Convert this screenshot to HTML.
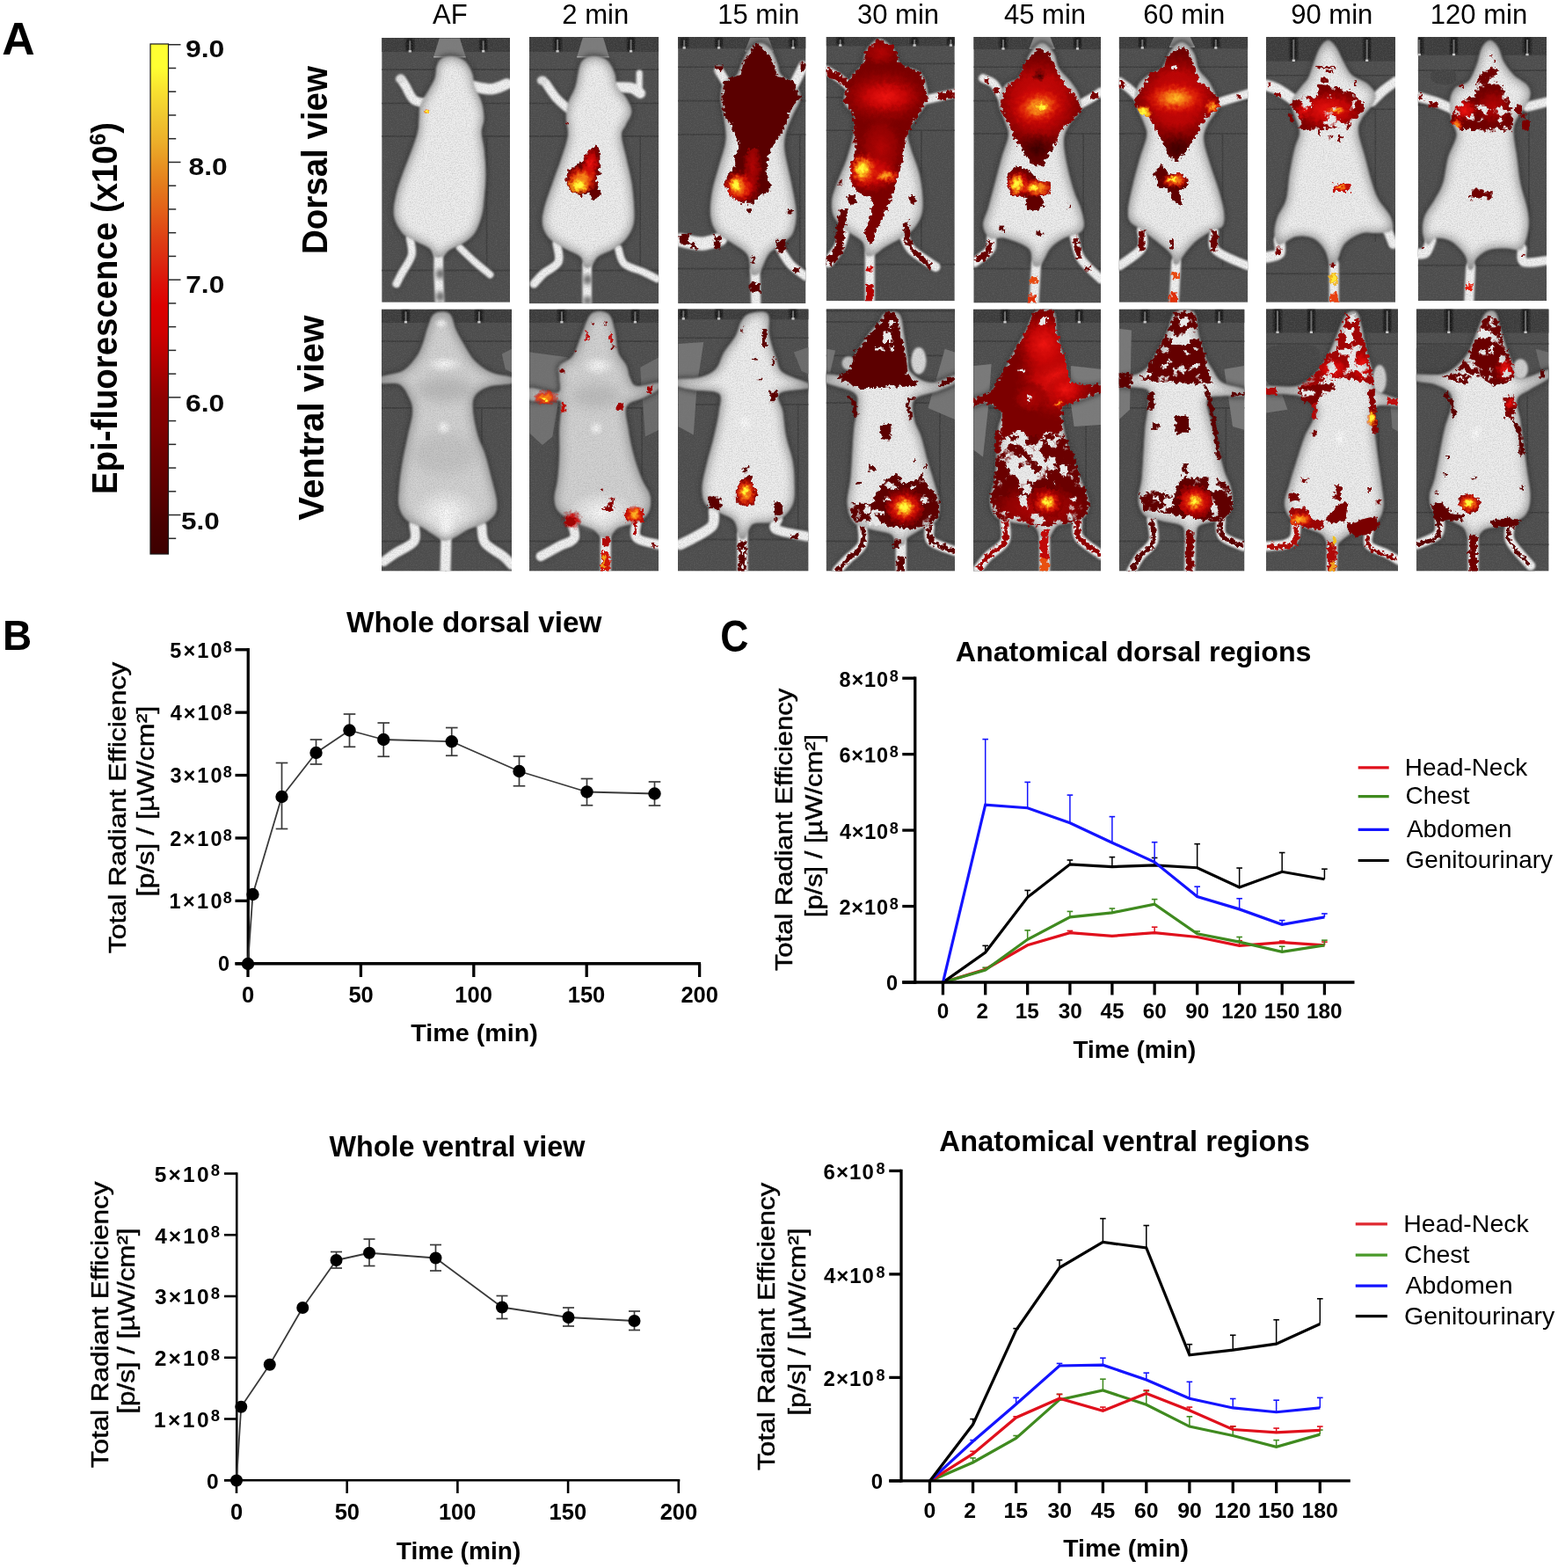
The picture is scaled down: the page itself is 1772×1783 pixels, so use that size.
<!DOCTYPE html>
<html lang="en">
<head>
<meta charset="utf-8">
<title>Epi-fluorescence biodistribution figure</title>
<style>
html,body{margin:0;padding:0;background:#fff;}
body{width:1772px;height:1783px;overflow:hidden;}
svg{display:block;font-family:"Liberation Sans", sans-serif;}
</style>
</head>
<body>
<svg width="1772" height="1783" viewBox="0 0 1772 1783">
<defs>
<linearGradient id="cbar" x1="0" y1="0" x2="0" y2="1">
<stop offset="0" stop-color="#ffff32"/>
<stop offset="0.045" stop-color="#ffff32"/>
<stop offset="0.093" stop-color="#f8e030"/>
<stop offset="0.14" stop-color="#f0c830"/>
<stop offset="0.19" stop-color="#ecb02a"/>
<stop offset="0.235" stop-color="#e89422"/>
<stop offset="0.276" stop-color="#e47c1c"/>
<stop offset="0.33" stop-color="#e25e18"/>
<stop offset="0.377" stop-color="#de4214"/>
<stop offset="0.424" stop-color="#dc2a10"/>
<stop offset="0.472" stop-color="#dc1008"/>
<stop offset="0.513" stop-color="#dd0000"/>
<stop offset="0.566" stop-color="#d00000"/>
<stop offset="0.614" stop-color="#b80000"/>
<stop offset="0.66" stop-color="#a00000"/>
<stop offset="0.7" stop-color="#8c0000"/>
<stop offset="0.75" stop-color="#800000"/>
<stop offset="0.8" stop-color="#700000"/>
<stop offset="0.845" stop-color="#640000"/>
<stop offset="0.89" stop-color="#580000"/>
<stop offset="0.94" stop-color="#480000"/>
<stop offset="1.0" stop-color="#3c0000"/>
</linearGradient>
<filter id="soft" x="-10%" y="-10%" width="120%" height="120%"><feGaussianBlur stdDeviation="1.3"/></filter>
<filter id="soft2" x="-20%" y="-20%" width="140%" height="140%"><feGaussianBlur stdDeviation="2.5"/></filter>
<filter id="soft3" x="-40%" y="-40%" width="180%" height="180%"><feGaussianBlur stdDeviation="7"/></filter>
<filter id="bodyF" x="-5%" y="-5%" width="110%" height="110%" color-interpolation-filters="sRGB">
<feMorphology in="SourceAlpha" operator="erode" radius="2" result="er"/>
<feGaussianBlur in="er" stdDeviation="5.5" result="bl"/>
<feFlood flood-color="#eeeeee" result="wh"/>
<feComposite in="wh" in2="bl" operator="in" result="hi"/>
<feFlood flood-color="#8a8a8a" result="gy"/>
<feComposite in="gy" in2="SourceAlpha" operator="in" result="base"/>
<feMerge result="m"><feMergeNode in="base"/><feMergeNode in="hi"/></feMerge>
<feComposite in="m" in2="SourceAlpha" operator="in" result="mm"/>
<feGaussianBlur in="mm" stdDeviation="1.1"/>
</filter>
<filter id="bodyFV" x="-5%" y="-5%" width="110%" height="110%" color-interpolation-filters="sRGB">
<feMorphology in="SourceAlpha" operator="erode" radius="2" result="er"/>
<feGaussianBlur in="er" stdDeviation="6" result="bl"/>
<feFlood flood-color="#d2d2d2" result="wh"/>
<feComposite in="wh" in2="bl" operator="in" result="hi"/>
<feFlood flood-color="#8c8c8c" result="gy"/>
<feComposite in="gy" in2="SourceAlpha" operator="in" result="base"/>
<feMerge result="m"><feMergeNode in="base"/><feMergeNode in="hi"/></feMerge>
<feComposite in="m" in2="SourceAlpha" operator="in" result="mm"/>
<feGaussianBlur in="mm" stdDeviation="1.1"/>
</filter>
<filter id="hsoft" x="-5%" y="-5%" width="110%" height="110%" color-interpolation-filters="sRGB">
<feTurbulence type="fractalNoise" baseFrequency="0.22" numOctaves="2" seed="7" result="n"/>
<feDisplacementMap in="SourceGraphic" in2="n" scale="9" xChannelSelector="R" yChannelSelector="G" result="d"/>
<feGaussianBlur in="d" stdDeviation="0.45"/>
</filter>
<filter id="mot1" x="-5%" y="-5%" width="110%" height="110%" color-interpolation-filters="sRGB">
<feTurbulence type="fractalNoise" baseFrequency="0.075" numOctaves="2" seed="21" result="n"/>
<feColorMatrix in="n" type="matrix" values="0 0 0 0 0  0 0 0 0 0  0 0 0 0 0  14 0 0 0 -5.0" result="m"/>
<feComposite in="SourceGraphic" in2="m" operator="in"/>
</filter>
<filter id="mot2" x="-5%" y="-5%" width="110%" height="110%" color-interpolation-filters="sRGB">
<feTurbulence type="fractalNoise" baseFrequency="0.075" numOctaves="2" seed="33" result="n"/>
<feColorMatrix in="n" type="matrix" values="0 0 0 0 0  0 0 0 0 0  0 0 0 0 0  14 0 0 0 -6.0" result="m"/>
<feComposite in="SourceGraphic" in2="m" operator="in"/>
</filter>
<filter id="mot3" x="-5%" y="-5%" width="110%" height="110%" color-interpolation-filters="sRGB">
<feTurbulence type="fractalNoise" baseFrequency="0.075" numOctaves="2" seed="45" result="n"/>
<feColorMatrix in="n" type="matrix" values="0 0 0 0 0  0 0 0 0 0  0 0 0 0 0  14 0 0 0 -6.9" result="m"/>
<feComposite in="SourceGraphic" in2="m" operator="in"/>
</filter>
<filter id="grain" x="0" y="0" width="100%" height="100%" color-interpolation-filters="sRGB">
<feTurbulence type="fractalNoise" baseFrequency="0.75" numOctaves="2" seed="11" result="n"/>
<feColorMatrix in="n" type="matrix" values="0 0 0 0 0.5  0 0 0 0 0.5  0 0 0 0 0.5  1.2 0 0 0 -0.45" result="g"/>
<feComposite in="g" in2="SourceAlpha" operator="in"/>
</filter>
<linearGradient id="bodyD" x1="0" y1="0" x2="1" y2="0">
<stop offset="0" stop-color="#b4b4b4"/><stop offset="0.18" stop-color="#dcdcdc"/><stop offset="0.5" stop-color="#f6f6f6"/>
<stop offset="0.82" stop-color="#dedede"/><stop offset="1" stop-color="#b8b8b8"/></linearGradient>
<linearGradient id="bodyV" x1="0" y1="0" x2="1" y2="0">
<stop offset="0" stop-color="#b0b0b0"/><stop offset="0.2" stop-color="#cfcfcf"/><stop offset="0.5" stop-color="#e2e2e2"/>
<stop offset="0.8" stop-color="#cfcfcf"/><stop offset="1" stop-color="#b0b0b0"/></linearGradient>
<radialGradient id="gY"><stop offset="0" stop-color="#ffff46"/><stop offset="0.3" stop-color="#fff030"/><stop offset="0.5" stop-color="#fab01a" stop-opacity="0.95"/>
<stop offset="0.72" stop-color="#f06a10" stop-opacity="0.7"/><stop offset="1" stop-color="#e03008" stop-opacity="0"/></radialGradient>
<radialGradient id="gO"><stop offset="0" stop-color="#ffc428"/><stop offset="0.3" stop-color="#f47a14"/><stop offset="0.6" stop-color="#e02808" stop-opacity="0.85"/>
<stop offset="1" stop-color="#c00000" stop-opacity="0"/></radialGradient>
<radialGradient id="gR"><stop offset="0" stop-color="#ee1410"/><stop offset="0.5" stop-color="#cc0606" stop-opacity="0.85"/>
<stop offset="1" stop-color="#900000" stop-opacity="0"/></radialGradient>
<radialGradient id="gM"><stop offset="0" stop-color="#b40404"/><stop offset="0.6" stop-color="#980202" stop-opacity="0.8"/>
<stop offset="1" stop-color="#700000" stop-opacity="0"/></radialGradient>
<radialGradient id="gK"><stop offset="0" stop-color="#3c0000"/><stop offset="1" stop-color="#500000" stop-opacity="0"/></radialGradient>
<radialGradient id="gW"><stop offset="0" stop-color="#ffffff" stop-opacity="0.9"/><stop offset="1" stop-color="#ffffff" stop-opacity="0"/></radialGradient>
<clipPath id="hc1"><path d="M676.4 166.4C677.9 166.2 681.4 168.0 682.1 171.2C682.8 174.5 682.6 190.0 682.1 194.3C681.7 198.5 678.2 205.0 678.3 207.7C678.4 210.4 682.7 215.2 683.1 217.3C683.4 219.4 682.4 224.8 681.2 225.9C679.9 227.0 673.7 227.5 672.5 226.9C671.3 226.2 671.9 220.7 670.6 220.2C669.3 219.6 663.5 222.2 661.0 222.1C658.5 222.0 651.4 220.8 649.5 219.2C647.6 217.6 645.3 211.1 644.7 208.6C644.1 206.2 643.7 200.4 644.7 198.1C645.7 195.7 651.2 190.3 653.3 188.5C655.5 186.7 661.1 184.5 662.9 182.7C664.7 181.0 667.1 175.1 668.7 173.1C670.2 171.2 674.8 166.7 676.4 166.4Z"/></clipPath>
<clipPath id="hc2"><path d="M871.3 194.3L875.1 207.7L877.0 217.3L863.6 223.0L855.9 230.7L842.5 230.7L831.0 223.0L824.3 207.7L827.2 200.0L836.7 188.5L852.1 169.3L863.6 169.3Z"/></clipPath>
<clipPath id="hc3"><path d="M984.5 58.0L999.8 43.6L1017.1 56.1L1024.8 73.4L1047.8 83.0L1055.5 111.7L1042.1 134.8L1032.5 150.1L1028.6 169.3L1024.8 188.5L1020.9 201.9L1017.1 217.3L1009.4 236.5L999.8 255.7L990.2 280.6L982.6 265.2L990.2 246.1L992.2 226.9L974.9 219.2L967.2 203.8L967.2 188.5L973.0 169.3L971.1 150.1L971.1 130.9L959.5 115.6L967.2 88.7L980.7 73.4Z"/></clipPath>
<clipPath id="hc4"><path d="M1183.3 54.2L1194.8 63.8L1202.4 79.1L1210.1 94.5L1225.5 111.7L1231.2 125.2L1217.8 138.6L1206.3 148.2L1202.4 159.7L1194.8 173.1L1185.2 188.5L1171.7 186.6L1166.0 175.1L1154.5 159.7L1148.7 144.4L1141.0 130.9L1137.2 117.5L1144.9 98.3L1158.3 88.7L1167.9 67.6Z"/></clipPath>
<clipPath id="hc5"><path d="M1146.8 196.2L1156.4 188.5L1171.7 194.3L1179.4 203.8L1194.8 207.7L1195.7 217.3L1183.3 224.0L1189.0 232.6L1179.4 239.3L1167.9 237.4L1166.0 225.0L1150.6 222.1L1145.8 211.5Z"/></clipPath>
<clipPath id="hc6"><path d="M1342.5 52.3L1352.1 59.9L1359.8 77.2L1363.6 92.6L1377.1 102.2L1388.6 115.6L1382.8 127.1L1371.3 132.9L1363.6 148.2L1354.0 165.5L1342.5 180.8L1332.9 182.7L1325.2 169.3L1315.7 150.1L1308.0 134.8L1296.5 129.0L1288.8 113.7L1300.3 98.3L1306.1 84.9L1321.4 79.1L1329.1 61.9Z"/></clipPath>
<clipPath id="hc7"><path d="M1311.8 198.1L1321.4 186.6L1329.1 196.2L1344.4 198.1L1352.1 203.8L1348.3 213.4L1340.6 217.3L1345.4 226.9L1343.5 235.5L1334.8 227.8L1329.1 216.3L1317.6 212.5Z"/></clipPath>
<clipPath id="hc8"><path d="M1499.1 96.4L1516.3 98.3L1533.6 102.2L1547.0 113.7L1552.8 125.2L1537.4 136.7L1533.6 147.2L1506.7 146.3L1478.0 147.2L1464.5 134.8L1468.4 117.5L1479.9 109.8L1499.1 109.8Z"/></clipPath>
<clipPath id="hc9"><path d="M1516.3 209.6L1535.5 208.6L1535.5 217.3L1520.2 217.3L1516.3 221.1L1515.4 213.4Z"/></clipPath>
<clipPath id="hc10"><path d="M1696.7 75.3L1704.4 83.0L1694.8 90.6L1706.3 96.4L1714.0 107.9L1717.8 121.3L1721.6 134.8L1717.8 148.2L1698.6 150.1L1679.4 148.2L1660.2 148.2L1650.7 138.6L1652.6 125.2L1666.0 113.7L1677.5 107.9L1679.4 90.6L1687.1 81.0Z"/></clipPath>
<clipPath id="hc11"><path d="M846.3 542.5L855.9 540.6L855.9 550.2L861.7 561.7L857.9 573.2L844.4 576.1L836.7 569.4L836.7 556.0Z"/></clipPath>
<clipPath id="hc12"><path d="M963.4 571.3L990.2 573.2L1007.5 544.5L1019.0 538.7L1028.6 550.2L1044.0 544.5L1047.8 534.9L1055.5 554.1L1067.0 563.7L1068.9 582.8L1059.3 596.3L1036.3 602.0L1009.4 598.2L990.2 592.4L971.1 592.4L967.2 580.9Z"/></clipPath>
<clipPath id="hc13"><path d="M1009.4 559.8C1011.9 556.9 1024.1 553.6 1028.6 554.1C1033.1 554.5 1045.3 560.1 1047.8 563.7C1050.3 567.2 1051.1 580.7 1049.7 584.8C1048.4 588.8 1040.3 597.1 1036.3 598.2C1032.3 599.3 1018.5 596.6 1015.2 594.4C1011.8 592.1 1008.2 583.0 1007.5 579.0C1006.8 575.0 1007.0 562.7 1009.4 559.8Z"/></clipPath>
<clipPath id="hc14"><path d="M1177.5 352.6L1198.6 352.6L1202.4 381.4L1210.1 406.3L1217.8 435.1L1240.8 438.9L1253.3 437.0L1253.3 444.7L1229.3 454.3L1208.2 462.0L1208.2 486.9L1202.4 496.5L1190.9 490.7L1181.3 502.3L1167.9 496.5L1158.3 488.8L1139.1 502.3L1139.1 467.7L1121.9 458.1L1105.6 462.0L1105.6 454.3L1125.7 446.6L1141.0 423.6L1152.6 400.6L1166.0 377.5Z"/></clipPath>
<clipPath id="hc15"><path d="M1133.4 519.5L1144.9 531.0L1158.3 554.1L1175.6 550.2L1181.3 534.9L1190.9 544.5L1198.6 515.7L1210.1 502.3L1221.6 515.7L1225.5 534.9L1233.1 554.1L1238.9 573.2L1233.1 588.6L1217.8 594.4L1202.4 598.2L1175.6 598.2L1152.6 594.4L1133.4 588.6L1125.7 569.4L1131.5 544.5Z"/></clipPath>
<clipPath id="hc16"><path d="M1133.4 496.5L1210.1 492.7L1225.5 534.9L1229.3 563.7L1129.5 563.7L1131.5 534.9Z"/></clipPath>
<clipPath id="hc17"><path d="M1175.6 557.9C1177.6 555.2 1187.4 553.8 1190.9 554.1C1194.5 554.3 1204.0 557.6 1206.3 559.8C1208.5 562.1 1210.6 570.1 1210.1 573.2C1209.7 576.4 1205.4 584.9 1202.4 586.7C1199.5 588.5 1188.5 589.7 1185.2 588.6C1181.8 587.5 1174.8 580.7 1173.7 577.1C1172.5 573.5 1173.6 560.6 1175.6 557.9Z"/></clipPath>
<clipPath id="hc18"><path d="M1336.8 354.5L1357.9 354.5L1363.6 381.4L1371.3 406.3L1373.2 423.6L1379.0 435.1L1363.6 437.0L1334.8 435.1L1306.1 433.2L1294.5 429.3L1306.1 415.9L1315.7 400.6L1327.2 377.5Z"/></clipPath>
<clipPath id="hc19"><path d="M1294.5 559.8L1315.7 557.9L1334.8 563.7L1346.4 534.9L1352.1 544.5L1373.2 542.5L1392.4 546.4L1402.0 563.7L1402.0 577.1L1396.2 586.7L1382.8 592.4L1363.6 590.5L1344.4 588.6L1321.4 582.8L1302.2 580.9Z"/></clipPath>
<clipPath id="hc20"><path d="M1342.5 556.0C1344.5 553.1 1356.0 551.9 1359.8 552.1C1363.6 552.4 1372.9 555.4 1375.1 557.9C1377.4 560.4 1379.4 569.9 1379.0 573.2C1378.5 576.6 1374.2 584.9 1371.3 586.7C1368.4 588.5 1357.4 589.7 1354.0 588.6C1350.7 587.5 1343.9 580.9 1342.5 577.1C1341.2 573.3 1340.5 558.9 1342.5 556.0Z"/></clipPath>
<clipPath id="hc21"><path d="M1531.7 356.4L1545.1 362.2L1549.0 381.4L1554.7 400.6L1560.5 423.6L1562.4 438.9L1552.8 435.1L1537.4 431.3L1522.1 429.3L1506.7 433.2L1493.3 438.9L1478.0 446.6L1476.0 438.9L1493.3 427.4L1502.9 415.9L1506.7 406.3L1518.3 389.0L1525.9 371.8Z"/></clipPath>
<clipPath id="hc22"><path d="M1466.5 579.0L1483.7 577.1L1493.3 590.5L1506.7 592.4L1502.9 602.0L1481.8 600.1L1468.4 594.4Z"/></clipPath>
<clipPath id="hc23"><path d="M1689.0 358.3L1702.5 360.3L1708.2 381.4L1714.0 400.6L1721.6 417.8L1721.6 429.3L1710.1 437.0L1698.6 438.9L1685.2 429.3L1669.8 423.6L1656.4 419.7L1669.8 404.4L1679.4 381.4Z"/></clipPath>
<clipPath id="hc24"><path d="M1710.1 452.4L1721.6 448.5L1723.6 465.8L1719.7 477.3L1712.1 475.4Z"/></clipPath>
<clipPath id="hc25"><path d="M1658.3 565.6C1659.0 563.3 1667.2 561.5 1669.8 561.7C1672.5 562.0 1679.8 565.7 1681.4 567.5C1682.9 569.3 1683.9 575.1 1683.3 577.1C1682.6 579.1 1677.8 584.3 1675.6 584.8C1673.4 585.2 1666.1 583.2 1664.1 580.9C1662.1 578.7 1657.7 567.8 1658.3 565.6Z"/></clipPath>
<clipPath id="cp0"><rect x="434.20" y="43.00" width="145.80" height="300.80"/></clipPath>
<clipPath id="cp1"><rect x="601.90" y="41.90" width="147.30" height="303.40"/></clipPath>
<clipPath id="cp2"><rect x="771.10" y="42.00" width="145.40" height="303.00"/></clipPath>
<clipPath id="cp3"><rect x="939.60" y="42.00" width="146.20" height="300.30"/></clipPath>
<clipPath id="cp4"><rect x="1107.30" y="42.00" width="144.70" height="302.50"/></clipPath>
<clipPath id="cp5"><rect x="1272.70" y="42.00" width="146.60" height="301.80"/></clipPath>
<clipPath id="cp6"><rect x="1440.00" y="42.00" width="147.00" height="301.80"/></clipPath>
<clipPath id="cp7"><rect x="1612.70" y="42.00" width="146.30" height="300.00"/></clipPath>
<clipPath id="cp8"><rect x="434.00" y="351.80" width="148.00" height="297.70"/></clipPath>
<clipPath id="cp9"><rect x="602.00" y="351.80" width="147.00" height="297.70"/></clipPath>
<clipPath id="cp10"><rect x="771.00" y="351.50" width="148.60" height="298.00"/></clipPath>
<clipPath id="cp11"><rect x="939.60" y="351.50" width="146.40" height="298.00"/></clipPath>
<clipPath id="cp12"><rect x="1107.00" y="351.80" width="145.00" height="297.70"/></clipPath>
<clipPath id="cp13"><rect x="1272.70" y="351.80" width="142.80" height="297.70"/></clipPath>
<clipPath id="cp14"><rect x="1440.00" y="351.50" width="150.00" height="298.00"/></clipPath>
<clipPath id="cp15"><rect x="1610.80" y="351.50" width="150.80" height="298.00"/></clipPath>
</defs>
<rect x="0" y="0" width="1772" height="1783" fill="#fff"/>
<text transform="translate(2.21 62.00) scale(0.9960 1)" font-size="52" font-weight="bold" fill="#000" >A</text>
<g id="colorbar">
<rect x="171" y="50" width="20.5" height="580" fill="url(#cbar)" stroke="#1a1a1a" stroke-width="1.2"/>
<line x1="191.50" y1="50.75" x2="205.50" y2="50.75" stroke="#2a2a2a" stroke-width="1.5" stroke-linecap="butt"/>
<line x1="191.50" y1="77.49" x2="200.20" y2="77.49" stroke="#2a2a2a" stroke-width="1.5" stroke-linecap="butt"/>
<line x1="191.50" y1="104.23" x2="200.20" y2="104.23" stroke="#2a2a2a" stroke-width="1.5" stroke-linecap="butt"/>
<line x1="191.50" y1="130.97" x2="200.20" y2="130.97" stroke="#2a2a2a" stroke-width="1.5" stroke-linecap="butt"/>
<line x1="191.50" y1="157.71" x2="200.20" y2="157.71" stroke="#2a2a2a" stroke-width="1.5" stroke-linecap="butt"/>
<line x1="191.50" y1="184.45" x2="205.50" y2="184.45" stroke="#2a2a2a" stroke-width="1.5" stroke-linecap="butt"/>
<line x1="191.50" y1="211.19" x2="200.20" y2="211.19" stroke="#2a2a2a" stroke-width="1.5" stroke-linecap="butt"/>
<line x1="191.50" y1="237.93" x2="200.20" y2="237.93" stroke="#2a2a2a" stroke-width="1.5" stroke-linecap="butt"/>
<line x1="191.50" y1="264.67" x2="200.20" y2="264.67" stroke="#2a2a2a" stroke-width="1.5" stroke-linecap="butt"/>
<line x1="191.50" y1="291.41" x2="200.20" y2="291.41" stroke="#2a2a2a" stroke-width="1.5" stroke-linecap="butt"/>
<line x1="191.50" y1="318.15" x2="205.50" y2="318.15" stroke="#2a2a2a" stroke-width="1.5" stroke-linecap="butt"/>
<line x1="191.50" y1="344.89" x2="200.20" y2="344.89" stroke="#2a2a2a" stroke-width="1.5" stroke-linecap="butt"/>
<line x1="191.50" y1="371.63" x2="200.20" y2="371.63" stroke="#2a2a2a" stroke-width="1.5" stroke-linecap="butt"/>
<line x1="191.50" y1="398.37" x2="200.20" y2="398.37" stroke="#2a2a2a" stroke-width="1.5" stroke-linecap="butt"/>
<line x1="191.50" y1="425.11" x2="200.20" y2="425.11" stroke="#2a2a2a" stroke-width="1.5" stroke-linecap="butt"/>
<line x1="191.50" y1="451.85" x2="205.50" y2="451.85" stroke="#2a2a2a" stroke-width="1.5" stroke-linecap="butt"/>
<line x1="191.50" y1="478.59" x2="200.20" y2="478.59" stroke="#2a2a2a" stroke-width="1.5" stroke-linecap="butt"/>
<line x1="191.50" y1="505.33" x2="200.20" y2="505.33" stroke="#2a2a2a" stroke-width="1.5" stroke-linecap="butt"/>
<line x1="191.50" y1="532.07" x2="200.20" y2="532.07" stroke="#2a2a2a" stroke-width="1.5" stroke-linecap="butt"/>
<line x1="191.50" y1="558.81" x2="200.20" y2="558.81" stroke="#2a2a2a" stroke-width="1.5" stroke-linecap="butt"/>
<line x1="191.50" y1="585.55" x2="205.50" y2="585.55" stroke="#2a2a2a" stroke-width="1.5" stroke-linecap="butt"/>
<line x1="191.50" y1="612.29" x2="200.20" y2="612.29" stroke="#2a2a2a" stroke-width="1.5" stroke-linecap="butt"/>
<text transform="translate(210.88 64.60) scale(1.1614 1)" font-size="27.5" font-weight="bold" fill="#0a0a0a" >9.0</text>
<text transform="translate(214.55 198.60) scale(1.1570 1)" font-size="27.5" font-weight="bold" fill="#0a0a0a" >8.0</text>
<text transform="translate(211.23 332.60) scale(1.1520 1)" font-size="27.5" font-weight="bold" fill="#0a0a0a" >7.0</text>
<text transform="translate(210.88 467.80) scale(1.1614 1)" font-size="27.5" font-weight="bold" fill="#0a0a0a" >6.0</text>
<text transform="translate(206.06 601.80) scale(1.1433 1)" font-size="27.5" font-weight="bold" fill="#0a0a0a" >5.0</text>
</g>
<text transform="translate(132.50 561.99) rotate(-90) scale(0.9362 1)" font-size="41" font-weight="bold" fill="#000" >Epi-fluorescence (x10<tspan font-size="26" dy="-13">6</tspan><tspan dy="13">)</tspan></text>
<text transform="translate(372.00 289.00) rotate(-90) scale(0.9388 1)" font-size="41" font-weight="bold" fill="#000" >Dorsal view</text>
<text transform="translate(367.50 591.70) rotate(-90) scale(0.9832 1)" font-size="41" font-weight="bold" fill="#000" >Ventral view</text>
<text x="492.01" y="27.00" font-size="31" font-weight="normal" fill="#000">AF</text>
<text x="639.36" y="27.00" font-size="31" font-weight="normal" fill="#000">2 min</text>
<text x="816.27" y="27.00" font-size="31" font-weight="normal" fill="#000">15 min</text>
<text x="974.99" y="27.00" font-size="31" font-weight="normal" fill="#000">30 min</text>
<text x="1141.97" y="27.00" font-size="31" font-weight="normal" fill="#000">45 min</text>
<text x="1300.15" y="27.00" font-size="31" font-weight="normal" fill="#000">60 min</text>
<text x="1468.23" y="27.00" font-size="31" font-weight="normal" fill="#000">90 min</text>
<text x="1626.87" y="27.00" font-size="31" font-weight="normal" fill="#000">120 min</text>
<g id="img-dorsal-AF" clip-path="url(#cp0)">
<rect x="434.20" y="43.00" width="145.80" height="300.80" fill="#4c4c4c"/>
<rect x="434.2" y="41.7" width="145.8" height="17.3" fill="#3b3b3b"/>
<rect x="461.8" y="43.6" width="8.8" height="14.2" fill="#191919" filter="url(#soft)"/>
<rect x="465.3" y="46.3" width="2.0" height="12.7" fill="#6e6e6e"/>
<rect x="464.7" y="57.1" width="3.2" height="2.4" fill="#d0d0d0"/>
<rect x="545.3" y="43.6" width="8.8" height="14.2" fill="#191919" filter="url(#soft)"/>
<rect x="548.7" y="46.3" width="2.0" height="12.7" fill="#6e6e6e"/>
<rect x="548.1" y="57.1" width="3.2" height="2.4" fill="#d0d0d0"/>
<line x1="434.2" y1="79.1" x2="580.0" y2="79.1" stroke="#3a3a3a" stroke-width="1.6"/>
<line x1="434.2" y1="117.5" x2="580.0" y2="117.5" stroke="#3a3a3a" stroke-width="1.6"/>
<line x1="434.2" y1="154.9" x2="580.0" y2="154.9" stroke="#3a3a3a" stroke-width="1.6"/>
<line x1="434.2" y1="307.5" x2="580.0" y2="307.5" stroke="#3c3c3c" stroke-width="2.0"/>
<line x1="553.6" y1="154.9" x2="553.6" y2="303.6" stroke="#3c3c3c" stroke-width="1.6"/>
<path d="M499.7 43.6L523.0 43.6L529.6 64.7L493.1 64.7Z" fill="#7c7c7c"/>
<line x1="493.1" y1="64.7" x2="529.6" y2="64.7" stroke="#b4b4b4" stroke-width="1.5"/>
<path d="M512.3 63.8C516.1 63.8 521.4 65.1 524.8 66.7C528.1 68.3 530.3 70.3 532.4 73.4C534.6 76.4 536.5 80.7 537.8 84.9C539.1 89.0 538.5 93.2 540.1 98.3C541.8 103.4 546.0 109.5 547.8 115.6C549.6 121.7 550.7 129.0 550.7 134.8C550.7 140.5 547.8 144.4 547.8 150.1C547.8 155.9 549.9 161.3 550.7 169.3C551.5 177.3 552.6 188.5 552.6 198.1C552.6 207.7 551.5 218.9 550.7 226.9C549.9 234.9 549.6 239.7 547.8 246.1C546.0 252.5 543.6 260.1 540.1 265.2C536.6 270.4 531.5 273.6 526.7 276.8C521.9 280.0 515.2 281.9 511.3 284.4C507.5 287.0 506.5 290.8 503.7 292.1C500.8 293.4 496.6 293.7 494.1 292.1C491.5 290.5 491.8 285.4 488.3 282.5C484.8 279.6 478.1 277.7 473.0 274.8C467.9 272.0 461.8 270.0 457.6 265.2C453.5 260.5 449.3 253.1 448.0 246.1C446.7 239.0 448.3 231.0 449.9 223.0C451.5 215.0 454.7 206.4 457.6 198.1C460.5 189.8 464.3 181.1 467.2 173.1C470.1 165.2 473.4 156.5 474.9 150.1C476.4 143.7 475.9 139.9 476.4 134.8C476.9 129.7 475.9 124.9 477.8 119.4C479.6 114.0 484.6 107.3 487.4 102.2C490.1 97.0 493.0 93.2 494.5 88.7C496.0 84.2 495.2 79.0 496.4 75.3C497.6 71.6 499.1 68.6 501.7 66.7C504.4 64.7 508.5 63.8 512.3 63.8Z" fill="#303030" stroke="#303030" stroke-width="5" opacity="0.75" filter="url(#soft2)"/>
<path d="M488.3 117.5C485.4 116.9 475.5 116.9 471.0 113.7C466.6 110.5 463.9 102.2 461.5 98.3C459.1 94.5 457.5 91.9 456.7 90.6" fill="none" stroke="#303030" stroke-width="13.6" stroke-linecap="round" stroke-linejoin="round" opacity="0.6" filter="url(#soft2)"/>
<path d="M538.2 98.3C541.7 98.8 552.9 101.7 559.3 101.2C565.7 100.7 573.7 96.4 576.6 95.4" fill="none" stroke="#303030" stroke-width="15.5" stroke-linecap="round" stroke-linejoin="round" opacity="0.6" filter="url(#soft2)"/>
<path d="M466.3 271.0C466.6 274.2 469.8 283.5 468.2 290.2C466.6 296.9 459.5 305.9 456.7 311.3C453.8 316.7 451.9 320.9 450.9 322.8" fill="none" stroke="#303030" stroke-width="12.1" stroke-linecap="round" stroke-linejoin="round" opacity="0.6" filter="url(#soft2)"/>
<path d="M522.9 281.6C525.7 284.3 534.4 292.8 540.1 297.9C545.9 303.0 554.5 309.9 557.4 312.3" fill="none" stroke="#303030" stroke-width="11.2" stroke-linecap="round" stroke-linejoin="round" opacity="0.6" filter="url(#soft2)"/>
<path d="M498.9 288.3C498.9 292.4 498.6 303.9 498.9 313.2C499.1 322.5 500.0 338.8 500.2 343.9" fill="none" stroke="#303030" stroke-width="13.6" stroke-linecap="round" stroke-linejoin="round" opacity="0.6" filter="url(#soft2)"/>
<g filter="url(#soft)">
<path d="M488.3 117.5C485.4 116.9 475.5 116.9 471.0 113.7C466.6 110.5 463.9 102.2 461.5 98.3C459.1 94.5 457.5 91.9 456.7 90.6" fill="none" stroke="#f2f2f2" stroke-width="10.6" stroke-linecap="round" stroke-linejoin="round"/>
<ellipse class="blobL" cx="455.7" cy="89.7" rx="5.8" ry="5.4" fill="#e4e4e4"/>
<path d="M538.2 98.3C541.7 98.8 552.9 101.7 559.3 101.2C565.7 100.7 573.7 96.4 576.6 95.4" fill="none" stroke="#f2f2f2" stroke-width="12.5" stroke-linecap="round" stroke-linejoin="round"/>
<path d="M466.3 271.0C466.6 274.2 469.8 283.5 468.2 290.2C466.6 296.9 459.5 305.9 456.7 311.3C453.8 316.7 451.9 320.9 450.9 322.8" fill="none" stroke="#f2f2f2" stroke-width="9.1" stroke-linecap="round" stroke-linejoin="round"/>
<path d="M522.9 281.6C525.7 284.3 534.4 292.8 540.1 297.9C545.9 303.0 554.5 309.9 557.4 312.3" fill="none" stroke="#f2f2f2" stroke-width="8.2" stroke-linecap="round" stroke-linejoin="round"/>
<path d="M498.9 288.3C498.9 292.4 498.6 303.9 498.9 313.2C499.1 322.5 500.0 338.8 500.2 343.9" fill="none" stroke="#f2f2f2" stroke-width="10.6" stroke-linecap="round" stroke-linejoin="round"/>
</g>
<path d="M512.3 63.8C516.1 63.8 521.4 65.1 524.8 66.7C528.1 68.3 530.3 70.3 532.4 73.4C534.6 76.4 536.5 80.7 537.8 84.9C539.1 89.0 538.5 93.2 540.1 98.3C541.8 103.4 546.0 109.5 547.8 115.6C549.6 121.7 550.7 129.0 550.7 134.8C550.7 140.5 547.8 144.4 547.8 150.1C547.8 155.9 549.9 161.3 550.7 169.3C551.5 177.3 552.6 188.5 552.6 198.1C552.6 207.7 551.5 218.9 550.7 226.9C549.9 234.9 549.6 239.7 547.8 246.1C546.0 252.5 543.6 260.1 540.1 265.2C536.6 270.4 531.5 273.6 526.7 276.8C521.9 280.0 515.2 281.9 511.3 284.4C507.5 287.0 506.5 290.8 503.7 292.1C500.8 293.4 496.6 293.7 494.1 292.1C491.5 290.5 491.8 285.4 488.3 282.5C484.8 279.6 478.1 277.7 473.0 274.8C467.9 272.0 461.8 270.0 457.6 265.2C453.5 260.5 449.3 253.1 448.0 246.1C446.7 239.0 448.3 231.0 449.9 223.0C451.5 215.0 454.7 206.4 457.6 198.1C460.5 189.8 464.3 181.1 467.2 173.1C470.1 165.2 473.4 156.5 474.9 150.1C476.4 143.7 475.9 139.9 476.4 134.8C476.9 129.7 475.9 124.9 477.8 119.4C479.6 114.0 484.6 107.3 487.4 102.2C490.1 97.0 493.0 93.2 494.5 88.7C496.0 84.2 495.2 79.0 496.4 75.3C497.6 71.6 499.1 68.6 501.7 66.7C504.4 64.7 508.5 63.8 512.3 63.8Z" fill="#fff" filter="url(#bodyF)"/>
<g filter="url(#soft)">
<ellipse cx="500.8" cy="311.3" rx="5.0" ry="5.8" fill="#555" opacity="0.9" filter="url(#soft2)"/>
<ellipse cx="500.8" cy="337.2" rx="5.0" ry="5.8" fill="#555" opacity="0.9" filter="url(#soft2)"/>
</g>
<rect x="434.20" y="43.00" width="145.80" height="300.80" fill="#000" filter="url(#grain)" opacity="0.5"/>
<g filter="url(#hsoft)">
<ellipse cx="485.4" cy="126.7" rx="2.7" ry="2.7" fill="url(#gY)"/>
</g>
</g>
<g id="img-dorsal-2min" clip-path="url(#cp1)">
<rect x="601.90" y="41.90" width="147.30" height="303.40" fill="#4c4c4c"/>
<rect x="601.9" y="40.4" width="147.3" height="18.6" fill="#3b3b3b"/>
<rect x="629.7" y="42.3" width="8.8" height="15.5" fill="#191919" filter="url(#soft)"/>
<rect x="633.1" y="45.0" width="2.0" height="14.0" fill="#6e6e6e"/>
<rect x="632.5" y="57.1" width="3.2" height="2.4" fill="#d0d0d0"/>
<rect x="713.2" y="42.3" width="8.8" height="15.5" fill="#191919" filter="url(#soft)"/>
<rect x="716.6" y="45.0" width="2.0" height="14.0" fill="#6e6e6e"/>
<rect x="716.0" y="57.1" width="3.2" height="2.4" fill="#d0d0d0"/>
<line x1="601.9" y1="79.1" x2="749.2" y2="79.1" stroke="#3a3a3a" stroke-width="1.6"/>
<line x1="601.9" y1="117.5" x2="749.2" y2="117.5" stroke="#3a3a3a" stroke-width="1.6"/>
<line x1="601.9" y1="154.9" x2="749.2" y2="154.9" stroke="#3a3a3a" stroke-width="1.6"/>
<line x1="601.9" y1="307.5" x2="749.2" y2="307.5" stroke="#3c3c3c" stroke-width="2.0"/>
<line x1="728.2" y1="154.9" x2="728.2" y2="303.6" stroke="#3c3c3c" stroke-width="1.6"/>
<path d="M662.8 42.7L686.1 42.7L692.7 64.7L656.2 64.7Z" fill="#7c7c7c"/>
<line x1="656.2" y1="64.7" x2="692.7" y2="64.7" stroke="#b4b4b4" stroke-width="1.5"/>
<path d="M675.4 63.8C679.2 63.8 684.7 65.1 687.9 66.7C691.1 68.3 692.6 70.3 694.6 73.4C696.6 76.4 698.5 80.7 699.8 84.9C701.0 89.0 700.1 93.8 702.3 98.3C704.4 102.8 710.1 107.0 712.8 111.7C715.5 116.5 718.7 122.0 718.6 127.1C718.4 132.2 713.8 138.0 711.9 142.4C709.9 146.9 706.9 147.6 707.1 154.0C707.2 160.4 710.9 171.9 712.8 180.8C714.7 189.8 717.1 198.4 718.6 207.7C720.0 217.0 721.1 228.5 721.4 236.5C721.8 244.5 721.9 249.9 720.5 255.7C719.0 261.4 716.3 266.5 712.8 271.0C709.3 275.5 704.8 279.0 699.4 282.5C693.9 286.0 684.7 288.6 680.2 292.1C675.7 295.6 675.2 301.7 672.5 303.6C669.8 305.5 666.0 305.5 663.9 303.6C661.8 301.7 663.7 295.6 660.0 292.1C656.4 288.6 647.7 286.0 641.8 282.5C635.9 279.0 628.7 275.5 624.5 271.0C620.4 266.5 617.8 261.4 616.9 255.7C615.9 249.9 616.9 244.5 618.8 236.5C620.7 228.5 625.2 217.0 628.4 207.7C631.6 198.4 635.1 189.8 638.0 180.8C640.9 171.9 644.7 161.6 645.7 154.0C646.6 146.3 643.7 140.9 643.7 134.8C643.7 128.7 643.9 123.6 645.7 117.5C647.4 111.4 652.1 105.4 654.3 98.3C656.5 91.3 657.3 80.6 659.1 75.3C660.8 70.0 662.1 68.6 664.8 66.7C667.6 64.7 671.6 63.8 675.4 63.8Z" fill="#303030" stroke="#303030" stroke-width="5" opacity="0.75" filter="url(#soft2)"/>
<path d="M645.7 123.3C643.4 121.2 636.4 115.6 632.2 110.8C628.1 106.0 622.6 97.2 620.7 94.5" fill="none" stroke="#303030" stroke-width="13.1" stroke-linecap="round" stroke-linejoin="round" opacity="0.6" filter="url(#soft2)"/>
<path d="M701.3 99.3C704.2 99.4 714.1 99.1 718.6 100.2C723.0 101.4 726.6 105.0 728.2 106.0" fill="none" stroke="#303030" stroke-width="15.0" stroke-linecap="round" stroke-linejoin="round" opacity="0.6" filter="url(#soft2)"/>
<path d="M727.2 104.1 L727.2 83.0" fill="none" stroke="#303030" stroke-width="10.2" stroke-linecap="round" stroke-linejoin="round" opacity="0.6" filter="url(#soft2)"/>
<path d="M633.2 276.8C633.5 280.3 637.7 292.1 635.1 297.9C632.5 303.6 622.5 307.1 617.8 311.3C613.2 315.5 609.0 320.9 607.3 322.8" fill="none" stroke="#303030" stroke-width="12.6" stroke-linecap="round" stroke-linejoin="round" opacity="0.6" filter="url(#soft2)"/>
<path d="M703.2 282.5C704.3 285.4 705.1 295.3 709.9 299.8C714.7 304.3 725.8 306.5 732.0 309.4C738.2 312.3 744.8 315.8 747.3 317.1" fill="none" stroke="#303030" stroke-width="11.6" stroke-linecap="round" stroke-linejoin="round" opacity="0.6" filter="url(#soft2)"/>
<path d="M667.7 301.7 L667.7 343.9" fill="none" stroke="#303030" stroke-width="13.6" stroke-linecap="round" stroke-linejoin="round" opacity="0.6" filter="url(#soft2)"/>
<g filter="url(#soft)">
<path d="M645.7 123.3C643.4 121.2 636.4 115.6 632.2 110.8C628.1 106.0 622.6 97.2 620.7 94.5" fill="none" stroke="#f2f2f2" stroke-width="10.1" stroke-linecap="round" stroke-linejoin="round"/>
<ellipse class="blobL" cx="616.9" cy="91.6" rx="6.1" ry="5.0" fill="#e4e4e4"/>
<path d="M701.3 99.3C704.2 99.4 714.1 99.1 718.6 100.2C723.0 101.4 726.6 105.0 728.2 106.0" fill="none" stroke="#f2f2f2" stroke-width="12.0" stroke-linecap="round" stroke-linejoin="round"/>
<path d="M727.2 104.1 L727.2 83.0" fill="none" stroke="#f2f2f2" stroke-width="7.2" stroke-linecap="round" stroke-linejoin="round"/>
<path d="M633.2 276.8C633.5 280.3 637.7 292.1 635.1 297.9C632.5 303.6 622.5 307.1 617.8 311.3C613.2 315.5 609.0 320.9 607.3 322.8" fill="none" stroke="#f2f2f2" stroke-width="9.6" stroke-linecap="round" stroke-linejoin="round"/>
<path d="M703.2 282.5C704.3 285.4 705.1 295.3 709.9 299.8C714.7 304.3 725.8 306.5 732.0 309.4C738.2 312.3 744.8 315.8 747.3 317.1" fill="none" stroke="#f2f2f2" stroke-width="8.6" stroke-linecap="round" stroke-linejoin="round"/>
<path d="M667.7 301.7 L667.7 343.9" fill="none" stroke="#f2f2f2" stroke-width="10.6" stroke-linecap="round" stroke-linejoin="round"/>
</g>
<path d="M675.4 63.8C679.2 63.8 684.7 65.1 687.9 66.7C691.1 68.3 692.6 70.3 694.6 73.4C696.6 76.4 698.5 80.7 699.8 84.9C701.0 89.0 700.1 93.8 702.3 98.3C704.4 102.8 710.1 107.0 712.8 111.7C715.5 116.5 718.7 122.0 718.6 127.1C718.4 132.2 713.8 138.0 711.9 142.4C709.9 146.9 706.9 147.6 707.1 154.0C707.2 160.4 710.9 171.9 712.8 180.8C714.7 189.8 717.1 198.4 718.6 207.7C720.0 217.0 721.1 228.5 721.4 236.5C721.8 244.5 721.9 249.9 720.5 255.7C719.0 261.4 716.3 266.5 712.8 271.0C709.3 275.5 704.8 279.0 699.4 282.5C693.9 286.0 684.7 288.6 680.2 292.1C675.7 295.6 675.2 301.7 672.5 303.6C669.8 305.5 666.0 305.5 663.9 303.6C661.8 301.7 663.7 295.6 660.0 292.1C656.4 288.6 647.7 286.0 641.8 282.5C635.9 279.0 628.7 275.5 624.5 271.0C620.4 266.5 617.8 261.4 616.9 255.7C615.9 249.9 616.9 244.5 618.8 236.5C620.7 228.5 625.2 217.0 628.4 207.7C631.6 198.4 635.1 189.8 638.0 180.8C640.9 171.9 644.7 161.6 645.7 154.0C646.6 146.3 643.7 140.9 643.7 134.8C643.7 128.7 643.9 123.6 645.7 117.5C647.4 111.4 652.1 105.4 654.3 98.3C656.5 91.3 657.3 80.6 659.1 75.3C660.8 70.0 662.1 68.6 664.8 66.7C667.6 64.7 671.6 63.8 675.4 63.8Z" fill="#fff" filter="url(#bodyF)"/>
<g filter="url(#soft)">
<ellipse cx="668.3" cy="318.0" rx="5.0" ry="5.8" fill="#555" opacity="0.9" filter="url(#soft2)"/>
<ellipse cx="668.3" cy="342.0" rx="5.0" ry="5.0" fill="#555" opacity="0.9" filter="url(#soft2)"/>
</g>
<rect x="601.90" y="41.90" width="147.30" height="303.40" fill="#000" filter="url(#grain)" opacity="0.5"/>
<g filter="url(#hsoft)">
<g clip-path="url(#hc1)">
<path d="M676.4 166.4C677.9 166.2 681.4 168.0 682.1 171.2C682.8 174.5 682.6 190.0 682.1 194.3C681.7 198.5 678.2 205.0 678.3 207.7C678.4 210.4 682.7 215.2 683.1 217.3C683.4 219.4 682.4 224.8 681.2 225.9C679.9 227.0 673.7 227.5 672.5 226.9C671.3 226.2 671.9 220.7 670.6 220.2C669.3 219.6 663.5 222.2 661.0 222.1C658.5 222.0 651.4 220.8 649.5 219.2C647.6 217.6 645.3 211.1 644.7 208.6C644.1 206.2 643.7 200.4 644.7 198.1C645.7 195.7 651.2 190.3 653.3 188.5C655.5 186.7 661.1 184.5 662.9 182.7C664.7 181.0 667.1 175.1 668.7 173.1C670.2 171.2 674.8 166.7 676.4 166.4Z" fill="#640000"/>
<ellipse cx="671.6" cy="186.6" rx="11.5" ry="23.0" fill="url(#gR)" transform="rotate(10 671.6 186.6)"/>
<ellipse cx="662.0" cy="203.8" rx="19.2" ry="16.3" fill="url(#gO)"/>
<ellipse cx="658.1" cy="210.6" rx="14.4" ry="11.5" fill="url(#gY)"/>
</g>
<rect x="643.2" y="138.8" width="3.1" height="2.7" fill="#7a0000"/>
</g>
</g>
<g id="img-dorsal-15min" clip-path="url(#cp2)">
<rect x="771.10" y="42.00" width="145.40" height="303.00" fill="#4c4c4c"/>
<rect x="771.1" y="40.8" width="145.4" height="14.4" fill="#3b3b3b"/>
<rect x="773.8" y="42.7" width="8.8" height="11.3" fill="#191919" filter="url(#soft)"/>
<rect x="777.2" y="45.4" width="2.0" height="9.8" fill="#6e6e6e"/>
<rect x="776.6" y="53.2" width="3.2" height="2.4" fill="#d0d0d0"/>
<rect x="813.1" y="42.7" width="8.8" height="11.3" fill="#191919" filter="url(#soft)"/>
<rect x="816.6" y="45.4" width="2.0" height="9.8" fill="#6e6e6e"/>
<rect x="816.0" y="53.2" width="3.2" height="2.4" fill="#d0d0d0"/>
<rect x="897.6" y="42.7" width="8.8" height="11.3" fill="#191919" filter="url(#soft)"/>
<rect x="901.0" y="45.4" width="2.0" height="9.8" fill="#6e6e6e"/>
<rect x="900.4" y="53.2" width="3.2" height="2.4" fill="#d0d0d0"/>
<line x1="771.1" y1="76.3" x2="916.5" y2="76.3" stroke="#3a3a3a" stroke-width="1.6"/>
<line x1="771.1" y1="114.6" x2="916.5" y2="114.6" stroke="#3a3a3a" stroke-width="1.6"/>
<line x1="771.1" y1="153.0" x2="916.5" y2="153.0" stroke="#3a3a3a" stroke-width="1.6"/>
<line x1="771.1" y1="305.5" x2="916.5" y2="305.5" stroke="#3c3c3c" stroke-width="2.0"/>
<line x1="909.7" y1="153.0" x2="909.7" y2="303.6" stroke="#3c3c3c" stroke-width="1.6"/>
<path d="M853.2 42.7L874.0 42.7L879.9 58.0L847.3 58.0Z" fill="#7c7c7c"/>
<line x1="847.3" y1="58.0" x2="879.9" y2="58.0" stroke="#b4b4b4" stroke-width="1.5"/>
<path d="M852.1 56.1C855.5 52.6 860.4 48.4 864.6 48.4C868.7 48.4 873.7 51.9 877.0 56.1C880.4 60.3 882.8 68.6 884.7 73.4C886.6 78.2 885.0 80.7 888.6 84.9C892.1 89.0 902.1 93.8 905.8 98.3C909.5 102.8 911.3 106.3 910.6 111.7C910.0 117.2 904.7 124.5 902.0 130.9C899.3 137.3 895.9 143.7 894.3 150.1C892.7 156.5 891.8 161.3 892.4 169.3C893.0 177.3 896.2 188.5 898.1 198.1C900.1 207.7 902.6 218.9 903.9 226.9C905.2 234.9 906.1 239.7 905.8 246.1C905.5 252.5 904.5 260.1 902.0 265.2C899.4 270.4 895.0 272.9 890.5 276.8C886.0 280.6 879.0 283.8 875.1 288.3C871.3 292.8 869.4 299.8 867.4 303.6C865.5 307.5 865.9 310.0 863.6 311.3C861.4 312.6 856.3 314.8 854.0 311.3C851.8 307.8 853.7 295.9 850.2 290.2C846.7 284.4 838.7 280.9 832.9 276.8C827.2 272.6 819.8 270.4 815.6 265.2C811.5 260.1 808.9 254.1 808.0 246.1C807.0 238.1 808.3 226.9 809.9 217.3C811.5 207.7 815.0 198.1 817.6 188.5C820.1 178.9 824.3 168.7 825.2 159.7C826.2 150.8 824.3 142.8 823.3 134.8C822.4 126.8 819.5 118.8 819.5 111.7C819.5 104.7 820.4 96.7 823.3 92.6C826.2 88.4 833.2 90.6 836.7 86.8C840.3 83.0 841.9 74.7 844.4 69.5C847.0 64.4 848.7 59.6 852.1 56.1Z" fill="#303030" stroke="#303030" stroke-width="5" opacity="0.75" filter="url(#soft2)"/>
<path d="M826.2 94.5 L817.6 80.1" fill="none" stroke="#303030" stroke-width="13.6" stroke-linecap="round" stroke-linejoin="round" opacity="0.6" filter="url(#soft2)"/>
<path d="M902.0 98.3 L913.5 75.3" fill="none" stroke="#303030" stroke-width="14.5" stroke-linecap="round" stroke-linejoin="round" opacity="0.6" filter="url(#soft2)"/>
<path d="M819.5 272.0C816.0 272.8 806.0 277.0 798.4 277.1C790.7 277.3 777.6 273.6 773.4 272.9" fill="none" stroke="#303030" stroke-width="18.3" stroke-linecap="round" stroke-linejoin="round" opacity="0.6" filter="url(#soft2)"/>
<path d="M886.6 281.6C888.7 284.8 894.2 295.3 899.1 300.7C904.1 306.2 913.5 311.9 916.4 314.2" fill="none" stroke="#303030" stroke-width="13.1" stroke-linecap="round" stroke-linejoin="round" opacity="0.6" filter="url(#soft2)"/>
<path d="M858.8 307.5 L859.8 344.9" fill="none" stroke="#303030" stroke-width="14.0" stroke-linecap="round" stroke-linejoin="round" opacity="0.6" filter="url(#soft2)"/>
<g filter="url(#soft)">
<path d="M826.2 94.5 L817.6 80.1" fill="none" stroke="#f2f2f2" stroke-width="10.6" stroke-linecap="round" stroke-linejoin="round"/>
<path d="M902.0 98.3 L913.5 75.3" fill="none" stroke="#f2f2f2" stroke-width="11.5" stroke-linecap="round" stroke-linejoin="round"/>
<path d="M819.5 272.0C816.0 272.8 806.0 277.0 798.4 277.1C790.7 277.3 777.6 273.6 773.4 272.9" fill="none" stroke="#f2f2f2" stroke-width="15.3" stroke-linecap="round" stroke-linejoin="round"/>
<path d="M886.6 281.6C888.7 284.8 894.2 295.3 899.1 300.7C904.1 306.2 913.5 311.9 916.4 314.2" fill="none" stroke="#f2f2f2" stroke-width="10.1" stroke-linecap="round" stroke-linejoin="round"/>
<path d="M858.8 307.5 L859.8 344.9" fill="none" stroke="#f2f2f2" stroke-width="11.0" stroke-linecap="round" stroke-linejoin="round"/>
</g>
<path d="M852.1 56.1C855.5 52.6 860.4 48.4 864.6 48.4C868.7 48.4 873.7 51.9 877.0 56.1C880.4 60.3 882.8 68.6 884.7 73.4C886.6 78.2 885.0 80.7 888.6 84.9C892.1 89.0 902.1 93.8 905.8 98.3C909.5 102.8 911.3 106.3 910.6 111.7C910.0 117.2 904.7 124.5 902.0 130.9C899.3 137.3 895.9 143.7 894.3 150.1C892.7 156.5 891.8 161.3 892.4 169.3C893.0 177.3 896.2 188.5 898.1 198.1C900.1 207.7 902.6 218.9 903.9 226.9C905.2 234.9 906.1 239.7 905.8 246.1C905.5 252.5 904.5 260.1 902.0 265.2C899.4 270.4 895.0 272.9 890.5 276.8C886.0 280.6 879.0 283.8 875.1 288.3C871.3 292.8 869.4 299.8 867.4 303.6C865.5 307.5 865.9 310.0 863.6 311.3C861.4 312.6 856.3 314.8 854.0 311.3C851.8 307.8 853.7 295.9 850.2 290.2C846.7 284.4 838.7 280.9 832.9 276.8C827.2 272.6 819.8 270.4 815.6 265.2C811.5 260.1 808.9 254.1 808.0 246.1C807.0 238.1 808.3 226.9 809.9 217.3C811.5 207.7 815.0 198.1 817.6 188.5C820.1 178.9 824.3 168.7 825.2 159.7C826.2 150.8 824.3 142.8 823.3 134.8C822.4 126.8 819.5 118.8 819.5 111.7C819.5 104.7 820.4 96.7 823.3 92.6C826.2 88.4 833.2 90.6 836.7 86.8C840.3 83.0 841.9 74.7 844.4 69.5C847.0 64.4 848.7 59.6 852.1 56.1Z" fill="#fff" filter="url(#bodyF)"/>
<g filter="url(#soft)">

</g>
<rect x="771.10" y="42.00" width="145.40" height="303.00" fill="#000" filter="url(#grain)" opacity="0.5"/>
<g filter="url(#hsoft)">
<path d="M855.9 51.3L863.6 50.3L867.4 56.1L879.0 67.6L884.7 86.8L902.9 92.6L909.7 111.7L898.1 127.1L894.3 142.4L882.8 159.7L875.1 173.1L871.3 194.3L875.1 207.7L877.0 217.3L863.6 223.0L855.9 230.7L842.5 230.7L831.0 223.0L824.3 207.7L827.2 200.0L836.7 188.5L834.8 177.0L840.6 165.5L832.9 142.4L823.3 130.9L821.4 111.7L823.3 92.6L842.5 84.9L846.3 65.7L854.0 59.9Z" fill="#5a0000"/>
<g clip-path="url(#hc2)">
<ellipse cx="855.9" cy="188.5" rx="11.5" ry="38.4" fill="url(#gM)"/>
<ellipse cx="842.5" cy="213.4" rx="23.0" ry="21.1" fill="url(#gR)"/>
<ellipse cx="839.6" cy="212.5" rx="16.3" ry="18.2" fill="url(#gO)" transform="rotate(-20 839.6 212.5)"/>
<ellipse cx="836.7" cy="210.6" rx="9.2" ry="11.9" fill="url(#gY)" transform="rotate(-20 836.7 210.6)"/>
</g>
<rect x="773.4" y="265.2" width="11.5" height="13.4" fill="#5c0000"/>
<rect x="784.9" y="276.8" width="7.7" height="5.8" fill="#5c0000"/>
<rect x="811.8" y="268.1" width="7.7" height="15.3" fill="#5c0000"/>
<rect x="812.8" y="74.3" width="9.6" height="5.8" fill="#5c0000"/>
<rect x="882.8" y="272.9" width="11.5" height="13.4" fill="#5c0000"/>
<rect x="853.5" y="320.9" width="10.6" height="11.5" fill="#5c0000"/>
<rect x="910.6" y="71.5" width="5.8" height="9.6" fill="#5c0000"/>
<rect x="902.0" y="304.6" width="7.7" height="5.8" fill="#5c0000"/>
<rect x="895.8" y="239.0" width="4.6" height="4.6" fill="#5c0000"/>
<rect x="850.2" y="238.4" width="3.8" height="3.8" fill="#5c0000"/>
<rect x="855.4" y="291.2" width="3.1" height="9.6" fill="#5c0000"/>
</g>
</g>
<g id="img-dorsal-30min" clip-path="url(#cp3)">
<rect x="939.60" y="42.00" width="146.20" height="300.30" fill="#4c4c4c"/>
<rect x="939.6" y="40.4" width="146.2" height="11.9" fill="#3b3b3b"/>
<rect x="951.3" y="42.3" width="8.8" height="8.8" fill="#191919" filter="url(#soft)"/>
<rect x="954.7" y="45.0" width="2.0" height="7.3" fill="#6e6e6e"/>
<rect x="954.1" y="50.3" width="3.2" height="2.4" fill="#d0d0d0"/>
<rect x="1035.7" y="42.3" width="8.8" height="8.8" fill="#191919" filter="url(#soft)"/>
<rect x="1039.1" y="45.0" width="2.0" height="7.3" fill="#6e6e6e"/>
<rect x="1038.5" y="50.3" width="3.2" height="2.4" fill="#d0d0d0"/>
<rect x="1077.0" y="42.3" width="8.8" height="8.8" fill="#191919" filter="url(#soft)"/>
<rect x="1080.4" y="45.0" width="2.0" height="7.3" fill="#6e6e6e"/>
<rect x="1079.8" y="50.3" width="3.2" height="2.4" fill="#d0d0d0"/>
<line x1="939.6" y1="72.4" x2="1085.8" y2="72.4" stroke="#3a3a3a" stroke-width="1.6"/>
<line x1="939.6" y1="110.8" x2="1085.8" y2="110.8" stroke="#3a3a3a" stroke-width="1.6"/>
<line x1="939.6" y1="148.2" x2="1085.8" y2="148.2" stroke="#3a3a3a" stroke-width="1.6"/>
<line x1="939.6" y1="300.7" x2="1085.8" y2="300.7" stroke="#3c3c3c" stroke-width="2.0"/>
<line x1="1047.8" y1="148.2" x2="1047.8" y2="284.4" stroke="#3c3c3c" stroke-width="1.6"/>
<path d="M984.5 58.0C987.7 53.1 994.4 44.0 999.8 43.6C1005.3 43.3 1013.0 51.1 1017.1 56.1C1021.3 61.1 1019.7 68.9 1024.8 73.4C1029.9 77.9 1042.7 76.6 1047.8 83.0C1052.9 89.4 1056.4 103.1 1055.5 111.7C1054.5 120.4 1045.9 128.4 1042.1 134.8C1038.2 141.2 1033.4 144.4 1032.5 150.1C1031.5 155.9 1034.1 161.3 1036.3 169.3C1038.5 177.3 1043.7 188.5 1045.9 198.1C1048.1 207.7 1049.4 218.9 1049.7 226.9C1050.0 234.9 1049.7 240.3 1047.8 246.1C1045.9 251.8 1042.1 257.3 1038.2 261.4C1034.4 265.6 1029.9 267.8 1024.8 271.0C1019.7 274.2 1012.6 277.4 1007.5 280.6C1002.4 283.8 997.9 288.6 994.1 290.2C990.2 291.8 986.7 292.8 984.5 290.2C982.3 287.6 984.5 279.6 980.7 274.8C976.8 270.0 966.9 266.2 961.5 261.4C956.0 256.6 950.6 251.8 948.0 246.1C945.5 240.3 945.5 233.3 946.1 226.9C946.8 220.5 949.0 215.7 951.9 207.7C954.8 199.7 960.2 188.5 963.4 178.9C966.6 169.3 969.8 158.1 971.1 150.1C972.3 142.1 973.0 136.7 971.1 130.9C969.1 125.2 960.2 122.6 959.5 115.6C958.9 108.6 963.7 95.8 967.2 88.7C970.7 81.7 977.8 78.5 980.7 73.4C983.5 68.3 981.3 63.0 984.5 58.0Z" fill="#303030" stroke="#303030" stroke-width="5" opacity="0.75" filter="url(#soft2)"/>
<path d="M967.2 100.2C965.3 98.5 960.2 93.0 955.7 89.7C951.2 86.3 942.9 81.7 940.4 80.1" fill="none" stroke="#303030" stroke-width="13.1" stroke-linecap="round" stroke-linejoin="round" opacity="0.6" filter="url(#soft2)"/>
<path d="M1051.6 113.7C1054.2 113.1 1061.4 111.4 1067.0 110.2C1072.6 109.0 1082.2 107.0 1085.2 106.4" fill="none" stroke="#303030" stroke-width="13.1" stroke-linecap="round" stroke-linejoin="round" opacity="0.6" filter="url(#soft2)"/>
<path d="M960.5 261.4C959.5 264.6 957.8 274.5 954.8 280.6C951.7 286.7 944.4 295.0 942.3 297.9" fill="none" stroke="#303030" stroke-width="15.5" stroke-linecap="round" stroke-linejoin="round" opacity="0.6" filter="url(#soft2)"/>
<path d="M1028.6 269.1C1030.1 271.6 1031.3 278.7 1037.3 284.4C1043.2 290.2 1059.6 300.4 1064.1 303.6" fill="none" stroke="#303030" stroke-width="14.0" stroke-linecap="round" stroke-linejoin="round" opacity="0.6" filter="url(#soft2)"/>
<path d="M989.3 288.3 L989.3 344.9" fill="none" stroke="#303030" stroke-width="14.0" stroke-linecap="round" stroke-linejoin="round" opacity="0.6" filter="url(#soft2)"/>
<g filter="url(#soft)">
<path d="M967.2 100.2C965.3 98.5 960.2 93.0 955.7 89.7C951.2 86.3 942.9 81.7 940.4 80.1" fill="none" stroke="#f2f2f2" stroke-width="10.1" stroke-linecap="round" stroke-linejoin="round"/>
<path d="M1051.6 113.7C1054.2 113.1 1061.4 111.4 1067.0 110.2C1072.6 109.0 1082.2 107.0 1085.2 106.4" fill="none" stroke="#f2f2f2" stroke-width="10.1" stroke-linecap="round" stroke-linejoin="round"/>
<path d="M960.5 261.4C959.5 264.6 957.8 274.5 954.8 280.6C951.7 286.7 944.4 295.0 942.3 297.9" fill="none" stroke="#f2f2f2" stroke-width="12.5" stroke-linecap="round" stroke-linejoin="round"/>
<path d="M1028.6 269.1C1030.1 271.6 1031.3 278.7 1037.3 284.4C1043.2 290.2 1059.6 300.4 1064.1 303.6" fill="none" stroke="#f2f2f2" stroke-width="11.0" stroke-linecap="round" stroke-linejoin="round"/>
<path d="M989.3 288.3 L989.3 344.9" fill="none" stroke="#f2f2f2" stroke-width="11.0" stroke-linecap="round" stroke-linejoin="round"/>
</g>
<path d="M984.5 58.0C987.7 53.1 994.4 44.0 999.8 43.6C1005.3 43.3 1013.0 51.1 1017.1 56.1C1021.3 61.1 1019.7 68.9 1024.8 73.4C1029.9 77.9 1042.7 76.6 1047.8 83.0C1052.9 89.4 1056.4 103.1 1055.5 111.7C1054.5 120.4 1045.9 128.4 1042.1 134.8C1038.2 141.2 1033.4 144.4 1032.5 150.1C1031.5 155.9 1034.1 161.3 1036.3 169.3C1038.5 177.3 1043.7 188.5 1045.9 198.1C1048.1 207.7 1049.4 218.9 1049.7 226.9C1050.0 234.9 1049.7 240.3 1047.8 246.1C1045.9 251.8 1042.1 257.3 1038.2 261.4C1034.4 265.6 1029.9 267.8 1024.8 271.0C1019.7 274.2 1012.6 277.4 1007.5 280.6C1002.4 283.8 997.9 288.6 994.1 290.2C990.2 291.8 986.7 292.8 984.5 290.2C982.3 287.6 984.5 279.6 980.7 274.8C976.8 270.0 966.9 266.2 961.5 261.4C956.0 256.6 950.6 251.8 948.0 246.1C945.5 240.3 945.5 233.3 946.1 226.9C946.8 220.5 949.0 215.7 951.9 207.7C954.8 199.7 960.2 188.5 963.4 178.9C966.6 169.3 969.8 158.1 971.1 150.1C972.3 142.1 973.0 136.7 971.1 130.9C969.1 125.2 960.2 122.6 959.5 115.6C958.9 108.6 963.7 95.8 967.2 88.7C970.7 81.7 977.8 78.5 980.7 73.4C983.5 68.3 981.3 63.0 984.5 58.0Z" fill="#fff" filter="url(#bodyF)"/>
<g filter="url(#soft)">

</g>
<rect x="939.60" y="42.00" width="146.20" height="300.30" fill="#000" filter="url(#grain)" opacity="0.5"/>
<g filter="url(#hsoft)">
<g clip-path="url(#hc3)">
<path d="M984.5 58.0L999.8 43.6L1017.1 56.1L1024.8 73.4L1047.8 83.0L1055.5 111.7L1042.1 134.8L1032.5 150.1L1028.6 169.3L1024.8 188.5L1020.9 201.9L1017.1 217.3L1009.4 236.5L999.8 255.7L990.2 280.6L982.6 265.2L990.2 246.1L992.2 226.9L974.9 219.2L967.2 203.8L967.2 188.5L973.0 169.3L971.1 150.1L971.1 130.9L959.5 115.6L967.2 88.7L980.7 73.4Z" fill="#7a0000"/>
<ellipse cx="1005.6" cy="109.8" rx="57.6" ry="38.4" fill="url(#gM)"/>
<ellipse cx="1007.5" cy="109.8" rx="44.1" ry="23.0" fill="url(#gR)"/>
<ellipse cx="1001.8" cy="59.9" rx="23.0" ry="17.3" fill="url(#gM)"/>
<ellipse cx="1001.8" cy="169.3" rx="28.8" ry="42.2" fill="url(#gM)"/>
<ellipse cx="990.2" cy="196.2" rx="36.5" ry="24.9" fill="url(#gR)"/>
<ellipse cx="1007.5" cy="200.0" rx="17.3" ry="8.6" fill="url(#gO)"/>
<ellipse cx="982.6" cy="193.3" rx="18.2" ry="20.1" fill="url(#gO)"/>
<ellipse cx="980.7" cy="192.3" rx="11.5" ry="15.3" fill="url(#gY)"/>
</g>
<path d="M966.3 99.3C964.5 97.7 960.0 92.9 955.7 89.7C951.4 86.5 942.9 81.7 940.4 80.1" fill="none" stroke="#7c0000" stroke-width="8.1" stroke-linecap="butt" stroke-linejoin="round"/>
<path d="M1067.0 110.2 L1085.2 106.4" fill="none" stroke="#7c0000" stroke-width="8.1" stroke-linecap="butt" stroke-linejoin="round"/>
<path d="M960.5 238.4C959.7 242.2 956.8 254.1 955.7 261.4C954.6 268.8 956.0 276.1 953.8 282.5C951.6 288.9 944.2 296.9 942.3 299.8" fill="none" stroke="#650000" stroke-width="9.6" stroke-linecap="butt" stroke-linejoin="round"/>
<path d="M1030.5 251.8C1030.9 255.3 1030.9 267.2 1032.5 272.9C1034.1 278.7 1035.7 281.2 1040.1 286.4C1044.6 291.5 1056.1 300.7 1059.3 303.6" fill="none" stroke="#650000" stroke-width="5.8" stroke-linecap="butt" stroke-linejoin="round"/>
<rect x="984.9" y="323.8" width="8.8" height="21.1" fill="#b00000"/>
<rect x="985.5" y="302.7" width="7.7" height="5.8" fill="#c80000"/>
<rect x="1034.4" y="223.0" width="7.7" height="7.7" fill="#650000"/>
<rect x="953.8" y="205.8" width="3.8" height="3.8" fill="#650000"/>
<rect x="965.3" y="221.1" width="7.7" height="11.5" fill="#650000"/>
</g>
</g>
<g id="img-dorsal-45min" clip-path="url(#cp4)">
<rect x="1107.30" y="42.00" width="144.70" height="302.50" fill="#4c4c4c"/>
<rect x="1107.3" y="40.4" width="144.7" height="15.7" fill="#3b3b3b"/>
<rect x="1136.6" y="42.3" width="8.8" height="12.7" fill="#191919" filter="url(#soft)"/>
<rect x="1140.0" y="45.0" width="2.0" height="11.1" fill="#6e6e6e"/>
<rect x="1139.4" y="54.2" width="3.2" height="2.4" fill="#d0d0d0"/>
<rect x="1221.1" y="42.3" width="8.8" height="12.7" fill="#191919" filter="url(#soft)"/>
<rect x="1224.5" y="45.0" width="2.0" height="11.1" fill="#6e6e6e"/>
<rect x="1223.9" y="54.2" width="3.2" height="2.4" fill="#d0d0d0"/>
<line x1="1107.3" y1="76.3" x2="1252.0" y2="76.3" stroke="#3a3a3a" stroke-width="1.6"/>
<line x1="1107.3" y1="114.6" x2="1252.0" y2="114.6" stroke="#3a3a3a" stroke-width="1.6"/>
<line x1="1107.3" y1="152.0" x2="1252.0" y2="152.0" stroke="#3a3a3a" stroke-width="1.6"/>
<line x1="1107.3" y1="305.5" x2="1252.0" y2="305.5" stroke="#3c3c3c" stroke-width="2.0"/>
<line x1="1232.2" y1="152.0" x2="1232.2" y2="303.6" stroke="#3c3c3c" stroke-width="1.6"/>
<path d="M1176.0 41.7L1194.4 41.7L1199.6 55.1L1170.8 55.1Z" fill="#8a8a8a"/>
<line x1="1170.8" y1="55.1" x2="1199.6" y2="55.1" stroke="#b4b4b4" stroke-width="1.5"/>
<path d="M1171.7 59.9C1174.9 55.8 1180.7 48.4 1185.2 48.4C1189.7 48.4 1195.4 55.1 1198.6 59.9C1201.8 64.7 1201.2 71.8 1204.4 77.2C1207.6 82.6 1214.0 87.4 1217.8 92.6C1221.6 97.7 1225.5 102.5 1227.4 107.9C1229.3 113.3 1231.2 119.4 1229.3 125.2C1227.4 130.9 1219.1 136.7 1215.9 142.4C1212.7 148.2 1210.4 152.0 1210.1 159.7C1209.8 167.4 1212.0 178.9 1214.0 188.5C1215.9 198.1 1219.1 209.3 1221.6 217.3C1224.2 225.3 1227.4 230.1 1229.3 236.5C1231.2 242.9 1233.5 250.9 1233.1 255.7C1232.8 260.5 1231.2 262.7 1227.4 265.2C1223.6 267.8 1215.6 268.1 1210.1 271.0C1204.7 273.9 1198.9 277.7 1194.8 282.5C1190.6 287.3 1187.7 296.3 1185.2 299.8C1182.6 303.3 1181.3 303.6 1179.4 303.6C1177.5 303.6 1175.3 303.3 1173.7 299.8C1172.1 296.3 1174.9 287.3 1169.8 282.5C1164.7 277.7 1150.3 272.9 1143.0 271.0C1135.6 269.1 1129.9 273.6 1125.7 271.0C1121.5 268.4 1118.3 261.4 1118.0 255.7C1117.7 249.9 1121.5 244.5 1123.8 236.5C1126.0 228.5 1128.9 217.3 1131.5 207.7C1134.0 198.1 1136.6 187.9 1139.1 178.9C1141.7 170.0 1146.2 160.7 1146.8 154.0C1147.4 147.2 1144.9 145.0 1143.0 138.6C1141.0 132.2 1135.3 122.6 1135.3 115.6C1135.3 108.6 1139.1 100.9 1143.0 96.4C1146.8 91.9 1154.5 92.6 1158.3 88.7C1162.2 84.9 1163.8 78.2 1166.0 73.4C1168.2 68.6 1168.6 64.1 1171.7 59.9Z" fill="#303030" stroke="#303030" stroke-width="5" opacity="0.75" filter="url(#soft2)"/>
<path d="M1140.1 111.7C1138.5 109.0 1134.2 99.2 1130.5 95.4C1126.8 91.7 1120.1 90.2 1118.0 89.1" fill="none" stroke="#303030" stroke-width="13.1" stroke-linecap="round" stroke-linejoin="round" opacity="0.6" filter="url(#soft2)"/>
<path d="M1227.4 119.4C1229.6 118.1 1236.7 114.2 1240.8 111.7C1244.9 109.3 1250.1 105.7 1252.0 104.5" fill="none" stroke="#303030" stroke-width="13.1" stroke-linecap="round" stroke-linejoin="round" opacity="0.6" filter="url(#soft2)"/>
<path d="M1127.6 271.0C1127.3 273.2 1128.9 279.9 1125.7 284.4C1122.5 289.0 1111.3 295.9 1108.4 298.3" fill="none" stroke="#303030" stroke-width="14.0" stroke-linecap="round" stroke-linejoin="round" opacity="0.6" filter="url(#soft2)"/>
<path d="M1221.6 269.1C1222.9 273.2 1224.3 286.0 1229.3 294.0C1234.4 302.1 1248.2 313.5 1252.0 317.4" fill="none" stroke="#303030" stroke-width="13.1" stroke-linecap="round" stroke-linejoin="round" opacity="0.6" filter="url(#soft2)"/>
<path d="M1178.5 299.8 L1176.0 344.9" fill="none" stroke="#303030" stroke-width="14.0" stroke-linecap="round" stroke-linejoin="round" opacity="0.6" filter="url(#soft2)"/>
<g filter="url(#soft)">
<path d="M1140.1 111.7C1138.5 109.0 1134.2 99.2 1130.5 95.4C1126.8 91.7 1120.1 90.2 1118.0 89.1" fill="none" stroke="#f2f2f2" stroke-width="10.1" stroke-linecap="round" stroke-linejoin="round"/>
<path d="M1227.4 119.4C1229.6 118.1 1236.7 114.2 1240.8 111.7C1244.9 109.3 1250.1 105.7 1252.0 104.5" fill="none" stroke="#f2f2f2" stroke-width="10.1" stroke-linecap="round" stroke-linejoin="round"/>
<path d="M1127.6 271.0C1127.3 273.2 1128.9 279.9 1125.7 284.4C1122.5 289.0 1111.3 295.9 1108.4 298.3" fill="none" stroke="#f2f2f2" stroke-width="11.0" stroke-linecap="round" stroke-linejoin="round"/>
<path d="M1221.6 269.1C1222.9 273.2 1224.3 286.0 1229.3 294.0C1234.4 302.1 1248.2 313.5 1252.0 317.4" fill="none" stroke="#f2f2f2" stroke-width="10.1" stroke-linecap="round" stroke-linejoin="round"/>
<path d="M1178.5 299.8 L1176.0 344.9" fill="none" stroke="#f2f2f2" stroke-width="11.0" stroke-linecap="round" stroke-linejoin="round"/>
</g>
<path d="M1171.7 59.9C1174.9 55.8 1180.7 48.4 1185.2 48.4C1189.7 48.4 1195.4 55.1 1198.6 59.9C1201.8 64.7 1201.2 71.8 1204.4 77.2C1207.6 82.6 1214.0 87.4 1217.8 92.6C1221.6 97.7 1225.5 102.5 1227.4 107.9C1229.3 113.3 1231.2 119.4 1229.3 125.2C1227.4 130.9 1219.1 136.7 1215.9 142.4C1212.7 148.2 1210.4 152.0 1210.1 159.7C1209.8 167.4 1212.0 178.9 1214.0 188.5C1215.9 198.1 1219.1 209.3 1221.6 217.3C1224.2 225.3 1227.4 230.1 1229.3 236.5C1231.2 242.9 1233.5 250.9 1233.1 255.7C1232.8 260.5 1231.2 262.7 1227.4 265.2C1223.6 267.8 1215.6 268.1 1210.1 271.0C1204.7 273.9 1198.9 277.7 1194.8 282.5C1190.6 287.3 1187.7 296.3 1185.2 299.8C1182.6 303.3 1181.3 303.6 1179.4 303.6C1177.5 303.6 1175.3 303.3 1173.7 299.8C1172.1 296.3 1174.9 287.3 1169.8 282.5C1164.7 277.7 1150.3 272.9 1143.0 271.0C1135.6 269.1 1129.9 273.6 1125.7 271.0C1121.5 268.4 1118.3 261.4 1118.0 255.7C1117.7 249.9 1121.5 244.5 1123.8 236.5C1126.0 228.5 1128.9 217.3 1131.5 207.7C1134.0 198.1 1136.6 187.9 1139.1 178.9C1141.7 170.0 1146.2 160.7 1146.8 154.0C1147.4 147.2 1144.9 145.0 1143.0 138.6C1141.0 132.2 1135.3 122.6 1135.3 115.6C1135.3 108.6 1139.1 100.9 1143.0 96.4C1146.8 91.9 1154.5 92.6 1158.3 88.7C1162.2 84.9 1163.8 78.2 1166.0 73.4C1168.2 68.6 1168.6 64.1 1171.7 59.9Z" fill="#fff" filter="url(#bodyF)"/>
<g filter="url(#soft)">

</g>
<rect x="1107.30" y="42.00" width="144.70" height="302.50" fill="#000" filter="url(#grain)" opacity="0.5"/>
<g filter="url(#hsoft)">
<g clip-path="url(#hc4)">
<path d="M1183.3 54.2L1194.8 63.8L1202.4 79.1L1210.1 94.5L1225.5 111.7L1231.2 125.2L1217.8 138.6L1206.3 148.2L1202.4 159.7L1194.8 173.1L1185.2 188.5L1171.7 186.6L1166.0 175.1L1154.5 159.7L1148.7 144.4L1141.0 130.9L1137.2 117.5L1144.9 98.3L1158.3 88.7L1167.9 67.6Z" fill="#6e0000"/>
<ellipse cx="1181.3" cy="115.6" rx="57.6" ry="57.6" fill="url(#gR)"/>
<ellipse cx="1179.4" cy="119.4" rx="38.4" ry="32.6" fill="url(#gR)"/>
<ellipse cx="1181.3" cy="121.3" rx="30.7" ry="21.1" fill="url(#gO)" transform="rotate(-15 1181.3 121.3)"/>
<ellipse cx="1185.2" cy="121.3" rx="9.6" ry="5.8" fill="url(#gY)"/>
<ellipse cx="1182.3" cy="85.8" rx="8.6" ry="7.7" fill="url(#gK)"/>
<ellipse cx="1179.4" cy="169.3" rx="24.9" ry="21.1" fill="url(#gK)"/>
</g>
<g clip-path="url(#hc5)">
<path d="M1146.8 196.2L1156.4 188.5L1171.7 194.3L1179.4 203.8L1194.8 207.7L1195.7 217.3L1183.3 224.0L1189.0 232.6L1179.4 239.3L1167.9 237.4L1166.0 225.0L1150.6 222.1L1145.8 211.5Z" fill="#620000"/>
<ellipse cx="1158.3" cy="209.6" rx="19.2" ry="19.2" fill="url(#gR)"/>
<ellipse cx="1179.4" cy="213.4" rx="23.0" ry="11.5" fill="url(#gO)"/>
<ellipse cx="1156.4" cy="209.6" rx="9.6" ry="13.4" fill="url(#gY)"/>
<ellipse cx="1175.6" cy="213.4" rx="8.6" ry="5.4" fill="url(#gY)"/>
</g>
<path d="M1126.7 274.8C1125.9 277.1 1124.7 284.8 1121.9 288.3C1119.0 291.8 1111.5 294.7 1109.4 295.9" fill="none" stroke="#6a0000" stroke-width="6.9" stroke-linecap="butt" stroke-linejoin="round"/>
<path d="M1222.6 270.0 L1227.4 294.0" fill="none" stroke="#6a0000" stroke-width="5.8" stroke-linecap="butt" stroke-linejoin="round"/>
<rect x="1240.8" y="105.0" width="7.7" height="7.7" fill="#7a0000"/>
<rect x="1130.5" y="99.3" width="5.8" height="7.7" fill="#7a0000"/>
<rect x="1119.6" y="89.3" width="4.6" height="4.6" fill="#7a0000"/>
<rect x="1171.4" y="315.1" width="8.4" height="7.7" fill="#e84a10"/>
<rect x="1169.4" y="335.3" width="8.4" height="9.6" fill="#e03008"/>
<rect x="1136.3" y="256.6" width="5.8" height="5.8" fill="#5c0000"/>
<rect x="1178.5" y="262.4" width="5.8" height="5.8" fill="#5c0000"/>
<rect x="1214.2" y="232.8" width="3.5" height="3.5" fill="#5c0000"/>
<rect x="1234.1" y="302.7" width="5.8" height="5.8" fill="#6a0000"/>
</g>
</g>
<g id="img-dorsal-60min" clip-path="url(#cp5)">
<rect x="1272.70" y="42.00" width="146.60" height="301.80" fill="#4c4c4c"/>
<rect x="1272.7" y="40.4" width="146.6" height="14.8" fill="#3b3b3b"/>
<rect x="1294.9" y="42.3" width="8.8" height="11.7" fill="#191919" filter="url(#soft)"/>
<rect x="1298.3" y="45.0" width="2.0" height="10.2" fill="#6e6e6e"/>
<rect x="1297.7" y="53.2" width="3.2" height="2.4" fill="#d0d0d0"/>
<rect x="1378.4" y="42.3" width="8.8" height="11.7" fill="#191919" filter="url(#soft)"/>
<rect x="1381.8" y="45.0" width="2.0" height="10.2" fill="#6e6e6e"/>
<rect x="1381.2" y="53.2" width="3.2" height="2.4" fill="#d0d0d0"/>
<line x1="1272.7" y1="76.3" x2="1419.3" y2="76.3" stroke="#3a3a3a" stroke-width="1.6"/>
<line x1="1272.7" y1="114.6" x2="1419.3" y2="114.6" stroke="#3a3a3a" stroke-width="1.6"/>
<line x1="1272.7" y1="152.0" x2="1419.3" y2="152.0" stroke="#3a3a3a" stroke-width="1.6"/>
<line x1="1272.7" y1="305.5" x2="1419.3" y2="305.5" stroke="#3c3c3c" stroke-width="2.0"/>
<line x1="1390.5" y1="152.0" x2="1390.5" y2="303.6" stroke="#3c3c3c" stroke-width="1.6"/>
<path d="M1335.2 41.7L1353.6 41.7L1358.8 53.2L1330.0 53.2Z" fill="#8a8a8a"/>
<line x1="1330.0" y1="53.2" x2="1358.8" y2="53.2" stroke="#b4b4b4" stroke-width="1.5"/>
<path d="M1331.0 58.0C1334.8 53.1 1340.0 47.2 1344.4 47.5C1348.9 47.8 1354.7 54.7 1357.9 59.9C1361.1 65.2 1360.7 73.7 1363.6 79.1C1366.5 84.6 1371.9 87.8 1375.1 92.6C1378.3 97.4 1380.9 103.1 1382.8 107.9C1384.7 112.7 1388.2 115.6 1386.6 121.3C1385.0 127.1 1376.1 136.1 1373.2 142.4C1370.3 148.8 1368.7 152.0 1369.4 159.7C1370.0 167.4 1374.2 178.9 1377.1 188.5C1379.9 198.1 1384.1 208.3 1386.6 217.3C1389.2 226.2 1391.8 235.5 1392.4 242.2C1393.0 248.9 1393.0 254.1 1390.5 257.6C1387.9 261.1 1382.2 260.5 1377.1 263.3C1371.9 266.2 1364.9 270.4 1359.8 274.8C1354.7 279.3 1349.6 286.0 1346.4 290.2C1343.2 294.3 1342.5 298.2 1340.6 299.8C1338.7 301.4 1336.4 301.7 1334.8 299.8C1333.2 297.9 1334.2 292.4 1331.0 288.3C1327.8 284.1 1321.1 279.3 1315.7 274.8C1310.2 270.4 1303.5 265.2 1298.4 261.4C1293.3 257.6 1287.5 256.0 1285.0 251.8C1282.4 247.7 1282.4 243.8 1283.0 236.5C1283.7 229.1 1286.6 217.3 1288.8 207.7C1291.0 198.1 1293.9 187.9 1296.5 178.9C1299.0 170.0 1303.5 160.7 1304.1 154.0C1304.8 147.2 1302.5 145.0 1300.3 138.6C1298.1 132.2 1291.7 122.6 1290.7 115.6C1289.8 108.6 1292.0 101.5 1294.5 96.4C1297.1 91.3 1301.6 88.1 1306.1 84.9C1310.5 81.7 1317.3 81.7 1321.4 77.2C1325.6 72.7 1327.2 63.0 1331.0 58.0Z" fill="#303030" stroke="#303030" stroke-width="5" opacity="0.75" filter="url(#soft2)"/>
<path d="M1295.5 111.7C1293.6 109.9 1287.7 103.8 1284.0 100.6C1280.3 97.5 1275.2 94.2 1273.4 92.9" fill="none" stroke="#303030" stroke-width="13.1" stroke-linecap="round" stroke-linejoin="round" opacity="0.6" filter="url(#soft2)"/>
<path d="M1382.8 117.5C1386.0 116.5 1395.8 113.6 1402.0 111.7C1408.2 109.9 1417.2 107.3 1420.2 106.4" fill="none" stroke="#303030" stroke-width="13.1" stroke-linecap="round" stroke-linejoin="round" opacity="0.6" filter="url(#soft2)"/>
<path d="M1298.4 261.4C1298.4 264.9 1302.5 275.7 1298.4 282.5C1294.2 289.3 1277.6 298.8 1273.4 302.1" fill="none" stroke="#303030" stroke-width="13.6" stroke-linecap="round" stroke-linejoin="round" opacity="0.6" filter="url(#soft2)"/>
<path d="M1380.9 263.3C1381.2 266.8 1376.6 278.0 1382.8 284.4C1389.0 290.9 1412.4 299.1 1418.3 302.1" fill="none" stroke="#303030" stroke-width="13.1" stroke-linecap="round" stroke-linejoin="round" opacity="0.6" filter="url(#soft2)"/>
<path d="M1337.7 297.9 L1335.2 344.9" fill="none" stroke="#303030" stroke-width="14.0" stroke-linecap="round" stroke-linejoin="round" opacity="0.6" filter="url(#soft2)"/>
<g filter="url(#soft)">
<path d="M1295.5 111.7C1293.6 109.9 1287.7 103.8 1284.0 100.6C1280.3 97.5 1275.2 94.2 1273.4 92.9" fill="none" stroke="#f2f2f2" stroke-width="10.1" stroke-linecap="round" stroke-linejoin="round"/>
<path d="M1382.8 117.5C1386.0 116.5 1395.8 113.6 1402.0 111.7C1408.2 109.9 1417.2 107.3 1420.2 106.4" fill="none" stroke="#f2f2f2" stroke-width="10.1" stroke-linecap="round" stroke-linejoin="round"/>
<path d="M1298.4 261.4C1298.4 264.9 1302.5 275.7 1298.4 282.5C1294.2 289.3 1277.6 298.8 1273.4 302.1" fill="none" stroke="#f2f2f2" stroke-width="10.6" stroke-linecap="round" stroke-linejoin="round"/>
<path d="M1380.9 263.3C1381.2 266.8 1376.6 278.0 1382.8 284.4C1389.0 290.9 1412.4 299.1 1418.3 302.1" fill="none" stroke="#f2f2f2" stroke-width="10.1" stroke-linecap="round" stroke-linejoin="round"/>
<path d="M1337.7 297.9 L1335.2 344.9" fill="none" stroke="#f2f2f2" stroke-width="11.0" stroke-linecap="round" stroke-linejoin="round"/>
</g>
<path d="M1331.0 58.0C1334.8 53.1 1340.0 47.2 1344.4 47.5C1348.9 47.8 1354.7 54.7 1357.9 59.9C1361.1 65.2 1360.7 73.7 1363.6 79.1C1366.5 84.6 1371.9 87.8 1375.1 92.6C1378.3 97.4 1380.9 103.1 1382.8 107.9C1384.7 112.7 1388.2 115.6 1386.6 121.3C1385.0 127.1 1376.1 136.1 1373.2 142.4C1370.3 148.8 1368.7 152.0 1369.4 159.7C1370.0 167.4 1374.2 178.9 1377.1 188.5C1379.9 198.1 1384.1 208.3 1386.6 217.3C1389.2 226.2 1391.8 235.5 1392.4 242.2C1393.0 248.9 1393.0 254.1 1390.5 257.6C1387.9 261.1 1382.2 260.5 1377.1 263.3C1371.9 266.2 1364.9 270.4 1359.8 274.8C1354.7 279.3 1349.6 286.0 1346.4 290.2C1343.2 294.3 1342.5 298.2 1340.6 299.8C1338.7 301.4 1336.4 301.7 1334.8 299.8C1333.2 297.9 1334.2 292.4 1331.0 288.3C1327.8 284.1 1321.1 279.3 1315.7 274.8C1310.2 270.4 1303.5 265.2 1298.4 261.4C1293.3 257.6 1287.5 256.0 1285.0 251.8C1282.4 247.7 1282.4 243.8 1283.0 236.5C1283.7 229.1 1286.6 217.3 1288.8 207.7C1291.0 198.1 1293.9 187.9 1296.5 178.9C1299.0 170.0 1303.5 160.7 1304.1 154.0C1304.8 147.2 1302.5 145.0 1300.3 138.6C1298.1 132.2 1291.7 122.6 1290.7 115.6C1289.8 108.6 1292.0 101.5 1294.5 96.4C1297.1 91.3 1301.6 88.1 1306.1 84.9C1310.5 81.7 1317.3 81.7 1321.4 77.2C1325.6 72.7 1327.2 63.0 1331.0 58.0Z" fill="#fff" filter="url(#bodyF)"/>
<g filter="url(#soft)">

</g>
<rect x="1272.70" y="42.00" width="146.60" height="301.80" fill="#000" filter="url(#grain)" opacity="0.5"/>
<g filter="url(#hsoft)">
<g clip-path="url(#hc6)">
<path d="M1342.5 52.3L1352.1 59.9L1359.8 77.2L1363.6 92.6L1377.1 102.2L1388.6 115.6L1382.8 127.1L1371.3 132.9L1363.6 148.2L1354.0 165.5L1342.5 180.8L1332.9 182.7L1325.2 169.3L1315.7 150.1L1308.0 134.8L1296.5 129.0L1288.8 113.7L1300.3 98.3L1306.1 84.9L1321.4 79.1L1329.1 61.9Z" fill="#6e0000"/>
<ellipse cx="1338.7" cy="111.7" rx="57.6" ry="55.6" fill="url(#gR)"/>
<ellipse cx="1338.7" cy="111.7" rx="44.1" ry="28.8" fill="url(#gR)"/>
<ellipse cx="1336.8" cy="111.7" rx="36.5" ry="19.2" fill="url(#gO)"/>
<ellipse cx="1300.3" cy="129.0" rx="9.6" ry="11.5" fill="url(#gY)"/>
<ellipse cx="1379.0" cy="121.3" rx="9.6" ry="9.6" fill="url(#gO)"/>
<ellipse cx="1338.7" cy="169.3" rx="23.0" ry="19.2" fill="url(#gK)"/>
</g>
<rect x="1333.5" y="74.5" width="3.5" height="3.5" fill="#e8e8e8"/>
<g clip-path="url(#hc7)">
<path d="M1311.8 198.1L1321.4 186.6L1329.1 196.2L1344.4 198.1L1352.1 203.8L1348.3 213.4L1340.6 217.3L1345.4 226.9L1343.5 235.5L1334.8 227.8L1329.1 216.3L1317.6 212.5Z" fill="#600000"/>
<ellipse cx="1336.8" cy="204.8" rx="16.3" ry="9.6" fill="url(#gO)"/>
<ellipse cx="1333.9" cy="203.8" rx="8.6" ry="4.8" fill="url(#gY)"/>
</g>
<path d="M1298.4 261.4 L1298.4 284.4" fill="none" stroke="#6a0000" stroke-width="6.5" stroke-linecap="butt" stroke-linejoin="round"/>
<path d="M1380.9 262.4 L1380.9 286.4" fill="none" stroke="#6a0000" stroke-width="6.9" stroke-linecap="butt" stroke-linejoin="round"/>
<rect x="1332.5" y="309.4" width="8.4" height="7.7" fill="#e84a10"/>
<rect x="1330.6" y="332.4" width="8.4" height="13.4" fill="#e03008"/>
<rect x="1273.4" y="92.6" width="5.8" height="7.7" fill="#7a0000"/>
<rect x="1407.6" y="106.4" width="4.2" height="5.0" fill="#7a0000"/>
<rect x="1331.0" y="272.9" width="3.8" height="11.5" fill="#6a0000"/>
</g>
</g>
<g id="img-dorsal-90min" clip-path="url(#cp6)">
<rect x="1440.00" y="42.00" width="147.00" height="301.80" fill="#4c4c4c"/>
<rect x="1440.0" y="40.4" width="147.0" height="29.2" fill="#3b3b3b"/>
<rect x="1466.8" y="42.3" width="8.8" height="26.1" fill="#191919" filter="url(#soft)"/>
<rect x="1470.3" y="45.0" width="2.0" height="24.6" fill="#6e6e6e"/>
<rect x="1469.7" y="67.6" width="3.2" height="2.4" fill="#d0d0d0"/>
<rect x="1550.3" y="42.3" width="8.8" height="26.1" fill="#191919" filter="url(#soft)"/>
<rect x="1553.7" y="45.0" width="2.0" height="24.6" fill="#6e6e6e"/>
<rect x="1553.1" y="67.6" width="3.2" height="2.4" fill="#d0d0d0"/>
<line x1="1440.0" y1="85.8" x2="1587.0" y2="85.8" stroke="#3a3a3a" stroke-width="1.6"/>
<line x1="1440.0" y1="124.2" x2="1587.0" y2="124.2" stroke="#3a3a3a" stroke-width="1.6"/>
<line x1="1440.0" y1="311.3" x2="1587.0" y2="311.3" stroke="#3c3c3c" stroke-width="2.0"/>
<line x1="1564.3" y1="124.2" x2="1564.3" y2="274.8" stroke="#3c3c3c" stroke-width="1.6"/>
<path d="M1501.0 54.2C1503.9 49.6 1507.4 45.6 1510.6 45.6C1513.8 45.6 1517.3 50.2 1520.2 54.2C1523.1 58.2 1525.0 64.4 1527.9 69.5C1530.7 74.7 1533.0 80.7 1537.4 84.9C1541.9 89.0 1550.2 91.0 1554.7 94.5C1559.2 98.0 1563.0 102.2 1564.3 106.0C1565.6 109.8 1565.0 112.7 1562.4 117.5C1559.8 122.3 1551.8 129.3 1549.0 134.8C1546.1 140.2 1544.5 142.8 1545.1 150.1C1545.8 157.5 1550.2 169.3 1552.8 178.9C1555.4 188.5 1557.9 199.7 1560.5 207.7C1563.0 215.7 1564.6 220.5 1568.1 226.9C1571.7 233.3 1579.0 240.3 1581.6 246.1C1584.1 251.8 1585.7 258.2 1583.5 261.4C1581.3 264.6 1573.9 264.6 1568.1 265.2C1562.4 265.9 1555.4 263.3 1549.0 265.2C1542.6 267.2 1534.3 272.0 1529.8 276.8C1525.3 281.6 1524.0 289.9 1522.1 294.0C1520.2 298.2 1519.9 300.4 1518.3 301.7C1516.7 303.0 1514.4 304.6 1512.5 301.7C1510.6 298.8 1509.9 289.6 1506.7 284.4C1503.6 279.3 1498.8 273.6 1493.3 271.0C1487.9 268.4 1480.5 267.8 1474.1 269.1C1467.7 270.4 1459.1 279.3 1454.9 278.7C1450.8 278.0 1449.5 270.7 1449.2 265.2C1448.9 259.8 1450.8 252.5 1453.0 246.1C1455.3 239.7 1460.4 234.9 1462.6 226.9C1464.9 218.9 1464.9 207.7 1466.5 198.1C1468.1 188.5 1470.3 177.3 1472.2 169.3C1474.1 161.3 1478.0 156.5 1478.0 150.1C1478.0 143.7 1473.8 136.7 1472.2 130.9C1470.6 125.2 1467.1 121.0 1468.4 115.6C1469.7 110.2 1476.7 102.8 1479.9 98.3C1483.1 93.8 1485.3 92.9 1487.6 88.7C1489.8 84.6 1491.1 79.1 1493.3 73.4C1495.6 67.6 1498.1 58.8 1501.0 54.2Z" fill="#303030" stroke="#303030" stroke-width="5" opacity="0.75" filter="url(#soft2)"/>
<path d="M1474.1 115.6C1470.9 113.4 1460.6 105.7 1454.9 102.5C1449.3 99.4 1442.5 97.7 1440.0 96.8" fill="none" stroke="#303030" stroke-width="15.5" stroke-linecap="round" stroke-linejoin="round" opacity="0.6" filter="url(#soft2)"/>
<path d="M1560.5 115.6C1562.7 113.4 1569.4 106.4 1573.9 102.5C1578.4 98.7 1585.1 94.2 1587.3 92.6" fill="none" stroke="#303030" stroke-width="14.0" stroke-linecap="round" stroke-linejoin="round" opacity="0.6" filter="url(#soft2)"/>
<path d="M1454.9 272.9C1454.9 275.5 1457.4 285.0 1454.9 288.3C1452.4 291.5 1442.5 291.8 1440.0 292.5" fill="none" stroke="#303030" stroke-width="15.5" stroke-linecap="round" stroke-linejoin="round" opacity="0.6" filter="url(#soft2)"/>
<path d="M1575.8 255.7 L1584.5 277.7" fill="none" stroke="#303030" stroke-width="13.6" stroke-linecap="round" stroke-linejoin="round" opacity="0.6" filter="url(#soft2)"/>
<path d="M1517.3 299.8 L1517.3 344.9" fill="none" stroke="#303030" stroke-width="14.0" stroke-linecap="round" stroke-linejoin="round" opacity="0.6" filter="url(#soft2)"/>
<g filter="url(#soft)">
<path d="M1474.1 115.6C1470.9 113.4 1460.6 105.7 1454.9 102.5C1449.3 99.4 1442.5 97.7 1440.0 96.8" fill="none" stroke="#f2f2f2" stroke-width="12.5" stroke-linecap="round" stroke-linejoin="round"/>
<path d="M1560.5 115.6C1562.7 113.4 1569.4 106.4 1573.9 102.5C1578.4 98.7 1585.1 94.2 1587.3 92.6" fill="none" stroke="#f2f2f2" stroke-width="11.0" stroke-linecap="round" stroke-linejoin="round"/>
<path d="M1454.9 272.9C1454.9 275.5 1457.4 285.0 1454.9 288.3C1452.4 291.5 1442.5 291.8 1440.0 292.5" fill="none" stroke="#f2f2f2" stroke-width="12.5" stroke-linecap="round" stroke-linejoin="round"/>
<path d="M1575.8 255.7 L1584.5 277.7" fill="none" stroke="#f2f2f2" stroke-width="10.6" stroke-linecap="round" stroke-linejoin="round"/>
<path d="M1517.3 299.8 L1517.3 344.9" fill="none" stroke="#f2f2f2" stroke-width="11.0" stroke-linecap="round" stroke-linejoin="round"/>
</g>
<path d="M1501.0 54.2C1503.9 49.6 1507.4 45.6 1510.6 45.6C1513.8 45.6 1517.3 50.2 1520.2 54.2C1523.1 58.2 1525.0 64.4 1527.9 69.5C1530.7 74.7 1533.0 80.7 1537.4 84.9C1541.9 89.0 1550.2 91.0 1554.7 94.5C1559.2 98.0 1563.0 102.2 1564.3 106.0C1565.6 109.8 1565.0 112.7 1562.4 117.5C1559.8 122.3 1551.8 129.3 1549.0 134.8C1546.1 140.2 1544.5 142.8 1545.1 150.1C1545.8 157.5 1550.2 169.3 1552.8 178.9C1555.4 188.5 1557.9 199.7 1560.5 207.7C1563.0 215.7 1564.6 220.5 1568.1 226.9C1571.7 233.3 1579.0 240.3 1581.6 246.1C1584.1 251.8 1585.7 258.2 1583.5 261.4C1581.3 264.6 1573.9 264.6 1568.1 265.2C1562.4 265.9 1555.4 263.3 1549.0 265.2C1542.6 267.2 1534.3 272.0 1529.8 276.8C1525.3 281.6 1524.0 289.9 1522.1 294.0C1520.2 298.2 1519.9 300.4 1518.3 301.7C1516.7 303.0 1514.4 304.6 1512.5 301.7C1510.6 298.8 1509.9 289.6 1506.7 284.4C1503.6 279.3 1498.8 273.6 1493.3 271.0C1487.9 268.4 1480.5 267.8 1474.1 269.1C1467.7 270.4 1459.1 279.3 1454.9 278.7C1450.8 278.0 1449.5 270.7 1449.2 265.2C1448.9 259.8 1450.8 252.5 1453.0 246.1C1455.3 239.7 1460.4 234.9 1462.6 226.9C1464.9 218.9 1464.9 207.7 1466.5 198.1C1468.1 188.5 1470.3 177.3 1472.2 169.3C1474.1 161.3 1478.0 156.5 1478.0 150.1C1478.0 143.7 1473.8 136.7 1472.2 130.9C1470.6 125.2 1467.1 121.0 1468.4 115.6C1469.7 110.2 1476.7 102.8 1479.9 98.3C1483.1 93.8 1485.3 92.9 1487.6 88.7C1489.8 84.6 1491.1 79.1 1493.3 73.4C1495.6 67.6 1498.1 58.8 1501.0 54.2Z" fill="#fff" filter="url(#bodyF)"/>
<g filter="url(#soft)">

</g>
<rect x="1440.00" y="42.00" width="147.00" height="301.80" fill="#000" filter="url(#grain)" opacity="0.5"/>
<g filter="url(#hsoft)">
<g clip-path="url(#hc8)" filter="url(#mot1)">
<path d="M1499.1 96.4L1516.3 98.3L1533.6 102.2L1547.0 113.7L1552.8 125.2L1537.4 136.7L1533.6 147.2L1506.7 146.3L1478.0 147.2L1464.5 134.8L1468.4 117.5L1479.9 109.8L1499.1 109.8Z" fill="#7a0000"/>
<ellipse cx="1510.6" cy="125.2" rx="46.0" ry="24.9" fill="url(#gR)"/>
<ellipse cx="1520.2" cy="125.2" rx="15.3" ry="5.8" fill="url(#gO)"/>
<ellipse cx="1483.7" cy="125.2" rx="11.5" ry="11.5" fill="url(#gR)"/>
</g>
<rect x="1497.2" y="74.9" width="23.0" height="2.7" fill="#7a0000"/>
<rect x="1506.7" y="79.1" width="7.7" height="3.8" fill="#7a0000"/>
<rect x="1502.0" y="88.3" width="9.6" height="4.6" fill="#7a0000"/>
<rect x="1541.3" y="116.5" width="7.7" height="9.6" fill="#8a0000"/>
<rect x="1451.1" y="105.8" width="5.8" height="4.2" fill="#8a0000"/>
<rect x="1441.7" y="93.7" width="3.5" height="3.5" fill="#8a0000"/>
<rect x="1499.1" y="147.2" width="3.8" height="5.8" fill="#7a0000"/>
<rect x="1520.9" y="154.0" width="4.2" height="5.8" fill="#7a0000"/>
<rect x="1511.5" y="153.8" width="3.8" height="3.5" fill="#7a0000"/>
<rect x="1539.6" y="93.1" width="3.5" height="3.5" fill="#7a0000"/>
<rect x="1451.5" y="281.6" width="5.0" height="7.7" fill="#7a0000"/>
<g clip-path="url(#hc9)">
<path d="M1516.3 209.6L1535.5 208.6L1535.5 217.3L1520.2 217.3L1516.3 221.1L1515.4 213.4Z" fill="#c01008"/>
<ellipse cx="1524.0" cy="212.5" rx="9.6" ry="4.2" fill="url(#gO)"/>
</g>
<rect x="1512.5" y="311.3" width="8.4" height="11.5" fill="#f0b020"/>
<rect x="1514.8" y="312.3" width="3.8" height="9.6" fill="#ffe838"/>
<rect x="1513.1" y="333.4" width="8.4" height="11.5" fill="#e84010"/>
<rect x="1512.5" y="300.6" width="5.8" height="2.3" fill="#7a0000"/>
</g>
</g>
<g id="img-dorsal-120min" clip-path="url(#cp7)">
<rect x="1612.70" y="42.00" width="146.30" height="300.00" fill="#4c4c4c"/>
<rect x="1612.7" y="40.4" width="146.3" height="22.4" fill="#3b3b3b"/>
<rect x="1609.8" y="42.3" width="8.8" height="19.4" fill="#191919" filter="url(#soft)"/>
<rect x="1613.2" y="45.0" width="2.0" height="17.8" fill="#6e6e6e"/>
<rect x="1612.6" y="60.9" width="3.2" height="2.4" fill="#d0d0d0"/>
<rect x="1649.1" y="42.3" width="8.8" height="19.4" fill="#191919" filter="url(#soft)"/>
<rect x="1652.5" y="45.0" width="2.0" height="17.8" fill="#6e6e6e"/>
<rect x="1651.9" y="60.9" width="3.2" height="2.4" fill="#d0d0d0"/>
<rect x="1732.6" y="42.3" width="8.8" height="19.4" fill="#191919" filter="url(#soft)"/>
<rect x="1736.0" y="45.0" width="2.0" height="17.8" fill="#6e6e6e"/>
<rect x="1735.4" y="60.9" width="3.2" height="2.4" fill="#d0d0d0"/>
<line x1="1612.7" y1="80.1" x2="1759.0" y2="80.1" stroke="#3a3a3a" stroke-width="1.6"/>
<line x1="1612.7" y1="119.4" x2="1759.0" y2="119.4" stroke="#3a3a3a" stroke-width="1.6"/>
<line x1="1612.7" y1="301.7" x2="1759.0" y2="301.7" stroke="#3c3c3c" stroke-width="2.0"/>
<line x1="1738.9" y1="119.4" x2="1738.9" y2="282.5" stroke="#3c3c3c" stroke-width="1.6"/>
<path d="M1629.5 81.0C1633.1 78.8 1646.2 77.5 1650.7 79.1C1655.1 80.7 1657.4 87.8 1656.4 90.6C1655.5 93.5 1649.4 96.1 1644.9 96.4C1640.4 96.7 1632.1 95.1 1629.5 92.6C1627.0 90.0 1626.0 83.3 1629.5 81.0Z" fill="#424242"/>
<path d="M1685.2 54.2C1687.8 49.6 1691.6 45.6 1694.8 45.6C1698.0 45.6 1701.8 50.2 1704.4 54.2C1706.9 58.2 1707.3 64.4 1710.1 69.5C1713.0 74.7 1717.2 80.4 1721.6 84.9C1726.1 89.4 1733.8 92.6 1737.0 96.4C1740.2 100.2 1741.2 103.8 1740.8 107.9C1740.5 112.1 1737.6 116.9 1735.1 121.3C1732.5 125.8 1727.7 130.0 1725.5 134.8C1723.2 139.6 1721.6 142.8 1721.6 150.1C1721.6 157.5 1724.2 169.3 1725.5 178.9C1726.8 188.5 1727.4 198.1 1729.3 207.7C1731.2 217.3 1735.4 228.5 1737.0 236.5C1738.6 244.5 1739.2 249.3 1738.9 255.7C1738.6 262.1 1736.7 270.0 1735.1 274.8C1733.5 279.6 1733.2 283.2 1729.3 284.4C1725.5 285.7 1718.1 282.5 1712.1 282.5C1706.0 282.5 1698.3 282.5 1692.9 284.4C1687.4 286.4 1682.3 290.5 1679.4 294.0C1676.6 297.5 1677.2 303.6 1675.6 305.5C1674.0 307.5 1671.4 308.1 1669.8 305.5C1668.2 303.0 1669.2 295.3 1666.0 290.2C1662.8 285.1 1656.1 278.0 1650.7 274.8C1645.2 271.6 1637.9 270.4 1633.4 271.0C1628.9 271.6 1626.4 279.6 1623.8 278.7C1621.2 277.7 1618.7 270.7 1618.0 265.2C1617.4 259.8 1617.7 252.5 1620.0 246.1C1622.2 239.7 1627.9 233.3 1631.5 226.9C1635.0 220.5 1638.5 215.7 1641.1 207.7C1643.6 199.7 1644.3 187.9 1646.8 178.9C1649.4 170.0 1655.8 161.0 1656.4 154.0C1657.1 146.9 1651.9 143.1 1650.7 136.7C1649.4 130.3 1648.1 121.7 1648.7 115.6C1649.4 109.5 1651.0 104.1 1654.5 100.2C1658.0 96.4 1665.7 97.0 1669.8 92.6C1674.0 88.1 1676.9 79.8 1679.4 73.4C1682.0 67.0 1682.6 58.8 1685.2 54.2Z" fill="#303030" stroke="#303030" stroke-width="5" opacity="0.75" filter="url(#soft2)"/>
<path d="M1654.5 125.2C1651.0 123.6 1640.3 118.5 1633.4 116.0C1626.5 113.5 1616.6 111.2 1613.2 110.2" fill="none" stroke="#303030" stroke-width="14.0" stroke-linecap="round" stroke-linejoin="round" opacity="0.6" filter="url(#soft2)"/>
<path d="M1737.0 121.3 L1759.1 116.0" fill="none" stroke="#303030" stroke-width="14.0" stroke-linecap="round" stroke-linejoin="round" opacity="0.6" filter="url(#soft2)"/>
<path d="M1627.6 272.9C1626.7 275.2 1624.3 283.7 1621.9 286.4C1619.5 289.0 1614.7 288.3 1613.2 288.7" fill="none" stroke="#303030" stroke-width="15.0" stroke-linecap="round" stroke-linejoin="round" opacity="0.6" filter="url(#soft2)"/>
<path d="M1731.2 282.5C1731.6 285.1 1728.5 295.6 1733.2 297.9C1737.8 300.2 1754.7 296.6 1759.1 296.3" fill="none" stroke="#303030" stroke-width="13.6" stroke-linecap="round" stroke-linejoin="round" opacity="0.6" filter="url(#soft2)"/>
<path d="M1672.7 303.6 L1670.8 343.0" fill="none" stroke="#303030" stroke-width="14.0" stroke-linecap="round" stroke-linejoin="round" opacity="0.6" filter="url(#soft2)"/>
<g filter="url(#soft)">
<path d="M1654.5 125.2C1651.0 123.6 1640.3 118.5 1633.4 116.0C1626.5 113.5 1616.6 111.2 1613.2 110.2" fill="none" stroke="#f2f2f2" stroke-width="11.0" stroke-linecap="round" stroke-linejoin="round"/>
<path d="M1737.0 121.3 L1759.1 116.0" fill="none" stroke="#f2f2f2" stroke-width="11.0" stroke-linecap="round" stroke-linejoin="round"/>
<path d="M1627.6 272.9C1626.7 275.2 1624.3 283.7 1621.9 286.4C1619.5 289.0 1614.7 288.3 1613.2 288.7" fill="none" stroke="#f2f2f2" stroke-width="12.0" stroke-linecap="round" stroke-linejoin="round"/>
<path d="M1731.2 282.5C1731.6 285.1 1728.5 295.6 1733.2 297.9C1737.8 300.2 1754.7 296.6 1759.1 296.3" fill="none" stroke="#f2f2f2" stroke-width="10.6" stroke-linecap="round" stroke-linejoin="round"/>
<path d="M1672.7 303.6 L1670.8 343.0" fill="none" stroke="#f2f2f2" stroke-width="11.0" stroke-linecap="round" stroke-linejoin="round"/>
</g>
<path d="M1685.2 54.2C1687.8 49.6 1691.6 45.6 1694.8 45.6C1698.0 45.6 1701.8 50.2 1704.4 54.2C1706.9 58.2 1707.3 64.4 1710.1 69.5C1713.0 74.7 1717.2 80.4 1721.6 84.9C1726.1 89.4 1733.8 92.6 1737.0 96.4C1740.2 100.2 1741.2 103.8 1740.8 107.9C1740.5 112.1 1737.6 116.9 1735.1 121.3C1732.5 125.8 1727.7 130.0 1725.5 134.8C1723.2 139.6 1721.6 142.8 1721.6 150.1C1721.6 157.5 1724.2 169.3 1725.5 178.9C1726.8 188.5 1727.4 198.1 1729.3 207.7C1731.2 217.3 1735.4 228.5 1737.0 236.5C1738.6 244.5 1739.2 249.3 1738.9 255.7C1738.6 262.1 1736.7 270.0 1735.1 274.8C1733.5 279.6 1733.2 283.2 1729.3 284.4C1725.5 285.7 1718.1 282.5 1712.1 282.5C1706.0 282.5 1698.3 282.5 1692.9 284.4C1687.4 286.4 1682.3 290.5 1679.4 294.0C1676.6 297.5 1677.2 303.6 1675.6 305.5C1674.0 307.5 1671.4 308.1 1669.8 305.5C1668.2 303.0 1669.2 295.3 1666.0 290.2C1662.8 285.1 1656.1 278.0 1650.7 274.8C1645.2 271.6 1637.9 270.4 1633.4 271.0C1628.9 271.6 1626.4 279.6 1623.8 278.7C1621.2 277.7 1618.7 270.7 1618.0 265.2C1617.4 259.8 1617.7 252.5 1620.0 246.1C1622.2 239.7 1627.9 233.3 1631.5 226.9C1635.0 220.5 1638.5 215.7 1641.1 207.7C1643.6 199.7 1644.3 187.9 1646.8 178.9C1649.4 170.0 1655.8 161.0 1656.4 154.0C1657.1 146.9 1651.9 143.1 1650.7 136.7C1649.4 130.3 1648.1 121.7 1648.7 115.6C1649.4 109.5 1651.0 104.1 1654.5 100.2C1658.0 96.4 1665.7 97.0 1669.8 92.6C1674.0 88.1 1676.9 79.8 1679.4 73.4C1682.0 67.0 1682.6 58.8 1685.2 54.2Z" fill="#fff" filter="url(#bodyF)"/>
<g filter="url(#soft)">

</g>
<rect x="1612.70" y="42.00" width="146.30" height="300.00" fill="#000" filter="url(#grain)" opacity="0.5"/>
<g filter="url(#hsoft)">
<g clip-path="url(#hc10)" filter="url(#mot1)">
<path d="M1696.7 75.3L1704.4 83.0L1694.8 90.6L1706.3 96.4L1714.0 107.9L1717.8 121.3L1721.6 134.8L1717.8 148.2L1698.6 150.1L1679.4 148.2L1660.2 148.2L1650.7 138.6L1652.6 125.2L1666.0 113.7L1677.5 107.9L1679.4 90.6L1687.1 81.0Z" fill="#700000"/>
<ellipse cx="1666.0" cy="125.2" rx="17.3" ry="15.3" fill="url(#gR)"/>
<ellipse cx="1656.4" cy="142.4" rx="7.7" ry="7.7" fill="url(#gO)"/>
<ellipse cx="1698.6" cy="121.3" rx="23.0" ry="23.0" fill="url(#gM)"/>
</g>
<rect x="1692.9" y="89.7" width="7.7" height="5.8" fill="#e8e8e8"/>
<rect x="1704.4" y="134.8" width="3.8" height="3.8" fill="#e8e8e8"/>
<rect x="1710.3" y="143.6" width="3.5" height="3.5" fill="#e8e8e8"/>
<rect x="1692.9" y="144.8" width="3.8" height="3.1" fill="#e8e8e8"/>
<rect x="1724.0" y="119.4" width="6.9" height="11.5" fill="#7a0000"/>
<rect x="1731.2" y="137.7" width="7.7" height="9.6" fill="#7a0000"/>
<rect x="1625.7" y="116.5" width="9.6" height="5.8" fill="#7a0000"/>
<rect x="1613.8" y="107.0" width="4.6" height="5.8" fill="#7a0000"/>
<rect x="1694.0" y="62.1" width="3.5" height="3.5" fill="#7a0000"/>
<rect x="1698.0" y="68.0" width="3.1" height="3.1" fill="#7a0000"/>
<rect x="1661.4" y="95.6" width="3.5" height="3.5" fill="#7a0000"/>
<rect x="1730.9" y="130.6" width="4.6" height="4.6" fill="#7a0000"/>
<path d="M1673.7 215.4L1687.1 215.4L1688.1 218.2L1696.7 218.2L1696.7 225.9L1679.4 224.0L1670.8 225.9Z" fill="#700000"/>
<rect x="1667.0" y="323.2" width="7.7" height="6.9" fill="#e82010"/>
<rect x="1617.5" y="281.0" width="3.1" height="3.1" fill="#7a0000"/>
<rect x="1730.9" y="289.8" width="2.7" height="2.7" fill="#7a0000"/>
</g>
</g>
<g id="img-ventral-AF" clip-path="url(#cp8)">
<rect x="434.00" y="351.80" width="148.00" height="297.70" fill="#4c4c4c"/>
<rect x="434.0" y="349.7" width="148.0" height="17.3" fill="#3b3b3b"/>
<rect x="457.0" y="351.6" width="8.8" height="14.2" fill="#191919" filter="url(#soft)"/>
<rect x="460.5" y="354.3" width="2.0" height="12.7" fill="#6e6e6e"/>
<rect x="459.9" y="365.1" width="3.2" height="2.4" fill="#d0d0d0"/>
<rect x="540.5" y="351.6" width="8.8" height="14.2" fill="#191919" filter="url(#soft)"/>
<rect x="543.9" y="354.3" width="2.0" height="12.7" fill="#6e6e6e"/>
<rect x="543.3" y="365.1" width="3.2" height="2.4" fill="#d0d0d0"/>
<line x1="434.0" y1="388.1" x2="582.0" y2="388.1" stroke="#3a3a3a" stroke-width="1.6"/>
<line x1="434.0" y1="463.9" x2="582.0" y2="463.9" stroke="#3a3a3a" stroke-width="1.6"/>
<line x1="434.0" y1="615.5" x2="582.0" y2="615.5" stroke="#3c3c3c" stroke-width="2.0"/>
<line x1="547.8" y1="463.9" x2="547.8" y2="611.6" stroke="#3c3c3c" stroke-width="1.6"/>
<path d="M570.8 402.5L582.3 396.7L582.3 423.6L574.7 419.7Z" fill="#6e6e6e"/>
<path d="M494.1 356.4C498.2 353.9 507.2 353.2 511.3 356.4C515.5 359.6 516.1 369.5 519.0 375.6C521.9 381.7 525.1 387.1 528.6 392.9C532.1 398.6 535.0 405.0 540.1 410.2C545.2 415.3 552.0 420.4 559.3 423.6C566.7 426.8 580.1 427.3 584.3 429.3C588.4 431.4 589.1 434.3 584.3 436.1C579.5 437.8 562.8 437.5 555.5 439.9C548.1 442.3 543.0 445.8 540.1 450.4C537.2 455.1 537.6 460.0 538.2 467.7C538.8 475.4 541.7 488.5 544.0 496.5C546.2 504.5 549.1 507.7 551.6 515.7C554.2 523.7 557.1 535.5 559.3 544.5C561.6 553.4 564.4 562.7 565.1 569.4C565.7 576.1 565.7 580.3 563.1 584.8C560.6 589.2 554.8 593.4 549.7 596.3C544.6 599.2 537.9 599.5 532.4 602.0C527.0 604.6 521.6 609.4 517.1 611.6C512.6 613.9 508.8 615.5 505.6 615.5C502.4 615.5 502.1 614.2 497.9 611.6C493.8 609.1 486.4 603.3 480.6 600.1C474.9 596.9 467.9 596.3 463.4 592.4C458.9 588.6 455.4 583.5 453.8 577.1C452.2 570.7 453.1 562.7 453.8 554.1C454.4 545.4 456.0 534.9 457.6 525.3C459.2 515.7 461.5 506.1 463.4 496.5C465.3 486.9 469.0 475.4 469.1 467.7C469.3 460.0 466.9 455.6 464.3 450.4C461.8 445.3 459.1 439.4 453.8 437.0C448.5 434.6 436.2 437.5 432.7 436.1C429.2 434.6 428.5 430.8 432.7 428.4C436.8 426.0 450.9 425.3 457.6 421.7C464.3 418.0 469.1 411.4 473.0 406.3C476.8 401.2 478.4 396.7 480.6 391.0C482.9 385.2 484.2 377.5 486.4 371.8C488.6 366.0 489.9 359.0 494.1 356.4Z" fill="#303030" stroke="#303030" stroke-width="5" opacity="0.75" filter="url(#soft2)"/>
<path d="M471.0 596.3C471.0 599.5 474.6 610.0 471.0 615.5C467.5 620.9 455.7 625.1 449.9 628.9C444.2 632.7 438.8 636.9 436.5 638.5" fill="none" stroke="#303030" stroke-width="14.0" stroke-linecap="round" stroke-linejoin="round" opacity="0.6" filter="url(#soft2)"/>
<path d="M547.8 598.2C548.4 601.4 547.5 611.6 551.6 617.4C555.8 623.1 567.7 628.6 572.7 632.7C577.8 636.9 580.4 640.7 582.0 642.3" fill="none" stroke="#303030" stroke-width="14.0" stroke-linecap="round" stroke-linejoin="round" opacity="0.6" filter="url(#soft2)"/>
<path d="M507.5 611.6 L506.5 650.0" fill="none" stroke="#303030" stroke-width="15.0" stroke-linecap="round" stroke-linejoin="round" opacity="0.6" filter="url(#soft2)"/>
<g filter="url(#soft)">
<path d="M471.0 596.3C471.0 599.5 474.6 610.0 471.0 615.5C467.5 620.9 455.7 625.1 449.9 628.9C444.2 632.7 438.8 636.9 436.5 638.5" fill="none" stroke="#f2f2f2" stroke-width="11.0" stroke-linecap="round" stroke-linejoin="round"/>
<path d="M547.8 598.2C548.4 601.4 547.5 611.6 551.6 617.4C555.8 623.1 567.7 628.6 572.7 632.7C577.8 636.9 580.4 640.7 582.0 642.3" fill="none" stroke="#f2f2f2" stroke-width="11.0" stroke-linecap="round" stroke-linejoin="round"/>
<path d="M507.5 611.6 L506.5 650.0" fill="none" stroke="#f2f2f2" stroke-width="12.0" stroke-linecap="round" stroke-linejoin="round"/>
</g>
<path d="M494.1 356.4C498.2 353.9 507.2 353.2 511.3 356.4C515.5 359.6 516.1 369.5 519.0 375.6C521.9 381.7 525.1 387.1 528.6 392.9C532.1 398.6 535.0 405.0 540.1 410.2C545.2 415.3 552.0 420.4 559.3 423.6C566.7 426.8 580.1 427.3 584.3 429.3C588.4 431.4 589.1 434.3 584.3 436.1C579.5 437.8 562.8 437.5 555.5 439.9C548.1 442.3 543.0 445.8 540.1 450.4C537.2 455.1 537.6 460.0 538.2 467.7C538.8 475.4 541.7 488.5 544.0 496.5C546.2 504.5 549.1 507.7 551.6 515.7C554.2 523.7 557.1 535.5 559.3 544.5C561.6 553.4 564.4 562.7 565.1 569.4C565.7 576.1 565.7 580.3 563.1 584.8C560.6 589.2 554.8 593.4 549.7 596.3C544.6 599.2 537.9 599.5 532.4 602.0C527.0 604.6 521.6 609.4 517.1 611.6C512.6 613.9 508.8 615.5 505.6 615.5C502.4 615.5 502.1 614.2 497.9 611.6C493.8 609.1 486.4 603.3 480.6 600.1C474.9 596.9 467.9 596.3 463.4 592.4C458.9 588.6 455.4 583.5 453.8 577.1C452.2 570.7 453.1 562.7 453.8 554.1C454.4 545.4 456.0 534.9 457.6 525.3C459.2 515.7 461.5 506.1 463.4 496.5C465.3 486.9 469.0 475.4 469.1 467.7C469.3 460.0 466.9 455.6 464.3 450.4C461.8 445.3 459.1 439.4 453.8 437.0C448.5 434.6 436.2 437.5 432.7 436.1C429.2 434.6 428.5 430.8 432.7 428.4C436.8 426.0 450.9 425.3 457.6 421.7C464.3 418.0 469.1 411.4 473.0 406.3C476.8 401.2 478.4 396.7 480.6 391.0C482.9 385.2 484.2 377.5 486.4 371.8C488.6 366.0 489.9 359.0 494.1 356.4Z" fill="#fff" filter="url(#bodyFV)"/>
<g filter="url(#soft)">
<ellipse cx="505.6" cy="442.8" rx="32.6" ry="13.4" fill="#8a8a8a" opacity="0.35" filter="url(#soft3)"/>
<ellipse cx="505.6" cy="515.7" rx="38.4" ry="23.0" fill="#9a9a9a" opacity="0.25" filter="url(#soft3)"/>
<ellipse cx="504.6" cy="485.9" rx="8.6" ry="8.6" fill="url(#gW)"/>
<ellipse cx="501.7" cy="367.9" rx="7.7" ry="5.8" fill="url(#gW)"/>
<ellipse cx="505.6" cy="414.0" rx="21.1" ry="9.6" fill="url(#gW)"/>
<ellipse cx="507.5" cy="582.8" rx="38.4" ry="28.8" fill="url(#gW)"/>
<ellipse cx="507.5" cy="598.2" rx="11.5" ry="17.3" fill="url(#gW)"/>
</g>
<rect x="434.00" y="351.80" width="148.00" height="297.70" fill="#000" filter="url(#grain)" opacity="0.5"/>
<g filter="url(#hsoft)">

</g>
</g>
<g id="img-ventral-2min" clip-path="url(#cp9)">
<rect x="602.00" y="351.80" width="147.00" height="297.70" fill="#4c4c4c"/>
<rect x="602.0" y="349.7" width="147.0" height="17.3" fill="#3b3b3b"/>
<rect x="634.5" y="351.6" width="8.8" height="14.2" fill="#191919" filter="url(#soft)"/>
<rect x="637.9" y="354.3" width="2.0" height="12.7" fill="#6e6e6e"/>
<rect x="637.3" y="365.1" width="3.2" height="2.4" fill="#d0d0d0"/>
<rect x="718.0" y="351.6" width="8.8" height="14.2" fill="#191919" filter="url(#soft)"/>
<rect x="721.4" y="354.3" width="2.0" height="12.7" fill="#6e6e6e"/>
<rect x="720.8" y="365.1" width="3.2" height="2.4" fill="#d0d0d0"/>
<line x1="602.0" y1="388.1" x2="749.0" y2="388.1" stroke="#3a3a3a" stroke-width="1.6"/>
<line x1="602.0" y1="463.9" x2="749.0" y2="463.9" stroke="#3a3a3a" stroke-width="1.6"/>
<line x1="602.0" y1="615.5" x2="749.0" y2="615.5" stroke="#3c3c3c" stroke-width="2.0"/>
<line x1="730.1" y1="463.9" x2="730.1" y2="611.6" stroke="#3c3c3c" stroke-width="1.6"/>
<path d="M602.5 400.6L645.7 406.3L636.1 450.4L628.4 496.5L616.9 506.1L602.5 492.7Z" fill="#707070"/>
<path d="M728.2 417.8L749.3 406.3L749.3 488.8L733.9 496.5Z" fill="#6a6a6a"/>
<path d="M672.5 356.4C677.6 352.3 687.2 353.2 691.7 356.4C696.2 359.6 697.5 368.3 699.4 375.6C701.3 383.0 701.0 393.8 703.2 400.6C705.5 407.3 710.6 411.1 712.8 415.9C715.0 420.7 714.7 425.5 716.6 429.3C718.6 433.2 718.9 438.0 724.3 438.9C729.8 439.9 745.1 434.5 749.3 435.1C753.4 435.7 752.1 439.9 749.3 442.8C746.4 445.7 738.1 449.2 732.0 452.4C725.9 455.6 715.7 456.2 712.8 462.0C709.9 467.7 713.4 478.0 714.7 486.9C716.0 495.9 717.9 506.1 720.5 515.7C723.0 525.3 726.9 536.5 730.1 544.5C733.3 552.5 738.4 557.3 739.7 563.7C741.0 570.1 740.3 577.7 737.8 582.8C735.2 588.0 730.1 591.5 724.3 594.4C718.6 597.2 708.3 597.2 703.2 600.1C698.1 603.0 696.8 609.7 693.6 611.6C690.4 613.5 687.2 613.2 684.0 611.6C680.8 610.0 679.2 604.9 674.4 602.0C669.6 599.2 661.6 597.6 655.2 594.4C648.9 591.2 640.2 587.3 636.1 582.8C631.9 578.4 630.6 573.9 630.3 567.5C630.0 561.1 633.2 553.1 634.1 544.5C635.1 535.8 635.7 525.3 636.1 515.7C636.4 506.1 635.7 495.9 636.1 486.9C636.4 478.0 638.3 467.2 638.0 462.0C637.7 456.7 640.1 456.4 634.1 455.2C628.2 454.1 607.8 457.6 602.5 455.2C597.2 452.8 597.2 442.3 602.5 440.9C607.8 439.4 628.5 448.5 634.1 446.6C639.7 444.7 635.7 434.5 636.1 429.3C636.4 424.2 633.5 420.1 636.1 415.9C638.6 411.8 647.3 410.2 651.4 404.4C655.6 398.6 657.5 389.4 661.0 381.4C664.5 373.4 667.4 360.6 672.5 356.4Z" fill="#303030" stroke="#303030" stroke-width="5" opacity="0.75" filter="url(#soft2)"/>
<path d="M649.5 592.4C650.1 595.6 655.6 606.8 653.3 611.6C651.1 616.4 642.5 617.7 636.1 621.2C629.7 624.7 618.5 630.8 615.0 632.7" fill="none" stroke="#303030" stroke-width="14.0" stroke-linecap="round" stroke-linejoin="round" opacity="0.6" filter="url(#soft2)"/>
<path d="M724.3 592.4C724.3 595.6 720.2 607.1 724.3 611.6C728.5 616.1 745.1 618.0 749.3 619.3" fill="none" stroke="#303030" stroke-width="14.0" stroke-linecap="round" stroke-linejoin="round" opacity="0.6" filter="url(#soft2)"/>
<path d="M688.8 609.7 L688.8 650.0" fill="none" stroke="#303030" stroke-width="15.0" stroke-linecap="round" stroke-linejoin="round" opacity="0.6" filter="url(#soft2)"/>
<g filter="url(#soft)">
<path d="M649.5 592.4C650.1 595.6 655.6 606.8 653.3 611.6C651.1 616.4 642.5 617.7 636.1 621.2C629.7 624.7 618.5 630.8 615.0 632.7" fill="none" stroke="#f2f2f2" stroke-width="11.0" stroke-linecap="round" stroke-linejoin="round"/>
<path d="M724.3 592.4C724.3 595.6 720.2 607.1 724.3 611.6C728.5 616.1 745.1 618.0 749.3 619.3" fill="none" stroke="#f2f2f2" stroke-width="11.0" stroke-linecap="round" stroke-linejoin="round"/>
<path d="M688.8 609.7 L688.8 650.0" fill="none" stroke="#f2f2f2" stroke-width="12.0" stroke-linecap="round" stroke-linejoin="round"/>
</g>
<path d="M672.5 356.4C677.6 352.3 687.2 353.2 691.7 356.4C696.2 359.6 697.5 368.3 699.4 375.6C701.3 383.0 701.0 393.8 703.2 400.6C705.5 407.3 710.6 411.1 712.8 415.9C715.0 420.7 714.7 425.5 716.6 429.3C718.6 433.2 718.9 438.0 724.3 438.9C729.8 439.9 745.1 434.5 749.3 435.1C753.4 435.7 752.1 439.9 749.3 442.8C746.4 445.7 738.1 449.2 732.0 452.4C725.9 455.6 715.7 456.2 712.8 462.0C709.9 467.7 713.4 478.0 714.7 486.9C716.0 495.9 717.9 506.1 720.5 515.7C723.0 525.3 726.9 536.5 730.1 544.5C733.3 552.5 738.4 557.3 739.7 563.7C741.0 570.1 740.3 577.7 737.8 582.8C735.2 588.0 730.1 591.5 724.3 594.4C718.6 597.2 708.3 597.2 703.2 600.1C698.1 603.0 696.8 609.7 693.6 611.6C690.4 613.5 687.2 613.2 684.0 611.6C680.8 610.0 679.2 604.9 674.4 602.0C669.6 599.2 661.6 597.6 655.2 594.4C648.9 591.2 640.2 587.3 636.1 582.8C631.9 578.4 630.6 573.9 630.3 567.5C630.0 561.1 633.2 553.1 634.1 544.5C635.1 535.8 635.7 525.3 636.1 515.7C636.4 506.1 635.7 495.9 636.1 486.9C636.4 478.0 638.3 467.2 638.0 462.0C637.7 456.7 640.1 456.4 634.1 455.2C628.2 454.1 607.8 457.6 602.5 455.2C597.2 452.8 597.2 442.3 602.5 440.9C607.8 439.4 628.5 448.5 634.1 446.6C639.7 444.7 635.7 434.5 636.1 429.3C636.4 424.2 633.5 420.1 636.1 415.9C638.6 411.8 647.3 410.2 651.4 404.4C655.6 398.6 657.5 389.4 661.0 381.4C664.5 373.4 667.4 360.6 672.5 356.4Z" fill="#fff" filter="url(#bodyFV)"/>
<g filter="url(#soft)">
<ellipse cx="678.3" cy="450.4" rx="28.8" ry="13.4" fill="#8a8a8a" opacity="0.3" filter="url(#soft3)"/>
<ellipse cx="678.3" cy="486.9" rx="8.6" ry="8.6" fill="url(#gW)"/>
<ellipse cx="680.2" cy="415.9" rx="19.2" ry="11.5" fill="url(#gW)"/>
<ellipse cx="684.0" cy="582.8" rx="38.4" ry="24.9" fill="url(#gW)"/>
</g>
<rect x="602.00" y="351.80" width="147.00" height="297.70" fill="#000" filter="url(#grain)" opacity="0.5"/>
<g filter="url(#hsoft)">
<ellipse cx="620.7" cy="452.4" rx="14.4" ry="9.6" fill="url(#gO)"/>
<ellipse cx="619.8" cy="453.3" rx="5.8" ry="3.8" fill="url(#gY)"/>
<rect x="638.6" y="458.1" width="4.6" height="11.5" fill="#c01008"/>
<rect x="702.6" y="458.1" width="6.9" height="7.7" fill="#a00000"/>
<rect x="736.2" y="439.5" width="5.0" height="6.5" fill="#a00000"/>
<ellipse cx="650.5" cy="591.5" rx="11.5" ry="11.5" fill="url(#gR)"/>
<rect x="642.8" y="587.6" width="11.5" height="9.6" fill="#a00404"/>
<path d="M695.5 565.6L699.4 565.6L698.4 577.1L693.6 582.8L685.9 578.0L692.7 573.2Z" fill="#8a0000"/>
<rect x="710.9" y="579.0" width="21.1" height="13.4" fill="#b81008"/>
<ellipse cx="721.4" cy="584.8" rx="11.5" ry="11.5" fill="url(#gO)"/>
<rect x="720.9" y="591.5" width="3.1" height="17.3" fill="#b00808"/>
<rect x="685.0" y="610.7" width="7.7" height="9.6" fill="#b00808"/>
<rect x="684.0" y="627.0" width="9.6" height="23.0" fill="#d01808"/>
<rect x="685.4" y="630.8" width="3.1" height="15.3" fill="#f0a018"/>
<rect x="666.4" y="376.6" width="2.7" height="9.6" fill="#c01010"/>
<rect x="694.2" y="377.5" width="2.7" height="11.5" fill="#c01010"/>
<rect x="695.7" y="392.5" width="3.5" height="4.6" fill="#7a0000"/>
<rect x="673.1" y="366.6" width="2.7" height="2.7" fill="#7a0000"/>
<rect x="687.5" y="366.6" width="2.7" height="2.7" fill="#7a0000"/>
<rect x="636.4" y="419.6" width="5.0" height="4.2" fill="#7a0000"/>
<rect x="653.7" y="397.7" width="3.1" height="2.7" fill="#7a0000"/>
<rect x="739.7" y="618.9" width="7.7" height="2.7" fill="#7a0000"/>
<rect x="684.0" y="555.6" width="2.7" height="2.7" fill="#7a0000"/>
</g>
</g>
<g id="img-ventral-15min" clip-path="url(#cp10)">
<rect x="771.00" y="351.50" width="148.60" height="298.00" fill="#4c4c4c"/>
<rect x="771.0" y="348.8" width="148.6" height="14.4" fill="#3b3b3b"/>
<rect x="772.9" y="350.7" width="8.8" height="11.3" fill="#191919" filter="url(#soft)"/>
<rect x="776.3" y="353.4" width="2.0" height="9.8" fill="#6e6e6e"/>
<rect x="775.7" y="361.2" width="3.2" height="2.4" fill="#d0d0d0"/>
<rect x="813.1" y="350.7" width="8.8" height="11.3" fill="#191919" filter="url(#soft)"/>
<rect x="816.6" y="353.4" width="2.0" height="9.8" fill="#6e6e6e"/>
<rect x="816.0" y="361.2" width="3.2" height="2.4" fill="#d0d0d0"/>
<rect x="897.6" y="350.7" width="8.8" height="11.3" fill="#191919" filter="url(#soft)"/>
<rect x="901.0" y="353.4" width="2.0" height="9.8" fill="#6e6e6e"/>
<rect x="900.4" y="361.2" width="3.2" height="2.4" fill="#d0d0d0"/>
<line x1="771.0" y1="384.3" x2="919.6" y2="384.3" stroke="#3a3a3a" stroke-width="1.6"/>
<line x1="771.0" y1="460.0" x2="919.6" y2="460.0" stroke="#3a3a3a" stroke-width="1.6"/>
<line x1="771.0" y1="613.5" x2="919.6" y2="613.5" stroke="#3c3c3c" stroke-width="2.0"/>
<line x1="907.7" y1="460.0" x2="907.7" y2="607.8" stroke="#3c3c3c" stroke-width="1.6"/>
<path d="M771.5 391.0L800.3 389.0L792.6 438.9L788.8 494.6L771.5 485.0Z" fill="#747474"/>
<path d="M902.9 400.6L919.6 394.8L919.6 425.5L911.6 421.7Z" fill="#6a6a6a"/>
<path d="M852.1 356.4C857.2 354.8 869.4 352.3 873.2 356.4C877.0 360.6 873.5 373.1 875.1 381.4C876.7 389.7 880.2 399.3 882.8 406.3C885.4 413.4 884.2 418.6 890.5 423.6C896.7 428.5 915.3 433.0 920.2 436.1C925.2 439.1 925.8 439.9 920.2 441.8C914.6 443.7 891.6 443.3 886.6 447.6C881.7 451.9 889.2 459.6 890.5 467.7C891.8 475.9 892.4 486.9 894.3 496.5C896.2 506.1 900.4 515.7 902.0 525.3C903.6 534.9 903.9 546.1 903.9 554.1C903.9 562.1 904.2 567.5 902.0 573.2C899.7 579.0 895.0 585.1 890.5 588.6C886.0 592.1 880.9 593.1 875.1 594.4C869.4 595.6 860.4 593.4 855.9 596.3C851.5 599.2 850.8 609.1 848.3 611.6C845.7 614.2 842.8 614.8 840.6 611.6C838.3 608.4 838.7 597.2 834.8 592.4C831.0 587.6 823.0 586.0 817.6 582.8C812.1 579.6 805.4 578.0 802.2 573.2C799.0 568.5 798.1 562.1 798.4 554.1C798.7 546.1 801.9 534.9 804.1 525.3C806.4 515.7 809.6 506.1 811.8 496.5C814.0 486.9 816.6 475.9 817.6 467.7C818.5 459.6 822.0 451.6 817.6 447.6C813.1 443.6 798.7 445.2 790.7 443.7C782.7 442.3 773.1 441.0 769.6 438.9C766.1 436.9 765.4 432.9 769.6 431.3C773.8 429.7 787.2 431.3 794.5 429.3C801.9 427.4 808.9 424.5 813.7 419.7C818.5 415.0 819.5 407.0 823.3 400.6C827.2 394.2 833.6 387.1 836.7 381.4C839.9 375.6 839.9 370.2 842.5 366.0C845.1 361.9 847.0 358.0 852.1 356.4Z" fill="#303030" stroke="#303030" stroke-width="5" opacity="0.75" filter="url(#soft2)"/>
<path d="M811.8 580.9C811.5 583.8 813.7 593.1 809.9 598.2C806.0 603.3 794.9 608.1 788.8 611.6C782.7 615.1 776.0 618.0 773.4 619.3" fill="none" stroke="#303030" stroke-width="15.0" stroke-linecap="round" stroke-linejoin="round" opacity="0.6" filter="url(#soft2)"/>
<path d="M884.7 590.5C884.4 592.4 877.2 598.8 882.8 602.0C888.4 605.3 912.4 608.7 918.3 610.1" fill="none" stroke="#303030" stroke-width="14.0" stroke-linecap="round" stroke-linejoin="round" opacity="0.6" filter="url(#soft2)"/>
<path d="M844.4 607.8 L844.4 650.0" fill="none" stroke="#303030" stroke-width="15.0" stroke-linecap="round" stroke-linejoin="round" opacity="0.6" filter="url(#soft2)"/>
<g filter="url(#soft)">
<path d="M811.8 580.9C811.5 583.8 813.7 593.1 809.9 598.2C806.0 603.3 794.9 608.1 788.8 611.6C782.7 615.1 776.0 618.0 773.4 619.3" fill="none" stroke="#f2f2f2" stroke-width="12.0" stroke-linecap="round" stroke-linejoin="round"/>
<path d="M884.7 590.5C884.4 592.4 877.2 598.8 882.8 602.0C888.4 605.3 912.4 608.7 918.3 610.1" fill="none" stroke="#f2f2f2" stroke-width="11.0" stroke-linecap="round" stroke-linejoin="round"/>
<path d="M844.4 607.8 L844.4 650.0" fill="none" stroke="#f2f2f2" stroke-width="12.0" stroke-linecap="round" stroke-linejoin="round"/>
</g>
<path d="M852.1 356.4C857.2 354.8 869.4 352.3 873.2 356.4C877.0 360.6 873.5 373.1 875.1 381.4C876.7 389.7 880.2 399.3 882.8 406.3C885.4 413.4 884.2 418.6 890.5 423.6C896.7 428.5 915.3 433.0 920.2 436.1C925.2 439.1 925.8 439.9 920.2 441.8C914.6 443.7 891.6 443.3 886.6 447.6C881.7 451.9 889.2 459.6 890.5 467.7C891.8 475.9 892.4 486.9 894.3 496.5C896.2 506.1 900.4 515.7 902.0 525.3C903.6 534.9 903.9 546.1 903.9 554.1C903.9 562.1 904.2 567.5 902.0 573.2C899.7 579.0 895.0 585.1 890.5 588.6C886.0 592.1 880.9 593.1 875.1 594.4C869.4 595.6 860.4 593.4 855.9 596.3C851.5 599.2 850.8 609.1 848.3 611.6C845.7 614.2 842.8 614.8 840.6 611.6C838.3 608.4 838.7 597.2 834.8 592.4C831.0 587.6 823.0 586.0 817.6 582.8C812.1 579.6 805.4 578.0 802.2 573.2C799.0 568.5 798.1 562.1 798.4 554.1C798.7 546.1 801.9 534.9 804.1 525.3C806.4 515.7 809.6 506.1 811.8 496.5C814.0 486.9 816.6 475.9 817.6 467.7C818.5 459.6 822.0 451.6 817.6 447.6C813.1 443.6 798.7 445.2 790.7 443.7C782.7 442.3 773.1 441.0 769.6 438.9C766.1 436.9 765.4 432.9 769.6 431.3C773.8 429.7 787.2 431.3 794.5 429.3C801.9 427.4 808.9 424.5 813.7 419.7C818.5 415.0 819.5 407.0 823.3 400.6C827.2 394.2 833.6 387.1 836.7 381.4C839.9 375.6 839.9 370.2 842.5 366.0C845.1 361.9 847.0 358.0 852.1 356.4Z" fill="#fff" filter="url(#bodyF)"/>
<g filter="url(#soft)">
<ellipse cx="847.3" cy="481.1" rx="9.6" ry="9.6" fill="url(#gW)"/>
</g>
<rect x="771.00" y="351.50" width="148.60" height="298.00" fill="#000" filter="url(#grain)" opacity="0.5"/>
<g filter="url(#hsoft)">
<g clip-path="url(#hc11)">
<path d="M846.3 542.5L855.9 540.6L855.9 550.2L861.7 561.7L857.9 573.2L844.4 576.1L836.7 569.4L836.7 556.0Z" fill="#6a0000"/>
<ellipse cx="848.3" cy="560.8" rx="14.4" ry="18.2" fill="url(#gO)"/>
<ellipse cx="847.9" cy="557.9" rx="6.9" ry="8.4" fill="url(#gY)"/>
</g>
<rect x="806.0" y="565.6" width="13.4" height="13.4" fill="#5c0000"/>
<rect x="879.9" y="570.4" width="9.6" height="15.3" fill="#5c0000"/>
<rect x="881.3" y="586.7" width="3.1" height="7.7" fill="#5c0000"/>
<rect x="866.9" y="374.7" width="5.0" height="19.2" fill="#5c0000"/>
<rect x="876.1" y="444.7" width="7.7" height="11.5" fill="#5c0000"/>
<rect x="840.2" y="615.5" width="8.4" height="34.5" fill="#5c0000"/>
<rect x="899.1" y="607.8" width="9.6" height="4.6" fill="#5c0000"/>
<rect x="845.4" y="531.6" width="5.8" height="4.6" fill="#5c0000"/>
<rect x="857.1" y="406.9" width="3.5" height="2.7" fill="#5c0000"/>
<rect x="862.8" y="430.9" width="3.5" height="2.7" fill="#5c0000"/>
<rect x="878.8" y="407.3" width="2.3" height="7.7" fill="#5c0000"/>
<rect x="842.3" y="372.7" width="2.3" height="5.8" fill="#5c0000"/>
<rect x="842.9" y="623.1" width="3.1" height="7.7" fill="#e8e8e8"/>
<rect x="843.1" y="641.4" width="2.7" height="5.8" fill="#e8e8e8"/>
</g>
</g>
<g id="img-ventral-30min" clip-path="url(#cp11)">
<rect x="939.60" y="351.50" width="146.40" height="298.00" fill="#4c4c4c"/>
<rect x="939.6" y="348.8" width="146.4" height="5.8" fill="#3b3b3b"/>
<line x1="939.6" y1="366.0" x2="1086.0" y2="366.0" stroke="#3a3a3a" stroke-width="1.6"/>
<line x1="939.6" y1="404.4" x2="1086.0" y2="404.4" stroke="#3a3a3a" stroke-width="1.6"/>
<line x1="939.6" y1="458.1" x2="1086.0" y2="458.1" stroke="#3a3a3a" stroke-width="1.6"/>
<line x1="939.6" y1="615.5" x2="1086.0" y2="615.5" stroke="#3c3c3c" stroke-width="2.0"/>
<line x1="1068.9" y1="458.1" x2="1068.9" y2="592.4" stroke="#3c3c3c" stroke-width="1.6"/>
<path d="M940.4 396.7L950.0 398.6L944.2 423.6L940.4 423.6Z" fill="#747474"/>
<path d="M1074.7 396.7L1086.6 400.6L1086.6 477.3L1055.5 463.9Z" fill="#747474"/>
<path d="M1005.6 356.4C1009.4 354.8 1019.0 352.3 1022.9 356.4C1026.7 360.6 1027.0 373.1 1028.6 381.4C1030.2 389.7 1031.2 399.3 1032.5 406.3C1033.7 413.4 1031.8 418.8 1036.3 423.6C1040.8 428.4 1050.7 434.8 1059.3 435.1C1068.0 435.4 1083.3 425.5 1088.1 425.5C1092.9 425.5 1091.6 431.9 1088.1 435.1C1084.6 438.3 1075.0 441.5 1067.0 444.7C1059.0 447.9 1044.6 448.9 1040.1 454.3C1035.7 459.7 1038.9 470.3 1040.1 477.3C1041.4 484.3 1045.3 488.5 1047.8 496.5C1050.4 504.5 1052.9 516.3 1055.5 525.3C1058.0 534.2 1060.9 542.2 1063.2 550.2C1065.4 558.2 1068.6 566.2 1068.9 573.2C1069.2 580.3 1068.6 587.6 1065.1 592.4C1061.6 597.2 1053.2 598.8 1047.8 602.0C1042.4 605.2 1035.7 608.7 1032.5 611.6C1029.3 614.5 1030.9 618.0 1028.6 619.3C1026.4 620.6 1021.6 621.2 1019.0 619.3C1016.5 617.4 1018.1 610.7 1013.3 607.8C1008.5 604.9 997.3 604.3 990.2 602.0C983.2 599.8 975.5 599.2 971.1 594.4C966.6 589.6 964.0 581.6 963.4 573.2C962.7 564.9 966.3 554.1 967.2 544.5C968.2 534.9 968.5 525.3 969.1 515.7C969.8 506.1 970.1 495.9 971.1 486.9C972.0 478.0 974.9 468.7 974.9 462.0C974.9 455.2 977.1 451.1 971.1 446.6C965.0 442.1 943.9 438.6 938.4 435.1C933.0 431.6 934.6 427.1 938.4 425.5C942.3 423.9 956.0 428.7 961.5 425.5C966.9 422.3 966.9 413.7 971.1 406.3C975.2 399.0 981.6 388.1 986.4 381.4C991.2 374.7 996.6 370.2 999.8 366.0C1003.0 361.9 1001.8 358.0 1005.6 356.4Z" fill="#303030" stroke="#303030" stroke-width="5" opacity="0.75" filter="url(#soft2)"/>
<path d="M980.7 598.2C980.7 601.7 983.5 612.9 980.7 619.3C977.8 625.7 968.2 631.6 963.4 636.6C958.6 641.5 953.8 647.0 951.9 649.0" fill="none" stroke="#303030" stroke-width="14.0" stroke-linecap="round" stroke-linejoin="round" opacity="0.6" filter="url(#soft2)"/>
<path d="M1057.4 598.2C1057.7 601.1 1054.4 610.7 1059.3 615.5C1064.3 620.3 1082.5 625.1 1087.1 627.0" fill="none" stroke="#303030" stroke-width="14.0" stroke-linecap="round" stroke-linejoin="round" opacity="0.6" filter="url(#soft2)"/>
<path d="M1024.8 615.5 L1024.8 650.0" fill="none" stroke="#303030" stroke-width="15.0" stroke-linecap="round" stroke-linejoin="round" opacity="0.6" filter="url(#soft2)"/>
<g filter="url(#soft)">
<ellipse class="blobL" cx="1044.9" cy="410.2" rx="8.6" ry="15.3" fill="#d8d8d8"/>
<ellipse class="blobL" cx="965.3" cy="413.0" rx="7.7" ry="7.7" fill="#c4c4c4"/>
<path d="M980.7 598.2C980.7 601.7 983.5 612.9 980.7 619.3C977.8 625.7 968.2 631.6 963.4 636.6C958.6 641.5 953.8 647.0 951.9 649.0" fill="none" stroke="#f2f2f2" stroke-width="11.0" stroke-linecap="round" stroke-linejoin="round"/>
<path d="M1057.4 598.2C1057.7 601.1 1054.4 610.7 1059.3 615.5C1064.3 620.3 1082.5 625.1 1087.1 627.0" fill="none" stroke="#f2f2f2" stroke-width="11.0" stroke-linecap="round" stroke-linejoin="round"/>
<path d="M1024.8 615.5 L1024.8 650.0" fill="none" stroke="#f2f2f2" stroke-width="12.0" stroke-linecap="round" stroke-linejoin="round"/>
</g>
<path d="M1005.6 356.4C1009.4 354.8 1019.0 352.3 1022.9 356.4C1026.7 360.6 1027.0 373.1 1028.6 381.4C1030.2 389.7 1031.2 399.3 1032.5 406.3C1033.7 413.4 1031.8 418.8 1036.3 423.6C1040.8 428.4 1050.7 434.8 1059.3 435.1C1068.0 435.4 1083.3 425.5 1088.1 425.5C1092.9 425.5 1091.6 431.9 1088.1 435.1C1084.6 438.3 1075.0 441.5 1067.0 444.7C1059.0 447.9 1044.6 448.9 1040.1 454.3C1035.7 459.7 1038.9 470.3 1040.1 477.3C1041.4 484.3 1045.3 488.5 1047.8 496.5C1050.4 504.5 1052.9 516.3 1055.5 525.3C1058.0 534.2 1060.9 542.2 1063.2 550.2C1065.4 558.2 1068.6 566.2 1068.9 573.2C1069.2 580.3 1068.6 587.6 1065.1 592.4C1061.6 597.2 1053.2 598.8 1047.8 602.0C1042.4 605.2 1035.7 608.7 1032.5 611.6C1029.3 614.5 1030.9 618.0 1028.6 619.3C1026.4 620.6 1021.6 621.2 1019.0 619.3C1016.5 617.4 1018.1 610.7 1013.3 607.8C1008.5 604.9 997.3 604.3 990.2 602.0C983.2 599.8 975.5 599.2 971.1 594.4C966.6 589.6 964.0 581.6 963.4 573.2C962.7 564.9 966.3 554.1 967.2 544.5C968.2 534.9 968.5 525.3 969.1 515.7C969.8 506.1 970.1 495.9 971.1 486.9C972.0 478.0 974.9 468.7 974.9 462.0C974.9 455.2 977.1 451.1 971.1 446.6C965.0 442.1 943.9 438.6 938.4 435.1C933.0 431.6 934.6 427.1 938.4 425.5C942.3 423.9 956.0 428.7 961.5 425.5C966.9 422.3 966.9 413.7 971.1 406.3C975.2 399.0 981.6 388.1 986.4 381.4C991.2 374.7 996.6 370.2 999.8 366.0C1003.0 361.9 1001.8 358.0 1005.6 356.4Z" fill="#fff" filter="url(#bodyF)"/>
<g filter="url(#soft)">

</g>
<rect x="939.60" y="351.50" width="146.40" height="298.00" fill="#000" filter="url(#grain)" opacity="0.5"/>
<g filter="url(#hsoft)">
<path d="M1007.5 354.5L1019.0 358.3L1024.8 381.4L1030.5 404.4L1032.5 425.5L1044.0 437.0L1024.8 438.9L999.8 440.9L976.8 440.9L951.9 429.3L967.2 419.7L973.0 400.6L988.3 381.4L1001.8 366.0Z" fill="#5c0000"/>
<rect x="1004.6" y="377.5" width="9.6" height="11.5" fill="#e8e8e8"/>
<rect x="1010.4" y="364.1" width="5.8" height="7.7" fill="#e8e8e8"/>
<rect x="995.0" y="395.0" width="9.6" height="3.5" fill="#e8e8e8"/>
<rect x="1013.5" y="393.8" width="3.5" height="5.8" fill="#e8e8e8"/>
<rect x="1001.8" y="482.1" width="11.5" height="17.3" fill="#5c0000"/>
<path d="M963.4 450.4C964.7 451.7 969.5 454.0 971.1 458.1C972.7 462.3 972.7 472.5 973.0 475.4" fill="none" stroke="#5c0000" stroke-width="3.5" stroke-linecap="butt" stroke-linejoin="round"/>
<path d="M1040.1 452.4C1038.9 453.3 1033.1 454.0 1032.5 458.1C1031.8 462.3 1035.7 474.1 1036.3 477.3" fill="none" stroke="#5c0000" stroke-width="3.5" stroke-linecap="butt" stroke-linejoin="round"/>
<path d="M1068.9 438.9 L1086.2 429.3" fill="none" stroke="#5c0000" stroke-width="5.0" stroke-linecap="butt" stroke-linejoin="round"/>
<g clip-path="url(#hc12)" filter="url(#mot1)">
<path d="M963.4 571.3L990.2 573.2L1007.5 544.5L1019.0 538.7L1028.6 550.2L1044.0 544.5L1047.8 534.9L1055.5 554.1L1067.0 563.7L1068.9 582.8L1059.3 596.3L1036.3 602.0L1009.4 598.2L990.2 592.4L971.1 592.4L967.2 580.9Z" fill="#5e0000"/>
</g>
<g clip-path="url(#hc13)">
<path d="M1009.4 559.8C1011.9 556.9 1024.1 553.6 1028.6 554.1C1033.1 554.5 1045.3 560.1 1047.8 563.7C1050.3 567.2 1051.1 580.7 1049.7 584.8C1048.4 588.8 1040.3 597.1 1036.3 598.2C1032.3 599.3 1018.5 596.6 1015.2 594.4C1011.8 592.1 1008.2 583.0 1007.5 579.0C1006.8 575.0 1007.0 562.7 1009.4 559.8Z" fill="#5e0000"/>
<ellipse cx="1028.6" cy="577.1" rx="28.8" ry="24.9" fill="url(#gR)"/>
<ellipse cx="1028.6" cy="577.1" rx="18.2" ry="16.3" fill="url(#gO)"/>
<ellipse cx="1028.6" cy="577.1" rx="12.5" ry="11.5" fill="url(#gY)"/>
</g>
<rect x="991.2" y="580.9" width="13.4" height="3.8" fill="#e8e8e8"/>
<rect x="982.6" y="575.2" width="7.7" height="7.7" fill="#e8e8e8"/>
<rect x="1048.8" y="566.5" width="5.8" height="5.8" fill="#e8e8e8"/>
<rect x="1035.3" y="551.2" width="5.8" height="5.8" fill="#e8e8e8"/>
<rect x="988.3" y="592.4" width="15.3" height="3.8" fill="#e8e8e8"/>
<rect x="1006.6" y="565.6" width="5.8" height="3.8" fill="#e8e8e8"/>
<path d="M980.7 598.2C980.7 601.7 983.5 612.9 980.7 619.3C977.8 625.7 968.2 631.6 963.4 636.6C958.6 641.5 953.8 647.0 951.9 649.0" fill="none" stroke="#5c0000" stroke-width="5.4" stroke-linecap="butt" stroke-linejoin="round"/>
<path d="M1057.4 598.2C1057.7 601.1 1054.4 610.7 1059.3 615.5C1064.3 620.3 1082.5 625.1 1087.1 627.0" fill="none" stroke="#5c0000" stroke-width="5.4" stroke-linecap="butt" stroke-linejoin="round"/>
<rect x="1020.6" y="633.7" width="8.4" height="17.3" fill="#5c0000"/>
<rect x="1017.1" y="613.5" width="5.8" height="11.5" fill="#5c0000"/>
<rect x="987.4" y="529.1" width="7.7" height="5.8" fill="#5c0000"/>
<rect x="974.5" y="547.0" width="4.6" height="4.6" fill="#5c0000"/>
<rect x="1037.6" y="521.8" width="3.1" height="3.1" fill="#5c0000"/>
<rect x="1051.3" y="527.2" width="2.7" height="5.8" fill="#5c0000"/>
</g>
</g>
<g id="img-ventral-45min" clip-path="url(#cp12)">
<rect x="1107.00" y="351.80" width="145.00" height="297.70" fill="#4c4c4c"/>
<rect x="1107.0" y="349.7" width="145.0" height="17.3" fill="#3b3b3b"/>
<rect x="1138.6" y="351.6" width="8.8" height="14.2" fill="#191919" filter="url(#soft)"/>
<rect x="1142.0" y="354.3" width="2.0" height="12.7" fill="#6e6e6e"/>
<rect x="1141.4" y="365.1" width="3.2" height="2.4" fill="#d0d0d0"/>
<rect x="1223.0" y="351.6" width="8.8" height="14.2" fill="#191919" filter="url(#soft)"/>
<rect x="1226.4" y="354.3" width="2.0" height="12.7" fill="#6e6e6e"/>
<rect x="1225.8" y="365.1" width="3.2" height="2.4" fill="#d0d0d0"/>
<line x1="1107.0" y1="388.1" x2="1252.0" y2="388.1" stroke="#3a3a3a" stroke-width="1.6"/>
<line x1="1107.0" y1="463.9" x2="1252.0" y2="463.9" stroke="#3a3a3a" stroke-width="1.6"/>
<line x1="1107.0" y1="615.5" x2="1252.0" y2="615.5" stroke="#3c3c3c" stroke-width="2.0"/>
<line x1="1235.1" y1="483.1" x2="1235.1" y2="611.6" stroke="#3c3c3c" stroke-width="1.6"/>
<path d="M1107.5 415.9L1127.6 414.0L1123.8 465.8L1118.0 519.5L1107.5 511.8Z" fill="#7a7a7a"/>
<path d="M1217.8 415.9L1252.0 419.7L1252.0 483.1L1221.6 485.0L1217.8 458.1Z" fill="#7a7a7a"/>
<path d="M1177.5 354.5C1182.9 350.7 1194.5 350.0 1198.6 354.5C1202.8 359.0 1200.5 372.7 1202.4 381.4C1204.4 390.0 1207.6 397.4 1210.1 406.3C1212.7 415.3 1212.7 429.7 1217.8 435.1C1222.9 440.5 1234.9 438.6 1240.8 438.9C1246.7 439.3 1251.2 436.1 1253.3 437.0C1255.4 438.0 1257.3 441.8 1253.3 444.7C1249.3 447.6 1236.8 451.4 1229.3 454.3C1221.8 457.2 1211.4 456.5 1208.2 462.0C1205.0 467.4 1208.5 478.0 1210.1 486.9C1211.7 495.9 1215.2 507.7 1217.8 515.7C1220.4 523.7 1222.9 528.5 1225.5 534.9C1228.0 541.3 1230.9 547.7 1233.1 554.1C1235.4 560.5 1238.9 567.5 1238.9 573.2C1238.9 579.0 1236.7 585.1 1233.1 588.6C1229.6 592.1 1222.9 592.8 1217.8 594.4C1212.7 596.0 1206.6 595.3 1202.4 598.2C1198.3 601.1 1196.1 609.4 1192.9 611.6C1189.7 613.9 1186.1 613.9 1183.3 611.6C1180.4 609.4 1180.7 601.1 1175.6 598.2C1170.5 595.3 1159.6 596.0 1152.6 594.4C1145.5 592.8 1137.9 592.8 1133.4 588.6C1128.9 584.4 1126.0 576.8 1125.7 569.4C1125.4 562.1 1130.2 553.4 1131.5 544.5C1132.7 535.5 1132.7 525.3 1133.4 515.7C1134.0 506.1 1134.3 494.9 1135.3 486.9C1136.3 478.9 1141.4 472.5 1139.1 467.7C1136.9 462.9 1127.5 459.1 1121.9 458.1C1116.3 457.2 1108.3 462.6 1105.6 462.0C1102.8 461.3 1102.2 456.8 1105.6 454.3C1108.9 451.7 1119.8 451.7 1125.7 446.6C1131.6 441.5 1136.6 431.3 1141.0 423.6C1145.5 415.9 1148.4 408.2 1152.6 400.6C1156.7 392.9 1161.8 385.2 1166.0 377.5C1170.2 369.9 1172.1 358.3 1177.5 354.5Z" fill="#303030" stroke="#303030" stroke-width="5" opacity="0.75" filter="url(#soft2)"/>
<path d="M1143.0 592.4C1143.0 596.3 1146.2 608.7 1143.0 615.5C1139.8 622.2 1128.9 627.5 1123.8 632.7C1118.7 638.0 1114.2 644.7 1112.3 647.1" fill="none" stroke="#303030" stroke-width="14.0" stroke-linecap="round" stroke-linejoin="round" opacity="0.6" filter="url(#soft2)"/>
<path d="M1225.5 592.4C1225.8 595.6 1222.9 605.2 1227.4 611.6C1231.9 618.0 1248.2 627.6 1252.3 630.8" fill="none" stroke="#303030" stroke-width="14.0" stroke-linecap="round" stroke-linejoin="round" opacity="0.6" filter="url(#soft2)"/>
<path d="M1188.1 607.8 L1188.1 650.0" fill="none" stroke="#303030" stroke-width="15.0" stroke-linecap="round" stroke-linejoin="round" opacity="0.6" filter="url(#soft2)"/>
<g filter="url(#soft)">
<path d="M1143.0 592.4C1143.0 596.3 1146.2 608.7 1143.0 615.5C1139.8 622.2 1128.9 627.5 1123.8 632.7C1118.7 638.0 1114.2 644.7 1112.3 647.1" fill="none" stroke="#f2f2f2" stroke-width="11.0" stroke-linecap="round" stroke-linejoin="round"/>
<path d="M1225.5 592.4C1225.8 595.6 1222.9 605.2 1227.4 611.6C1231.9 618.0 1248.2 627.6 1252.3 630.8" fill="none" stroke="#f2f2f2" stroke-width="11.0" stroke-linecap="round" stroke-linejoin="round"/>
<path d="M1188.1 607.8 L1188.1 650.0" fill="none" stroke="#f2f2f2" stroke-width="12.0" stroke-linecap="round" stroke-linejoin="round"/>
</g>
<path d="M1177.5 354.5C1182.9 350.7 1194.5 350.0 1198.6 354.5C1202.8 359.0 1200.5 372.7 1202.4 381.4C1204.4 390.0 1207.6 397.4 1210.1 406.3C1212.7 415.3 1212.7 429.7 1217.8 435.1C1222.9 440.5 1234.9 438.6 1240.8 438.9C1246.7 439.3 1251.2 436.1 1253.3 437.0C1255.4 438.0 1257.3 441.8 1253.3 444.7C1249.3 447.6 1236.8 451.4 1229.3 454.3C1221.8 457.2 1211.4 456.5 1208.2 462.0C1205.0 467.4 1208.5 478.0 1210.1 486.9C1211.7 495.9 1215.2 507.7 1217.8 515.7C1220.4 523.7 1222.9 528.5 1225.5 534.9C1228.0 541.3 1230.9 547.7 1233.1 554.1C1235.4 560.5 1238.9 567.5 1238.9 573.2C1238.9 579.0 1236.7 585.1 1233.1 588.6C1229.6 592.1 1222.9 592.8 1217.8 594.4C1212.7 596.0 1206.6 595.3 1202.4 598.2C1198.3 601.1 1196.1 609.4 1192.9 611.6C1189.7 613.9 1186.1 613.9 1183.3 611.6C1180.4 609.4 1180.7 601.1 1175.6 598.2C1170.5 595.3 1159.6 596.0 1152.6 594.4C1145.5 592.8 1137.9 592.8 1133.4 588.6C1128.9 584.4 1126.0 576.8 1125.7 569.4C1125.4 562.1 1130.2 553.4 1131.5 544.5C1132.7 535.5 1132.7 525.3 1133.4 515.7C1134.0 506.1 1134.3 494.9 1135.3 486.9C1136.3 478.9 1141.4 472.5 1139.1 467.7C1136.9 462.9 1127.5 459.1 1121.9 458.1C1116.3 457.2 1108.3 462.6 1105.6 462.0C1102.8 461.3 1102.2 456.8 1105.6 454.3C1108.9 451.7 1119.8 451.7 1125.7 446.6C1131.6 441.5 1136.6 431.3 1141.0 423.6C1145.5 415.9 1148.4 408.2 1152.6 400.6C1156.7 392.9 1161.8 385.2 1166.0 377.5C1170.2 369.9 1172.1 358.3 1177.5 354.5Z" fill="#fff" filter="url(#bodyF)"/>
<g filter="url(#soft)">

</g>
<rect x="1107.00" y="351.80" width="145.00" height="297.70" fill="#000" filter="url(#grain)" opacity="0.5"/>
<g filter="url(#hsoft)">
<g clip-path="url(#hc14)">
<path d="M1177.5 352.6L1198.6 352.6L1202.4 381.4L1210.1 406.3L1217.8 435.1L1240.8 438.9L1253.3 437.0L1253.3 444.7L1229.3 454.3L1208.2 462.0L1208.2 486.9L1202.4 496.5L1190.9 490.7L1181.3 502.3L1167.9 496.5L1158.3 488.8L1139.1 502.3L1139.1 467.7L1121.9 458.1L1105.6 462.0L1105.6 454.3L1125.7 446.6L1141.0 423.6L1152.6 400.6L1166.0 377.5Z" fill="#7c0000"/>
<ellipse cx="1202.4" cy="429.3" rx="49.9" ry="49.9" fill="url(#gR)"/>
<ellipse cx="1187.1" cy="391.0" rx="34.5" ry="38.4" fill="url(#gR)"/>
<ellipse cx="1212.0" cy="442.8" rx="23.0" ry="19.2" fill="url(#gR)"/>
<ellipse cx="1171.7" cy="452.4" rx="23.0" ry="19.2" fill="url(#gM)"/>
<ellipse cx="1204.4" cy="459.1" rx="5.8" ry="5.8" fill="url(#gO)"/>
</g>
<rect x="1182.3" y="361.2" width="7.7" height="7.7" fill="#e8e8e8"/>
<rect x="1168.3" y="448.5" width="3.1" height="9.6" fill="#e8e8e8"/>
<rect x="1158.3" y="419.4" width="7.7" height="2.7" fill="#e8e8e8"/>
<g clip-path="url(#hc15)" filter="url(#mot1)">
<path d="M1133.4 519.5L1144.9 531.0L1158.3 554.1L1175.6 550.2L1181.3 534.9L1190.9 544.5L1198.6 515.7L1210.1 502.3L1221.6 515.7L1225.5 534.9L1233.1 554.1L1238.9 573.2L1233.1 588.6L1217.8 594.4L1202.4 598.2L1175.6 598.2L1152.6 594.4L1133.4 588.6L1125.7 569.4L1131.5 544.5Z" fill="#6a0000"/>
<ellipse cx="1181.3" cy="577.1" rx="61.4" ry="30.7" fill="url(#gM)"/>
</g>
<g clip-path="url(#hc16)" filter="url(#mot3)">
<path d="M1133.4 496.5L1210.1 492.7L1225.5 534.9L1229.3 563.7L1129.5 563.7L1131.5 534.9Z" fill="#6a0000"/>
</g>
<g clip-path="url(#hc17)">
<path d="M1175.6 557.9C1177.6 555.2 1187.4 553.8 1190.9 554.1C1194.5 554.3 1204.0 557.6 1206.3 559.8C1208.5 562.1 1210.6 570.1 1210.1 573.2C1209.7 576.4 1205.4 584.9 1202.4 586.7C1199.5 588.5 1188.5 589.7 1185.2 588.6C1181.8 587.5 1174.8 580.7 1173.7 577.1C1172.5 573.5 1173.6 560.6 1175.6 557.9Z" fill="#8a0000"/>
<ellipse cx="1190.9" cy="571.3" rx="19.2" ry="17.3" fill="url(#gR)"/>
<ellipse cx="1190.9" cy="571.3" rx="15.3" ry="13.4" fill="url(#gO)"/>
<ellipse cx="1190.9" cy="571.3" rx="9.6" ry="8.6" fill="url(#gY)"/>
</g>
<rect x="1206.3" y="529.1" width="7.7" height="11.5" fill="#e8e8e8"/>
<rect x="1214.9" y="565.6" width="9.6" height="3.8" fill="#e8e8e8"/>
<rect x="1163.1" y="552.1" width="9.6" height="7.7" fill="#e8e8e8"/>
<rect x="1193.8" y="519.5" width="5.8" height="15.3" fill="#e8e8e8"/>
<path d="M1143.0 592.4C1143.0 596.3 1146.2 608.7 1143.0 615.5C1139.8 622.2 1128.9 627.5 1123.8 632.7C1118.7 638.0 1114.2 644.7 1112.3 647.1" fill="none" stroke="#a00000" stroke-width="5.8" stroke-linecap="butt" stroke-linejoin="round"/>
<path d="M1225.5 592.4C1225.8 595.6 1222.9 605.2 1227.4 611.6C1231.9 618.0 1248.2 627.6 1252.3 630.8" fill="none" stroke="#900000" stroke-width="5.8" stroke-linecap="butt" stroke-linejoin="round"/>
<rect x="1183.6" y="603.9" width="8.8" height="34.5" fill="#c00808"/>
<rect x="1183.6" y="634.6" width="8.8" height="15.3" fill="#e85010"/>
<path d="M1135.3 488.8 L1134.3 515.7" fill="none" stroke="#7a0000" stroke-width="5.8" stroke-linecap="butt" stroke-linejoin="round"/>
</g>
</g>
<g id="img-ventral-60min" clip-path="url(#cp13)">
<rect x="1272.70" y="351.80" width="142.80" height="297.70" fill="#4c4c4c"/>
<rect x="1272.7" y="349.7" width="142.8" height="17.3" fill="#3b3b3b"/>
<rect x="1297.8" y="351.6" width="8.8" height="14.2" fill="#191919" filter="url(#soft)"/>
<rect x="1301.2" y="354.3" width="2.0" height="12.7" fill="#6e6e6e"/>
<rect x="1300.6" y="365.1" width="3.2" height="2.4" fill="#d0d0d0"/>
<rect x="1382.2" y="351.6" width="8.8" height="14.2" fill="#191919" filter="url(#soft)"/>
<rect x="1385.6" y="354.3" width="2.0" height="12.7" fill="#6e6e6e"/>
<rect x="1385.0" y="365.1" width="3.2" height="2.4" fill="#d0d0d0"/>
<line x1="1272.7" y1="388.1" x2="1415.5" y2="388.1" stroke="#3a3a3a" stroke-width="1.6"/>
<line x1="1272.7" y1="463.9" x2="1415.5" y2="463.9" stroke="#3a3a3a" stroke-width="1.6"/>
<line x1="1272.7" y1="615.5" x2="1415.5" y2="615.5" stroke="#3c3c3c" stroke-width="2.0"/>
<line x1="1394.3" y1="463.9" x2="1394.3" y2="611.6" stroke="#3c3c3c" stroke-width="1.6"/>
<path d="M1272.5 373.7L1286.9 375.6L1285.0 465.8L1272.5 477.3Z" fill="#787878"/>
<path d="M1392.4 419.7L1415.0 415.9L1415.0 488.8L1402.0 485.0Z" fill="#787878"/>
<path d="M1336.8 354.5C1341.9 350.7 1353.4 350.0 1357.9 354.5C1362.3 359.0 1361.4 372.7 1363.6 381.4C1365.9 390.0 1368.7 399.9 1371.3 406.3C1373.9 412.7 1375.8 415.0 1379.0 419.7C1382.2 424.5 1384.2 431.3 1390.5 435.1C1396.7 438.9 1412.1 440.2 1416.4 442.8C1420.7 445.3 1420.7 449.2 1416.4 450.4C1412.1 451.7 1397.7 449.8 1390.5 450.4C1383.3 451.1 1375.5 449.8 1373.2 454.3C1371.0 458.8 1375.1 468.7 1377.1 477.3C1379.0 485.9 1382.2 496.5 1384.7 506.1C1387.3 515.7 1389.8 526.9 1392.4 534.9C1395.0 542.9 1398.5 547.7 1400.1 554.1C1401.7 560.5 1402.6 567.8 1402.0 573.2C1401.4 578.7 1399.4 583.5 1396.2 586.7C1393.0 589.9 1388.2 590.5 1382.8 592.4C1377.4 594.4 1367.5 595.0 1363.6 598.2C1359.8 601.4 1362.3 609.4 1359.8 611.6C1357.2 613.9 1350.8 613.9 1348.3 611.6C1345.7 609.4 1348.9 601.4 1344.4 598.2C1340.0 595.0 1328.4 594.4 1321.4 592.4C1314.4 590.5 1306.7 590.5 1302.2 586.7C1297.7 582.8 1295.2 576.4 1294.5 569.4C1293.9 562.4 1297.4 553.4 1298.4 544.5C1299.3 535.5 1299.7 525.3 1300.3 515.7C1300.9 506.1 1301.3 496.5 1302.2 486.9C1303.2 477.3 1305.7 465.5 1306.1 458.1C1306.4 450.8 1309.9 446.0 1304.1 442.8C1298.4 439.6 1277.0 441.2 1271.5 438.9C1266.1 436.7 1268.0 431.6 1271.5 429.3C1275.0 427.1 1286.9 427.7 1292.6 425.5C1298.4 423.3 1302.2 420.1 1306.1 415.9C1309.9 411.8 1312.1 407.0 1315.7 400.6C1319.2 394.2 1323.6 385.2 1327.2 377.5C1330.7 369.9 1331.6 358.3 1336.8 354.5Z" fill="#303030" stroke="#303030" stroke-width="5" opacity="0.75" filter="url(#soft2)"/>
<path d="M1309.9 590.5C1310.2 594.7 1314.1 608.4 1311.8 615.5C1309.6 622.5 1300.6 627.1 1296.5 632.7C1292.3 638.3 1288.5 646.3 1286.9 649.0" fill="none" stroke="#303030" stroke-width="14.0" stroke-linecap="round" stroke-linejoin="round" opacity="0.6" filter="url(#soft2)"/>
<path d="M1388.6 590.5C1388.9 593.7 1386.2 604.6 1390.5 609.7C1394.8 614.8 1410.5 619.3 1414.5 621.2" fill="none" stroke="#303030" stroke-width="14.0" stroke-linecap="round" stroke-linejoin="round" opacity="0.6" filter="url(#soft2)"/>
<path d="M1354.0 607.8 L1353.1 650.0" fill="none" stroke="#303030" stroke-width="15.0" stroke-linecap="round" stroke-linejoin="round" opacity="0.6" filter="url(#soft2)"/>
<g filter="url(#soft)">
<path d="M1309.9 590.5C1310.2 594.7 1314.1 608.4 1311.8 615.5C1309.6 622.5 1300.6 627.1 1296.5 632.7C1292.3 638.3 1288.5 646.3 1286.9 649.0" fill="none" stroke="#f2f2f2" stroke-width="11.0" stroke-linecap="round" stroke-linejoin="round"/>
<path d="M1388.6 590.5C1388.9 593.7 1386.2 604.6 1390.5 609.7C1394.8 614.8 1410.5 619.3 1414.5 621.2" fill="none" stroke="#f2f2f2" stroke-width="11.0" stroke-linecap="round" stroke-linejoin="round"/>
<path d="M1354.0 607.8 L1353.1 650.0" fill="none" stroke="#f2f2f2" stroke-width="12.0" stroke-linecap="round" stroke-linejoin="round"/>
</g>
<path d="M1336.8 354.5C1341.9 350.7 1353.4 350.0 1357.9 354.5C1362.3 359.0 1361.4 372.7 1363.6 381.4C1365.9 390.0 1368.7 399.9 1371.3 406.3C1373.9 412.7 1375.8 415.0 1379.0 419.7C1382.2 424.5 1384.2 431.3 1390.5 435.1C1396.7 438.9 1412.1 440.2 1416.4 442.8C1420.7 445.3 1420.7 449.2 1416.4 450.4C1412.1 451.7 1397.7 449.8 1390.5 450.4C1383.3 451.1 1375.5 449.8 1373.2 454.3C1371.0 458.8 1375.1 468.7 1377.1 477.3C1379.0 485.9 1382.2 496.5 1384.7 506.1C1387.3 515.7 1389.8 526.9 1392.4 534.9C1395.0 542.9 1398.5 547.7 1400.1 554.1C1401.7 560.5 1402.6 567.8 1402.0 573.2C1401.4 578.7 1399.4 583.5 1396.2 586.7C1393.0 589.9 1388.2 590.5 1382.8 592.4C1377.4 594.4 1367.5 595.0 1363.6 598.2C1359.8 601.4 1362.3 609.4 1359.8 611.6C1357.2 613.9 1350.8 613.9 1348.3 611.6C1345.7 609.4 1348.9 601.4 1344.4 598.2C1340.0 595.0 1328.4 594.4 1321.4 592.4C1314.4 590.5 1306.7 590.5 1302.2 586.7C1297.7 582.8 1295.2 576.4 1294.5 569.4C1293.9 562.4 1297.4 553.4 1298.4 544.5C1299.3 535.5 1299.7 525.3 1300.3 515.7C1300.9 506.1 1301.3 496.5 1302.2 486.9C1303.2 477.3 1305.7 465.5 1306.1 458.1C1306.4 450.8 1309.9 446.0 1304.1 442.8C1298.4 439.6 1277.0 441.2 1271.5 438.9C1266.1 436.7 1268.0 431.6 1271.5 429.3C1275.0 427.1 1286.9 427.7 1292.6 425.5C1298.4 423.3 1302.2 420.1 1306.1 415.9C1309.9 411.8 1312.1 407.0 1315.7 400.6C1319.2 394.2 1323.6 385.2 1327.2 377.5C1330.7 369.9 1331.6 358.3 1336.8 354.5Z" fill="#fff" filter="url(#bodyF)"/>
<g filter="url(#soft)">

</g>
<rect x="1272.70" y="351.80" width="142.80" height="297.70" fill="#000" filter="url(#grain)" opacity="0.5"/>
<g filter="url(#hsoft)">
<g clip-path="url(#hc18)" filter="url(#mot1)">
<path d="M1336.8 354.5L1357.9 354.5L1363.6 381.4L1371.3 406.3L1373.2 423.6L1379.0 435.1L1363.6 437.0L1334.8 435.1L1306.1 433.2L1294.5 429.3L1306.1 415.9L1315.7 400.6L1327.2 377.5Z" fill="#640000"/>
</g>
<rect x="1341.6" y="361.2" width="9.6" height="9.6" fill="#e8e8e8"/>
<rect x="1332.0" y="382.3" width="21.1" height="9.6" fill="#e8e8e8"/>
<rect x="1321.4" y="414.0" width="7.7" height="3.8" fill="#e8e8e8"/>
<rect x="1356.9" y="414.0" width="5.8" height="3.8" fill="#e8e8e8"/>
<rect x="1302.2" y="424.5" width="7.7" height="3.8" fill="#e8e8e8"/>
<rect x="1271.5" y="425.5" width="15.3" height="15.3" fill="#5c0000"/>
<path d="M1308.0 446.6 L1309.9 465.8" fill="none" stroke="#5c0000" stroke-width="6.5" stroke-linecap="butt" stroke-linejoin="round"/>
<path d="M1371.3 438.9C1372.3 442.8 1375.1 452.4 1377.1 462.0C1379.0 471.6 1381.2 486.3 1382.8 496.5C1384.4 506.7 1386.0 518.9 1386.6 523.4" fill="none" stroke="#5c0000" stroke-width="4.2" stroke-linecap="butt" stroke-linejoin="round"/>
<rect x="1336.8" y="473.5" width="15.3" height="19.2" fill="#5c0000"/>
<rect x="1309.9" y="481.1" width="7.7" height="7.7" fill="#5c0000"/>
<rect x="1401.0" y="446.6" width="13.4" height="3.8" fill="#5c0000"/>
<g clip-path="url(#hc19)" filter="url(#mot1)">
<path d="M1294.5 559.8L1315.7 557.9L1334.8 563.7L1346.4 534.9L1352.1 544.5L1373.2 542.5L1392.4 546.4L1402.0 563.7L1402.0 577.1L1396.2 586.7L1382.8 592.4L1363.6 590.5L1344.4 588.6L1321.4 582.8L1302.2 580.9Z" fill="#600000"/>
</g>
<g clip-path="url(#hc20)">
<path d="M1342.5 556.0C1344.5 553.1 1356.0 551.9 1359.8 552.1C1363.6 552.4 1372.9 555.4 1375.1 557.9C1377.4 560.4 1379.4 569.9 1379.0 573.2C1378.5 576.6 1374.2 584.9 1371.3 586.7C1368.4 588.5 1357.4 589.7 1354.0 588.6C1350.7 587.5 1343.9 580.9 1342.5 577.1C1341.2 573.3 1340.5 558.9 1342.5 556.0Z" fill="#700000"/>
<ellipse cx="1358.8" cy="570.4" rx="28.8" ry="23.0" fill="url(#gR)"/>
<ellipse cx="1358.8" cy="570.4" rx="16.3" ry="14.4" fill="url(#gO)"/>
<ellipse cx="1358.8" cy="570.4" rx="9.6" ry="8.6" fill="url(#gY)"/>
</g>
<rect x="1324.3" y="565.6" width="9.6" height="11.5" fill="#e8e8e8"/>
<rect x="1312.8" y="563.7" width="5.8" height="7.7" fill="#e8e8e8"/>
<rect x="1379.0" y="551.2" width="7.7" height="5.8" fill="#e8e8e8"/>
<rect x="1315.7" y="577.5" width="11.5" height="3.1" fill="#e8e8e8"/>
<rect x="1346.4" y="587.3" width="11.5" height="2.7" fill="#e8e8e8"/>
<path d="M1309.9 590.5C1310.2 594.7 1314.1 608.4 1311.8 615.5C1309.6 622.5 1300.6 627.1 1296.5 632.7C1292.3 638.3 1288.5 646.3 1286.9 649.0" fill="none" stroke="#5c0000" stroke-width="5.4" stroke-linecap="butt" stroke-linejoin="round"/>
<path d="M1388.6 590.5C1388.9 593.7 1386.2 604.6 1390.5 609.7C1394.8 614.8 1410.5 619.3 1414.5 621.2" fill="none" stroke="#5c0000" stroke-width="5.4" stroke-linecap="butt" stroke-linejoin="round"/>
<rect x="1348.7" y="603.9" width="8.8" height="46.0" fill="#7a0000"/>
<rect x="1344.4" y="527.2" width="5.8" height="11.5" fill="#5c0000"/>
</g>
</g>
<g id="img-ventral-90min" clip-path="url(#cp14)">
<rect x="1440.00" y="351.50" width="150.00" height="298.00" fill="#4c4c4c"/>
<rect x="1440.0" y="348.8" width="150.0" height="29.7" fill="#3b3b3b"/>
<rect x="1448.6" y="350.7" width="8.8" height="26.7" fill="#191919" filter="url(#soft)"/>
<rect x="1452.0" y="353.4" width="2.0" height="25.1" fill="#6e6e6e"/>
<rect x="1451.4" y="376.6" width="3.2" height="2.4" fill="#d0d0d0"/>
<rect x="1487.0" y="350.7" width="8.8" height="26.7" fill="#191919" filter="url(#soft)"/>
<rect x="1490.4" y="353.4" width="2.0" height="25.1" fill="#6e6e6e"/>
<rect x="1489.8" y="376.6" width="3.2" height="2.4" fill="#d0d0d0"/>
<rect x="1573.3" y="350.7" width="8.8" height="26.7" fill="#191919" filter="url(#soft)"/>
<rect x="1576.7" y="353.4" width="2.0" height="25.1" fill="#6e6e6e"/>
<rect x="1576.1" y="376.6" width="3.2" height="2.4" fill="#d0d0d0"/>
<line x1="1440.0" y1="391.0" x2="1590.0" y2="391.0" stroke="#3a3a3a" stroke-width="1.6"/>
<line x1="1440.0" y1="582.8" x2="1590.0" y2="582.8" stroke="#3a3a3a" stroke-width="1.6"/>
<line x1="1440.0" y1="619.3" x2="1590.0" y2="619.3" stroke="#3c3c3c" stroke-width="2.0"/>
<line x1="1568.1" y1="477.3" x2="1568.1" y2="582.8" stroke="#3c3c3c" stroke-width="1.6"/>
<path d="M1440.0 406.3L1449.2 423.6L1464.5 465.8L1440.0 469.6Z" fill="#747474"/>
<path d="M1581.6 462.0L1590.2 458.1L1590.2 490.7L1583.5 486.9Z" fill="#6e6e6e"/>
<path d="M1441.5 396.7C1450.8 390.0 1488.5 390.3 1497.2 394.8C1505.8 399.3 1498.1 416.2 1493.3 423.6C1488.5 430.9 1477.0 437.0 1468.4 438.9C1459.7 440.9 1446.0 442.1 1441.5 435.1C1437.0 428.1 1432.2 403.4 1441.5 396.7Z" fill="#444444"/>
<path d="M1531.7 356.4C1534.9 353.6 1540.3 352.0 1543.2 354.5C1546.1 357.1 1547.0 364.1 1549.0 371.8C1550.9 379.5 1552.8 392.6 1554.7 400.6C1556.6 408.6 1558.9 412.7 1560.5 419.7C1562.1 426.8 1559.0 437.0 1564.3 442.8C1569.6 448.5 1587.5 451.1 1592.1 454.3C1596.8 457.5 1596.5 460.7 1592.1 462.0C1587.8 463.2 1571.2 459.4 1566.2 462.0C1561.3 464.5 1562.7 471.6 1562.4 477.3C1562.1 483.1 1563.4 488.5 1564.3 496.5C1565.3 504.5 1566.9 515.7 1568.1 525.3C1569.4 534.9 1571.0 546.1 1572.0 554.1C1572.9 562.1 1574.2 567.5 1573.9 573.2C1573.6 579.0 1572.3 584.4 1570.1 588.6C1567.8 592.8 1564.6 596.0 1560.5 598.2C1556.3 600.4 1550.2 599.8 1545.1 602.0C1540.0 604.3 1533.9 608.7 1529.8 611.6C1525.6 614.5 1523.4 618.0 1520.2 619.3C1517.0 620.6 1513.5 621.2 1510.6 619.3C1507.7 617.4 1507.4 611.0 1502.9 607.8C1498.4 604.6 1489.5 603.0 1483.7 600.1C1478.0 597.2 1472.2 595.0 1468.4 590.5C1464.5 586.0 1461.0 580.0 1460.7 573.2C1460.4 566.5 1464.2 558.2 1466.5 550.2C1468.7 542.2 1471.3 534.2 1474.1 525.3C1477.0 516.3 1480.5 504.5 1483.7 496.5C1486.9 488.5 1491.4 483.1 1493.3 477.3C1495.2 471.6 1497.8 466.4 1495.2 462.0C1492.7 457.5 1487.4 453.0 1478.0 450.4C1468.5 447.9 1445.2 448.5 1438.6 446.6C1432.1 444.7 1432.7 440.2 1438.6 438.9C1444.6 437.7 1465.0 440.9 1474.1 438.9C1483.2 437.0 1487.9 432.2 1493.3 427.4C1498.8 422.6 1502.9 416.2 1506.7 410.2C1510.6 404.1 1513.5 397.4 1516.3 391.0C1519.2 384.6 1521.5 377.5 1524.0 371.8C1526.6 366.0 1528.5 359.3 1531.7 356.4Z" fill="#303030" stroke="#303030" stroke-width="5" opacity="0.75" filter="url(#soft2)"/>
<path d="M1474.1 594.4C1473.8 597.2 1474.5 607.5 1472.2 611.6C1470.0 615.8 1466.1 617.7 1460.7 619.3C1455.3 620.9 1443.1 620.9 1439.6 621.2" fill="none" stroke="#303030" stroke-width="14.0" stroke-linecap="round" stroke-linejoin="round" opacity="0.6" filter="url(#soft2)"/>
<path d="M1558.6 598.2C1558.2 601.7 1553.8 614.2 1556.6 619.3C1559.5 624.4 1570.1 625.9 1575.8 628.9C1581.5 631.9 1588.3 636.1 1590.8 637.5" fill="none" stroke="#303030" stroke-width="13.1" stroke-linecap="round" stroke-linejoin="round" opacity="0.6" filter="url(#soft2)"/>
<path d="M1515.4 615.5 L1514.4 650.0" fill="none" stroke="#303030" stroke-width="15.0" stroke-linecap="round" stroke-linejoin="round" opacity="0.6" filter="url(#soft2)"/>
<g filter="url(#soft)">
<ellipse class="blobL" cx="1569.1" cy="431.3" rx="7.7" ry="16.3" fill="#d0d0d0"/>
<path d="M1474.1 594.4C1473.8 597.2 1474.5 607.5 1472.2 611.6C1470.0 615.8 1466.1 617.7 1460.7 619.3C1455.3 620.9 1443.1 620.9 1439.6 621.2" fill="none" stroke="#f2f2f2" stroke-width="11.0" stroke-linecap="round" stroke-linejoin="round"/>
<path d="M1558.6 598.2C1558.2 601.7 1553.8 614.2 1556.6 619.3C1559.5 624.4 1570.1 625.9 1575.8 628.9C1581.5 631.9 1588.3 636.1 1590.8 637.5" fill="none" stroke="#f2f2f2" stroke-width="10.1" stroke-linecap="round" stroke-linejoin="round"/>
<path d="M1515.4 615.5 L1514.4 650.0" fill="none" stroke="#f2f2f2" stroke-width="12.0" stroke-linecap="round" stroke-linejoin="round"/>
</g>
<path d="M1531.7 356.4C1534.9 353.6 1540.3 352.0 1543.2 354.5C1546.1 357.1 1547.0 364.1 1549.0 371.8C1550.9 379.5 1552.8 392.6 1554.7 400.6C1556.6 408.6 1558.9 412.7 1560.5 419.7C1562.1 426.8 1559.0 437.0 1564.3 442.8C1569.6 448.5 1587.5 451.1 1592.1 454.3C1596.8 457.5 1596.5 460.7 1592.1 462.0C1587.8 463.2 1571.2 459.4 1566.2 462.0C1561.3 464.5 1562.7 471.6 1562.4 477.3C1562.1 483.1 1563.4 488.5 1564.3 496.5C1565.3 504.5 1566.9 515.7 1568.1 525.3C1569.4 534.9 1571.0 546.1 1572.0 554.1C1572.9 562.1 1574.2 567.5 1573.9 573.2C1573.6 579.0 1572.3 584.4 1570.1 588.6C1567.8 592.8 1564.6 596.0 1560.5 598.2C1556.3 600.4 1550.2 599.8 1545.1 602.0C1540.0 604.3 1533.9 608.7 1529.8 611.6C1525.6 614.5 1523.4 618.0 1520.2 619.3C1517.0 620.6 1513.5 621.2 1510.6 619.3C1507.7 617.4 1507.4 611.0 1502.9 607.8C1498.4 604.6 1489.5 603.0 1483.7 600.1C1478.0 597.2 1472.2 595.0 1468.4 590.5C1464.5 586.0 1461.0 580.0 1460.7 573.2C1460.4 566.5 1464.2 558.2 1466.5 550.2C1468.7 542.2 1471.3 534.2 1474.1 525.3C1477.0 516.3 1480.5 504.5 1483.7 496.5C1486.9 488.5 1491.4 483.1 1493.3 477.3C1495.2 471.6 1497.8 466.4 1495.2 462.0C1492.7 457.5 1487.4 453.0 1478.0 450.4C1468.5 447.9 1445.2 448.5 1438.6 446.6C1432.1 444.7 1432.7 440.2 1438.6 438.9C1444.6 437.7 1465.0 440.9 1474.1 438.9C1483.2 437.0 1487.9 432.2 1493.3 427.4C1498.8 422.6 1502.9 416.2 1506.7 410.2C1510.6 404.1 1513.5 397.4 1516.3 391.0C1519.2 384.6 1521.5 377.5 1524.0 371.8C1526.6 366.0 1528.5 359.3 1531.7 356.4Z" fill="#fff" filter="url(#bodyF)"/>
<g filter="url(#soft)">
<ellipse cx="1524.0" cy="498.4" rx="7.7" ry="11.5" fill="url(#gW)"/>
</g>
<rect x="1440.00" y="351.50" width="150.00" height="298.00" fill="#000" filter="url(#grain)" opacity="0.5"/>
<g filter="url(#hsoft)">
<g clip-path="url(#hc21)" filter="url(#mot1)">
<path d="M1531.7 356.4L1545.1 362.2L1549.0 381.4L1554.7 400.6L1560.5 423.6L1562.4 438.9L1552.8 435.1L1537.4 431.3L1522.1 429.3L1506.7 433.2L1493.3 438.9L1478.0 446.6L1476.0 438.9L1493.3 427.4L1502.9 415.9L1506.7 406.3L1518.3 389.0L1525.9 371.8Z" fill="#a00404"/>
<ellipse cx="1516.3" cy="419.7" rx="23.0" ry="15.3" fill="url(#gR)"/>
<ellipse cx="1549.0" cy="415.9" rx="13.4" ry="23.0" fill="url(#gR)"/>
</g>
<rect x="1529.8" y="373.7" width="9.6" height="15.3" fill="#e8e8e8"/>
<rect x="1522.1" y="397.7" width="15.3" height="5.8" fill="#e8e8e8"/>
<rect x="1533.6" y="358.3" width="7.7" height="7.7" fill="#e8e8e8"/>
<rect x="1537.8" y="396.7" width="3.1" height="15.3" fill="#e8e8e8"/>
<path d="M1478.0 438.9L1516.3 435.1L1518.3 442.8L1502.9 450.4L1493.3 462.0L1479.9 454.3Z" fill="#7a0000"/>
<rect x="1479.9" y="443.7" width="15.3" height="5.8" fill="#e8e8e8"/>
<rect x="1502.9" y="444.7" width="7.7" height="3.8" fill="#e8e8e8"/>
<path d="M1560.5 442.8C1560.5 446.0 1559.8 453.6 1560.5 462.0C1561.1 470.3 1563.7 487.5 1564.3 492.7" fill="none" stroke="#8a0000" stroke-width="6.9" stroke-linecap="butt" stroke-linejoin="round"/>
<ellipse cx="1560.1" cy="475.4" rx="5.8" ry="9.6" fill="url(#gY)"/>
<path d="M1495.2 458.1 L1495.2 477.3" fill="none" stroke="#b00808" stroke-width="5.0" stroke-linecap="butt" stroke-linejoin="round"/>
<rect x="1438.6" y="440.9" width="13.4" height="7.7" fill="#b00808"/>
<rect x="1577.7" y="453.1" width="11.5" height="6.9" fill="#c01010"/>
<rect x="1492.9" y="488.8" width="4.6" height="7.7" fill="#7a0000"/>
<g clip-path="url(#hc22)">
<path d="M1466.5 579.0L1483.7 577.1L1493.3 590.5L1506.7 592.4L1502.9 602.0L1481.8 600.1L1468.4 594.4Z" fill="#9a0404"/>
<ellipse cx="1478.0" cy="590.5" rx="17.3" ry="9.6" fill="url(#gO)"/>
</g>
<path d="M1506.7 592.4L1516.3 579.0L1522.1 573.2L1533.6 571.3L1529.8 592.4L1514.4 594.4Z" fill="#7a0000"/>
<path d="M1531.7 596.3L1549.0 590.5L1564.3 586.7L1570.1 598.2L1556.6 607.8L1541.3 609.7L1533.6 605.9Z" fill="#7a0000"/>
<path d="M1474.1 598.2C1473.7 601.7 1476.7 615.5 1471.3 619.3C1465.8 623.1 1446.5 620.9 1441.5 621.2" fill="none" stroke="#b00c08" stroke-width="5.4" stroke-linecap="butt" stroke-linejoin="round"/>
<path d="M1555.7 609.7C1556.0 611.9 1554.2 619.6 1557.6 623.1C1561.0 626.7 1570.5 628.4 1575.8 630.8C1581.1 633.2 1587.0 636.4 1589.3 637.5" fill="none" stroke="#8a0000" stroke-width="4.2" stroke-linecap="butt" stroke-linejoin="round"/>
<rect x="1510.0" y="616.4" width="8.8" height="32.6" fill="#b00808"/>
<rect x="1512.5" y="638.5" width="5.8" height="11.5" fill="#f0a020"/>
<rect x="1514.8" y="611.6" width="5.0" height="7.7" fill="#f0c020"/>
<rect x="1465.5" y="560.8" width="11.5" height="9.6" fill="#7a0000"/>
<rect x="1518.3" y="551.2" width="7.7" height="17.3" fill="#7a0000"/>
<rect x="1479.9" y="544.5" width="7.7" height="3.8" fill="#7a0000"/>
<rect x="1565.8" y="568.5" width="4.6" height="5.8" fill="#7a0000"/>
<rect x="1556.3" y="555.0" width="2.7" height="5.8" fill="#7a0000"/>
</g>
</g>
<g id="img-ventral-120min" clip-path="url(#cp15)">
<rect x="1610.80" y="351.50" width="150.80" height="298.00" fill="#4c4c4c"/>
<rect x="1610.8" y="348.8" width="150.8" height="29.7" fill="#3b3b3b"/>
<rect x="1643.4" y="350.7" width="8.8" height="26.7" fill="#191919" filter="url(#soft)"/>
<rect x="1646.8" y="353.4" width="2.0" height="25.1" fill="#6e6e6e"/>
<rect x="1646.2" y="376.6" width="3.2" height="2.4" fill="#d0d0d0"/>
<rect x="1730.7" y="350.7" width="8.8" height="26.7" fill="#191919" filter="url(#soft)"/>
<rect x="1734.1" y="353.4" width="2.0" height="25.1" fill="#6e6e6e"/>
<rect x="1733.5" y="376.6" width="3.2" height="2.4" fill="#d0d0d0"/>
<line x1="1610.8" y1="391.0" x2="1761.6" y2="391.0" stroke="#3a3a3a" stroke-width="1.6"/>
<line x1="1610.8" y1="582.8" x2="1761.6" y2="582.8" stroke="#3a3a3a" stroke-width="1.6"/>
<line x1="1610.8" y1="619.3" x2="1761.6" y2="619.3" stroke="#3c3c3c" stroke-width="2.0"/>
<line x1="1737.0" y1="450.4" x2="1737.0" y2="582.8" stroke="#3c3c3c" stroke-width="1.6"/>
<path d="M1612.3 394.8C1621.6 390.0 1659.9 390.6 1667.9 394.8C1675.9 399.0 1666.3 414.3 1660.2 419.7C1654.2 425.2 1639.5 426.8 1631.5 427.4C1623.5 428.1 1615.5 429.0 1612.3 423.6C1609.1 418.2 1603.0 399.6 1612.3 394.8Z" fill="#444444"/>
<path d="M1746.6 396.7L1761.0 400.6L1761.0 417.8L1752.3 419.7Z" fill="#6a6a6a"/>
<path d="M1689.0 356.4C1692.5 352.6 1697.7 352.0 1700.5 354.5C1703.4 357.1 1704.1 364.7 1706.3 371.8C1708.5 378.8 1711.4 389.4 1714.0 396.7C1716.5 404.1 1719.7 410.5 1721.6 415.9C1723.6 421.3 1722.3 427.4 1725.5 429.3C1728.7 431.3 1734.6 429.0 1740.8 427.4C1747.1 425.8 1759.2 419.4 1762.9 419.7C1766.6 420.1 1766.6 425.5 1762.9 429.3C1759.2 433.2 1747.1 438.6 1740.8 442.8C1734.6 446.9 1727.4 448.5 1725.5 454.3C1723.6 460.0 1728.0 468.7 1729.3 477.3C1730.6 485.9 1731.9 496.5 1733.2 506.1C1734.4 515.7 1735.7 525.3 1737.0 534.9C1738.3 544.5 1740.8 555.7 1740.8 563.7C1740.8 571.6 1739.6 578.0 1737.0 582.8C1734.4 587.6 1730.6 589.9 1725.5 592.4C1720.4 595.0 1712.4 596.6 1706.3 598.2C1700.2 599.8 1693.5 599.8 1689.0 602.0C1684.6 604.3 1682.6 610.0 1679.4 611.6C1676.2 613.2 1672.4 613.5 1669.8 611.6C1667.3 609.7 1667.9 603.6 1664.1 600.1C1660.2 596.6 1652.6 593.7 1646.8 590.5C1641.1 587.3 1633.1 585.4 1629.5 580.9C1626.0 576.4 1625.4 569.7 1625.7 563.7C1626.0 557.6 1629.5 552.5 1631.5 544.5C1633.4 536.5 1635.3 525.3 1637.2 515.7C1639.1 506.1 1640.7 495.9 1643.0 486.9C1645.2 478.0 1649.7 468.7 1650.7 462.0C1651.6 455.2 1651.9 450.8 1648.7 446.6C1645.5 442.5 1638.0 439.3 1631.5 437.0C1624.9 434.8 1613.1 435.1 1609.4 433.2C1605.7 431.3 1604.4 426.8 1609.4 425.5C1614.4 424.2 1631.3 427.1 1639.1 425.5C1647.0 423.9 1651.3 420.1 1656.4 415.9C1661.5 411.8 1666.0 407.0 1669.8 400.6C1673.7 394.2 1676.2 384.9 1679.4 377.5C1682.6 370.2 1685.5 360.3 1689.0 356.4Z" fill="#303030" stroke="#303030" stroke-width="5" opacity="0.75" filter="url(#soft2)"/>
<path d="M1637.2 588.6C1636.9 591.8 1639.6 602.7 1635.3 607.8C1631.0 612.9 1615.3 617.4 1611.3 619.3" fill="none" stroke="#303030" stroke-width="14.0" stroke-linecap="round" stroke-linejoin="round" opacity="0.6" filter="url(#soft2)"/>
<path d="M1717.8 596.3C1717.8 599.5 1714.0 607.6 1717.8 615.5C1721.6 623.3 1737.0 638.6 1740.8 643.3" fill="none" stroke="#303030" stroke-width="14.0" stroke-linecap="round" stroke-linejoin="round" opacity="0.6" filter="url(#soft2)"/>
<path d="M1675.6 607.8 L1675.6 650.0" fill="none" stroke="#303030" stroke-width="15.0" stroke-linecap="round" stroke-linejoin="round" opacity="0.6" filter="url(#soft2)"/>
<g filter="url(#soft)">
<ellipse class="blobL" cx="1729.3" cy="419.7" rx="8.6" ry="11.5" fill="#d0d0d0"/>
<path d="M1637.2 588.6C1636.9 591.8 1639.6 602.7 1635.3 607.8C1631.0 612.9 1615.3 617.4 1611.3 619.3" fill="none" stroke="#f2f2f2" stroke-width="11.0" stroke-linecap="round" stroke-linejoin="round"/>
<path d="M1717.8 596.3C1717.8 599.5 1714.0 607.6 1717.8 615.5C1721.6 623.3 1737.0 638.6 1740.8 643.3" fill="none" stroke="#f2f2f2" stroke-width="11.0" stroke-linecap="round" stroke-linejoin="round"/>
<path d="M1675.6 607.8 L1675.6 650.0" fill="none" stroke="#f2f2f2" stroke-width="12.0" stroke-linecap="round" stroke-linejoin="round"/>
</g>
<path d="M1689.0 356.4C1692.5 352.6 1697.7 352.0 1700.5 354.5C1703.4 357.1 1704.1 364.7 1706.3 371.8C1708.5 378.8 1711.4 389.4 1714.0 396.7C1716.5 404.1 1719.7 410.5 1721.6 415.9C1723.6 421.3 1722.3 427.4 1725.5 429.3C1728.7 431.3 1734.6 429.0 1740.8 427.4C1747.1 425.8 1759.2 419.4 1762.9 419.7C1766.6 420.1 1766.6 425.5 1762.9 429.3C1759.2 433.2 1747.1 438.6 1740.8 442.8C1734.6 446.9 1727.4 448.5 1725.5 454.3C1723.6 460.0 1728.0 468.7 1729.3 477.3C1730.6 485.9 1731.9 496.5 1733.2 506.1C1734.4 515.7 1735.7 525.3 1737.0 534.9C1738.3 544.5 1740.8 555.7 1740.8 563.7C1740.8 571.6 1739.6 578.0 1737.0 582.8C1734.4 587.6 1730.6 589.9 1725.5 592.4C1720.4 595.0 1712.4 596.6 1706.3 598.2C1700.2 599.8 1693.5 599.8 1689.0 602.0C1684.6 604.3 1682.6 610.0 1679.4 611.6C1676.2 613.2 1672.4 613.5 1669.8 611.6C1667.3 609.7 1667.9 603.6 1664.1 600.1C1660.2 596.6 1652.6 593.7 1646.8 590.5C1641.1 587.3 1633.1 585.4 1629.5 580.9C1626.0 576.4 1625.4 569.7 1625.7 563.7C1626.0 557.6 1629.5 552.5 1631.5 544.5C1633.4 536.5 1635.3 525.3 1637.2 515.7C1639.1 506.1 1640.7 495.9 1643.0 486.9C1645.2 478.0 1649.7 468.7 1650.7 462.0C1651.6 455.2 1651.9 450.8 1648.7 446.6C1645.5 442.5 1638.0 439.3 1631.5 437.0C1624.9 434.8 1613.1 435.1 1609.4 433.2C1605.7 431.3 1604.4 426.8 1609.4 425.5C1614.4 424.2 1631.3 427.1 1639.1 425.5C1647.0 423.9 1651.3 420.1 1656.4 415.9C1661.5 411.8 1666.0 407.0 1669.8 400.6C1673.7 394.2 1676.2 384.9 1679.4 377.5C1682.6 370.2 1685.5 360.3 1689.0 356.4Z" fill="#fff" filter="url(#bodyF)"/>
<g filter="url(#soft)">
<ellipse cx="1679.4" cy="492.7" rx="7.7" ry="10.6" fill="url(#gW)"/>
</g>
<rect x="1610.80" y="351.50" width="150.80" height="298.00" fill="#000" filter="url(#grain)" opacity="0.5"/>
<g filter="url(#hsoft)">
<g clip-path="url(#hc23)" filter="url(#mot1)">
<path d="M1689.0 358.3L1702.5 360.3L1708.2 381.4L1714.0 400.6L1721.6 417.8L1721.6 429.3L1710.1 437.0L1698.6 438.9L1685.2 429.3L1669.8 423.6L1656.4 419.7L1669.8 404.4L1679.4 381.4Z" fill="#6a0000"/>
<ellipse cx="1712.1" cy="419.7" rx="13.4" ry="15.3" fill="url(#gR)"/>
</g>
<rect x="1682.3" y="374.7" width="13.4" height="9.6" fill="#e8e8e8"/>
<rect x="1694.8" y="392.9" width="3.8" height="9.6" fill="#e8e8e8"/>
<rect x="1694.8" y="361.2" width="3.8" height="5.8" fill="#e8e8e8"/>
<path d="M1641.1 427.4L1656.4 423.6L1671.8 427.4L1669.8 437.0L1656.4 435.1Z" fill="#6a0000"/>
<rect x="1655.5" y="428.8" width="9.6" height="3.1" fill="#e8e8e8"/>
<g clip-path="url(#hc24)">
<path d="M1710.1 452.4L1721.6 448.5L1723.6 465.8L1719.7 477.3L1712.1 475.4Z" fill="#7a0000"/>
<ellipse cx="1717.8" cy="458.1" rx="7.7" ry="9.6" fill="url(#gR)"/>
</g>
<path d="M1721.6 477.3C1722.9 480.5 1728.0 490.1 1729.3 496.5C1730.6 502.9 1729.3 512.5 1729.3 515.7" fill="none" stroke="#5c0000" stroke-width="4.2" stroke-linecap="butt" stroke-linejoin="round"/>
<path d="M1643.0 446.6C1644.3 448.5 1648.7 453.6 1650.7 458.1C1652.6 462.6 1653.9 470.9 1654.5 473.5" fill="none" stroke="#5c0000" stroke-width="3.5" stroke-linecap="butt" stroke-linejoin="round"/>
<rect x="1752.3" y="421.7" width="3.8" height="7.7" fill="#5c0000"/>
<g clip-path="url(#hc25)">
<path d="M1658.3 565.6C1659.0 563.3 1667.2 561.5 1669.8 561.7C1672.5 562.0 1679.8 565.7 1681.4 567.5C1682.9 569.3 1683.9 575.1 1683.3 577.1C1682.6 579.1 1677.8 584.3 1675.6 584.8C1673.4 585.2 1666.1 583.2 1664.1 580.9C1662.1 578.7 1657.7 567.8 1658.3 565.6Z" fill="#7a0000"/>
<ellipse cx="1670.8" cy="572.3" rx="14.4" ry="12.5" fill="url(#gO)"/>
<ellipse cx="1670.8" cy="572.3" rx="8.1" ry="6.5" fill="url(#gY)"/>
</g>
<path d="M1627.6 573.2L1641.1 571.3L1646.8 580.9L1664.1 584.8L1664.1 590.5L1644.9 592.4L1631.5 590.5Z" fill="#620000"/>
<path d="M1694.8 592.4L1717.8 588.6L1729.3 592.4L1723.6 600.1L1706.3 598.2L1698.6 600.1Z" fill="#620000"/>
<path d="M1635.3 590.5C1635.3 593.7 1639.1 604.9 1635.3 609.7C1631.5 614.5 1616.1 617.7 1612.3 619.3" fill="none" stroke="#5c0000" stroke-width="4.2" stroke-linecap="butt" stroke-linejoin="round"/>
<path d="M1715.9 600.1C1716.2 603.0 1714.0 610.3 1717.8 617.4C1721.6 624.4 1735.4 638.2 1738.9 642.3" fill="none" stroke="#5c0000" stroke-width="3.8" stroke-linecap="butt" stroke-linejoin="round"/>
<rect x="1671.2" y="607.8" width="8.8" height="42.2" fill="#700000"/>
<rect x="1727.4" y="507.1" width="5.8" height="9.6" fill="#5c0000"/>
<rect x="1644.9" y="517.2" width="3.1" height="2.7" fill="#5c0000"/>
<rect x="1642.2" y="539.1" width="3.5" height="2.3" fill="#5c0000"/>
<rect x="1674.8" y="541.8" width="3.5" height="2.7" fill="#5c0000"/>
<rect x="1729.5" y="553.7" width="3.5" height="2.7" fill="#5c0000"/>
<rect x="1632.8" y="559.6" width="3.1" height="2.3" fill="#5c0000"/>
</g>
</g>
<g id="chart-whole-dorsal">
<line x1="282.25" y1="737.10" x2="282.25" y2="1097.40" stroke="#000" stroke-width="3.3" stroke-linecap="butt"/>
<line x1="267.50" y1="1095.75" x2="797.00" y2="1095.75" stroke="#000" stroke-width="3.3" stroke-linecap="butt"/>
<line x1="267.50" y1="1095.75" x2="282.25" y2="1095.75" stroke="#000" stroke-width="3.3" stroke-linecap="butt"/>
<line x1="267.50" y1="1024.35" x2="282.25" y2="1024.35" stroke="#000" stroke-width="3.3" stroke-linecap="butt"/>
<line x1="267.50" y1="952.95" x2="282.25" y2="952.95" stroke="#000" stroke-width="3.3" stroke-linecap="butt"/>
<line x1="267.50" y1="881.55" x2="282.25" y2="881.55" stroke="#000" stroke-width="3.3" stroke-linecap="butt"/>
<line x1="267.50" y1="810.15" x2="282.25" y2="810.15" stroke="#000" stroke-width="3.3" stroke-linecap="butt"/>
<line x1="267.50" y1="738.75" x2="282.25" y2="738.75" stroke="#000" stroke-width="3.3" stroke-linecap="butt"/>
<line x1="282.00" y1="1095.75" x2="282.00" y2="1111.00" stroke="#000" stroke-width="3.3" stroke-linecap="butt"/>
<line x1="410.40" y1="1095.75" x2="410.40" y2="1111.00" stroke="#000" stroke-width="3.3" stroke-linecap="butt"/>
<line x1="538.80" y1="1095.75" x2="538.80" y2="1111.00" stroke="#000" stroke-width="3.3" stroke-linecap="butt"/>
<line x1="667.20" y1="1095.75" x2="667.20" y2="1111.00" stroke="#000" stroke-width="3.3" stroke-linecap="butt"/>
<line x1="795.60" y1="1095.75" x2="795.60" y2="1111.00" stroke="#000" stroke-width="3.3" stroke-linecap="butt"/>
<text x="192.59" y="1033.10" font-size="23.5" font-weight="bold" letter-spacing="2.325" fill="#000" >1×10</text>
<text x="253.76" y="1027.10" font-size="18" font-weight="bold" fill="#000">8</text>
<text x="193.18" y="961.70" font-size="23.5" font-weight="bold" letter-spacing="2.129" fill="#000" >2×10</text>
<text x="253.76" y="955.70" font-size="18" font-weight="bold" fill="#000">8</text>
<text x="193.53" y="890.30" font-size="23.5" font-weight="bold" letter-spacing="2.012" fill="#000" >3×10</text>
<text x="253.76" y="884.30" font-size="18" font-weight="bold" fill="#000">8</text>
<text x="193.65" y="818.90" font-size="23.5" font-weight="bold" letter-spacing="1.973" fill="#000" >4×10</text>
<text x="253.76" y="812.90" font-size="18" font-weight="bold" fill="#000">8</text>
<text x="193.29" y="747.50" font-size="23.5" font-weight="bold" letter-spacing="2.090" fill="#000" >5×10</text>
<text x="253.76" y="741.50" font-size="18" font-weight="bold" fill="#000">8</text>
<text x="247.90" y="1103.90" font-size="23.5" font-weight="bold" fill="#000">0</text>
<text x="274.92" y="1140.00" font-size="25.5" font-weight="bold" fill="#000">0</text>
<text x="396.38" y="1140.00" font-size="25.5" font-weight="bold" fill="#000">50</text>
<text x="517.32" y="1140.00" font-size="25.5" font-weight="bold" fill="#000">100</text>
<text x="645.72" y="1140.00" font-size="25.5" font-weight="bold" fill="#000">150</text>
<text x="774.44" y="1140.00" font-size="25.5" font-weight="bold" fill="#000">200</text>
<text transform="translate(394.00 718.75) scale(1.0089 1)" font-size="33" font-weight="bold" fill="#000" >Whole dorsal view</text>
<text transform="translate(467.21 1183.75) scale(1.0255 1)" font-size="28" font-weight="bold" fill="#000" >Time (min)</text>
<text transform="translate(142.50 1084.14) rotate(-90) scale(1.1416 1)" font-size="28" font-weight="normal" fill="#000" stroke="#000" stroke-width="0.45">Total Radiant Efficiency</text>
<text transform="translate(175.00 1019.50) rotate(-90) scale(1.1490 1)" font-size="28" font-weight="normal" fill="#000" stroke="#000" stroke-width="0.45">[p/s] / [µW/cm²]</text>
<polyline points="282.00,1096.00 287.50,1017.00 320.50,906.00 359.50,856.00 397.50,830.50 436.25,841.00 513.75,843.25 590.50,877.00 667.50,900.50 744.50,902.50" fill="none" stroke="#3a3a3a" stroke-width="1.8" stroke-linejoin="round"/>
<line x1="320.50" y1="867.50" x2="320.50" y2="942.50" stroke="#3a3a3a" stroke-width="1.7" stroke-linecap="butt"/>
<line x1="313.70" y1="867.50" x2="327.30" y2="867.50" stroke="#3a3a3a" stroke-width="1.7" stroke-linecap="butt"/>
<line x1="313.70" y1="942.50" x2="327.30" y2="942.50" stroke="#3a3a3a" stroke-width="1.7" stroke-linecap="butt"/>
<line x1="359.50" y1="841.00" x2="359.50" y2="869.00" stroke="#3a3a3a" stroke-width="1.7" stroke-linecap="butt"/>
<line x1="352.70" y1="841.00" x2="366.30" y2="841.00" stroke="#3a3a3a" stroke-width="1.7" stroke-linecap="butt"/>
<line x1="352.70" y1="869.00" x2="366.30" y2="869.00" stroke="#3a3a3a" stroke-width="1.7" stroke-linecap="butt"/>
<line x1="397.50" y1="812.00" x2="397.50" y2="849.25" stroke="#3a3a3a" stroke-width="1.7" stroke-linecap="butt"/>
<line x1="390.70" y1="812.00" x2="404.30" y2="812.00" stroke="#3a3a3a" stroke-width="1.7" stroke-linecap="butt"/>
<line x1="390.70" y1="849.25" x2="404.30" y2="849.25" stroke="#3a3a3a" stroke-width="1.7" stroke-linecap="butt"/>
<line x1="436.25" y1="822.00" x2="436.25" y2="860.25" stroke="#3a3a3a" stroke-width="1.7" stroke-linecap="butt"/>
<line x1="429.45" y1="822.00" x2="443.05" y2="822.00" stroke="#3a3a3a" stroke-width="1.7" stroke-linecap="butt"/>
<line x1="429.45" y1="860.25" x2="443.05" y2="860.25" stroke="#3a3a3a" stroke-width="1.7" stroke-linecap="butt"/>
<line x1="513.75" y1="827.50" x2="513.75" y2="859.25" stroke="#3a3a3a" stroke-width="1.7" stroke-linecap="butt"/>
<line x1="506.95" y1="827.50" x2="520.55" y2="827.50" stroke="#3a3a3a" stroke-width="1.7" stroke-linecap="butt"/>
<line x1="506.95" y1="859.25" x2="520.55" y2="859.25" stroke="#3a3a3a" stroke-width="1.7" stroke-linecap="butt"/>
<line x1="590.50" y1="860.00" x2="590.50" y2="893.75" stroke="#3a3a3a" stroke-width="1.7" stroke-linecap="butt"/>
<line x1="583.70" y1="860.00" x2="597.30" y2="860.00" stroke="#3a3a3a" stroke-width="1.7" stroke-linecap="butt"/>
<line x1="583.70" y1="893.75" x2="597.30" y2="893.75" stroke="#3a3a3a" stroke-width="1.7" stroke-linecap="butt"/>
<line x1="667.50" y1="885.50" x2="667.50" y2="915.75" stroke="#3a3a3a" stroke-width="1.7" stroke-linecap="butt"/>
<line x1="660.70" y1="885.50" x2="674.30" y2="885.50" stroke="#3a3a3a" stroke-width="1.7" stroke-linecap="butt"/>
<line x1="660.70" y1="915.75" x2="674.30" y2="915.75" stroke="#3a3a3a" stroke-width="1.7" stroke-linecap="butt"/>
<line x1="744.50" y1="889.00" x2="744.50" y2="916.00" stroke="#3a3a3a" stroke-width="1.7" stroke-linecap="butt"/>
<line x1="737.70" y1="889.00" x2="751.30" y2="889.00" stroke="#3a3a3a" stroke-width="1.7" stroke-linecap="butt"/>
<line x1="737.70" y1="916.00" x2="751.30" y2="916.00" stroke="#3a3a3a" stroke-width="1.7" stroke-linecap="butt"/>
<circle cx="282.00" cy="1096.00" r="7.2" fill="#000"/>
<circle cx="287.50" cy="1017.00" r="7.2" fill="#000"/>
<circle cx="320.50" cy="906.00" r="7.2" fill="#000"/>
<circle cx="359.50" cy="856.00" r="7.2" fill="#000"/>
<circle cx="397.50" cy="830.50" r="7.2" fill="#000"/>
<circle cx="436.25" cy="841.00" r="7.2" fill="#000"/>
<circle cx="513.75" cy="843.25" r="7.2" fill="#000"/>
<circle cx="590.50" cy="877.00" r="7.2" fill="#000"/>
<circle cx="667.50" cy="900.50" r="7.2" fill="#000"/>
<circle cx="744.50" cy="902.50" r="7.2" fill="#000"/>
</g>
<g id="chart-whole-ventral">
<line x1="269.25" y1="1333.20" x2="269.25" y2="1684.55" stroke="#000" stroke-width="2.6" stroke-linecap="butt"/>
<line x1="255.00" y1="1683.25" x2="773.30" y2="1683.25" stroke="#000" stroke-width="2.6" stroke-linecap="butt"/>
<line x1="255.00" y1="1683.25" x2="269.25" y2="1683.25" stroke="#000" stroke-width="2.6" stroke-linecap="butt"/>
<line x1="255.00" y1="1613.50" x2="269.25" y2="1613.50" stroke="#000" stroke-width="2.6" stroke-linecap="butt"/>
<line x1="255.00" y1="1543.75" x2="269.25" y2="1543.75" stroke="#000" stroke-width="2.6" stroke-linecap="butt"/>
<line x1="255.00" y1="1474.00" x2="269.25" y2="1474.00" stroke="#000" stroke-width="2.6" stroke-linecap="butt"/>
<line x1="255.00" y1="1404.25" x2="269.25" y2="1404.25" stroke="#000" stroke-width="2.6" stroke-linecap="butt"/>
<line x1="255.00" y1="1334.50" x2="269.25" y2="1334.50" stroke="#000" stroke-width="2.6" stroke-linecap="butt"/>
<line x1="269.00" y1="1683.25" x2="269.00" y2="1698.00" stroke="#000" stroke-width="2.6" stroke-linecap="butt"/>
<line x1="394.70" y1="1683.25" x2="394.70" y2="1698.00" stroke="#000" stroke-width="2.6" stroke-linecap="butt"/>
<line x1="520.40" y1="1683.25" x2="520.40" y2="1698.00" stroke="#000" stroke-width="2.6" stroke-linecap="butt"/>
<line x1="646.10" y1="1683.25" x2="646.10" y2="1698.00" stroke="#000" stroke-width="2.6" stroke-linecap="butt"/>
<line x1="771.80" y1="1683.25" x2="771.80" y2="1698.00" stroke="#000" stroke-width="2.6" stroke-linecap="butt"/>
<text x="175.03" y="1622.75" font-size="24.5" font-weight="bold" letter-spacing="2.442" fill="#000" >1×10</text>
<text x="239.64" y="1616.45" font-size="18.5" font-weight="bold" fill="#000">8</text>
<text x="175.64" y="1553.00" font-size="24.5" font-weight="bold" letter-spacing="2.238" fill="#000" >2×10</text>
<text x="239.64" y="1546.70" font-size="18.5" font-weight="bold" fill="#000">8</text>
<text x="176.01" y="1483.25" font-size="24.5" font-weight="bold" letter-spacing="2.115" fill="#000" >3×10</text>
<text x="239.64" y="1476.95" font-size="18.5" font-weight="bold" fill="#000">8</text>
<text x="176.13" y="1413.50" font-size="24.5" font-weight="bold" letter-spacing="2.074" fill="#000" >4×10</text>
<text x="239.64" y="1407.20" font-size="18.5" font-weight="bold" fill="#000">8</text>
<text x="175.76" y="1343.75" font-size="24.5" font-weight="bold" letter-spacing="2.197" fill="#000" >5×10</text>
<text x="239.64" y="1337.45" font-size="18.5" font-weight="bold" fill="#000">8</text>
<text x="234.88" y="1693.00" font-size="24.5" font-weight="bold" fill="#000">0</text>
<text x="261.92" y="1728.00" font-size="25.5" font-weight="bold" fill="#000">0</text>
<text x="380.68" y="1728.00" font-size="25.5" font-weight="bold" fill="#000">50</text>
<text x="498.92" y="1728.00" font-size="25.5" font-weight="bold" fill="#000">100</text>
<text x="624.62" y="1728.00" font-size="25.5" font-weight="bold" fill="#000">150</text>
<text x="750.63" y="1728.00" font-size="25.5" font-weight="bold" fill="#000">200</text>
<text transform="translate(374.50 1314.50) scale(0.9793 1)" font-size="33" font-weight="bold" fill="#000" >Whole ventral view</text>
<text transform="translate(450.72 1772.50) scale(1.0040 1)" font-size="28" font-weight="bold" fill="#000" >Time (min)</text>
<text transform="translate(122.50 1669.13) rotate(-90) scale(1.1209 1)" font-size="28" font-weight="normal" fill="#000" stroke="#000" stroke-width="0.45">Total Radiant Efficiency</text>
<text transform="translate(152.50 1607.69) rotate(-90) scale(1.1193 1)" font-size="28" font-weight="normal" fill="#000" stroke="#000" stroke-width="0.45">[p/s] / [µW/cm²]</text>
<polyline points="269.00,1683.50 274.25,1599.75 306.75,1551.75 344.25,1487.00 382.50,1433.00 420.00,1424.75 495.50,1430.50 571.00,1486.50 646.50,1498.00 721.50,1502.00" fill="none" stroke="#3a3a3a" stroke-width="1.8" stroke-linejoin="round"/>
<line x1="382.50" y1="1423.50" x2="382.50" y2="1442.00" stroke="#3a3a3a" stroke-width="1.7" stroke-linecap="butt"/>
<line x1="376.00" y1="1423.50" x2="389.00" y2="1423.50" stroke="#3a3a3a" stroke-width="1.7" stroke-linecap="butt"/>
<line x1="376.00" y1="1442.00" x2="389.00" y2="1442.00" stroke="#3a3a3a" stroke-width="1.7" stroke-linecap="butt"/>
<line x1="420.00" y1="1409.00" x2="420.00" y2="1439.50" stroke="#3a3a3a" stroke-width="1.7" stroke-linecap="butt"/>
<line x1="413.50" y1="1409.00" x2="426.50" y2="1409.00" stroke="#3a3a3a" stroke-width="1.7" stroke-linecap="butt"/>
<line x1="413.50" y1="1439.50" x2="426.50" y2="1439.50" stroke="#3a3a3a" stroke-width="1.7" stroke-linecap="butt"/>
<line x1="495.50" y1="1415.50" x2="495.50" y2="1445.00" stroke="#3a3a3a" stroke-width="1.7" stroke-linecap="butt"/>
<line x1="489.00" y1="1415.50" x2="502.00" y2="1415.50" stroke="#3a3a3a" stroke-width="1.7" stroke-linecap="butt"/>
<line x1="489.00" y1="1445.00" x2="502.00" y2="1445.00" stroke="#3a3a3a" stroke-width="1.7" stroke-linecap="butt"/>
<line x1="571.00" y1="1473.50" x2="571.00" y2="1499.50" stroke="#3a3a3a" stroke-width="1.7" stroke-linecap="butt"/>
<line x1="564.50" y1="1473.50" x2="577.50" y2="1473.50" stroke="#3a3a3a" stroke-width="1.7" stroke-linecap="butt"/>
<line x1="564.50" y1="1499.50" x2="577.50" y2="1499.50" stroke="#3a3a3a" stroke-width="1.7" stroke-linecap="butt"/>
<line x1="646.50" y1="1487.00" x2="646.50" y2="1508.00" stroke="#3a3a3a" stroke-width="1.7" stroke-linecap="butt"/>
<line x1="640.00" y1="1487.00" x2="653.00" y2="1487.00" stroke="#3a3a3a" stroke-width="1.7" stroke-linecap="butt"/>
<line x1="640.00" y1="1508.00" x2="653.00" y2="1508.00" stroke="#3a3a3a" stroke-width="1.7" stroke-linecap="butt"/>
<line x1="721.50" y1="1491.00" x2="721.50" y2="1512.50" stroke="#3a3a3a" stroke-width="1.7" stroke-linecap="butt"/>
<line x1="715.00" y1="1491.00" x2="728.00" y2="1491.00" stroke="#3a3a3a" stroke-width="1.7" stroke-linecap="butt"/>
<line x1="715.00" y1="1512.50" x2="728.00" y2="1512.50" stroke="#3a3a3a" stroke-width="1.7" stroke-linecap="butt"/>
<circle cx="269.00" cy="1683.50" r="7.0" fill="#000"/>
<circle cx="274.25" cy="1599.75" r="7.0" fill="#000"/>
<circle cx="306.75" cy="1551.75" r="7.0" fill="#000"/>
<circle cx="344.25" cy="1487.00" r="7.0" fill="#000"/>
<circle cx="382.50" cy="1433.00" r="7.0" fill="#000"/>
<circle cx="420.00" cy="1424.75" r="7.0" fill="#000"/>
<circle cx="495.50" cy="1430.50" r="7.0" fill="#000"/>
<circle cx="571.00" cy="1486.50" r="7.0" fill="#000"/>
<circle cx="646.50" cy="1498.00" r="7.0" fill="#000"/>
<circle cx="721.50" cy="1502.00" r="7.0" fill="#000"/>
</g>
<g id="chart-anatomical-dorsal">
<line x1="1216.92" y1="1058.43" x2="1216.92" y2="1060.69" stroke="#e0101c" stroke-width="1.5" stroke-linecap="butt"/>
<line x1="1213.62" y1="1058.43" x2="1220.22" y2="1058.43" stroke="#e0101c" stroke-width="1.6" stroke-linecap="butt"/>
<line x1="1313.14" y1="1054.20" x2="1313.14" y2="1060.69" stroke="#e0101c" stroke-width="1.5" stroke-linecap="butt"/>
<line x1="1309.84" y1="1054.20" x2="1316.44" y2="1054.20" stroke="#e0101c" stroke-width="1.6" stroke-linecap="butt"/>
<line x1="1409.64" y1="1069.72" x2="1409.64" y2="1075.36" stroke="#e0101c" stroke-width="1.5" stroke-linecap="butt"/>
<line x1="1406.34" y1="1069.72" x2="1412.94" y2="1069.72" stroke="#e0101c" stroke-width="1.6" stroke-linecap="butt"/>
<line x1="1458.17" y1="1070.00" x2="1458.17" y2="1071.69" stroke="#e0101c" stroke-width="1.5" stroke-linecap="butt"/>
<line x1="1454.87" y1="1070.00" x2="1461.47" y2="1070.00" stroke="#e0101c" stroke-width="1.6" stroke-linecap="butt"/>
<line x1="1506.42" y1="1071.13" x2="1506.42" y2="1074.80" stroke="#e0101c" stroke-width="1.5" stroke-linecap="butt"/>
<line x1="1503.12" y1="1071.13" x2="1509.72" y2="1071.13" stroke="#e0101c" stroke-width="1.6" stroke-linecap="butt"/>
<line x1="1120.70" y1="1100.19" x2="1120.70" y2="1103.01" stroke="#3f8a1f" stroke-width="1.5" stroke-linecap="butt"/>
<line x1="1117.40" y1="1100.19" x2="1124.00" y2="1100.19" stroke="#3f8a1f" stroke-width="1.6" stroke-linecap="butt"/>
<line x1="1168.67" y1="1057.87" x2="1168.67" y2="1068.31" stroke="#3f8a1f" stroke-width="1.5" stroke-linecap="butt"/>
<line x1="1165.37" y1="1057.87" x2="1171.97" y2="1057.87" stroke="#3f8a1f" stroke-width="1.6" stroke-linecap="butt"/>
<line x1="1216.92" y1="1036.42" x2="1216.92" y2="1042.91" stroke="#3f8a1f" stroke-width="1.5" stroke-linecap="butt"/>
<line x1="1213.62" y1="1036.42" x2="1220.22" y2="1036.42" stroke="#3f8a1f" stroke-width="1.6" stroke-linecap="butt"/>
<line x1="1264.89" y1="1033.04" x2="1264.89" y2="1037.83" stroke="#3f8a1f" stroke-width="1.5" stroke-linecap="butt"/>
<line x1="1261.59" y1="1033.04" x2="1268.19" y2="1033.04" stroke="#3f8a1f" stroke-width="1.6" stroke-linecap="butt"/>
<line x1="1313.14" y1="1022.60" x2="1313.14" y2="1028.24" stroke="#3f8a1f" stroke-width="1.5" stroke-linecap="butt"/>
<line x1="1309.84" y1="1022.60" x2="1316.44" y2="1022.60" stroke="#3f8a1f" stroke-width="1.6" stroke-linecap="butt"/>
<line x1="1361.67" y1="1059.00" x2="1361.67" y2="1061.82" stroke="#3f8a1f" stroke-width="1.5" stroke-linecap="butt"/>
<line x1="1358.37" y1="1059.00" x2="1364.97" y2="1059.00" stroke="#3f8a1f" stroke-width="1.6" stroke-linecap="butt"/>
<line x1="1409.64" y1="1065.49" x2="1409.64" y2="1071.13" stroke="#3f8a1f" stroke-width="1.5" stroke-linecap="butt"/>
<line x1="1406.34" y1="1065.49" x2="1412.94" y2="1065.49" stroke="#3f8a1f" stroke-width="1.6" stroke-linecap="butt"/>
<line x1="1458.17" y1="1076.21" x2="1458.17" y2="1082.42" stroke="#3f8a1f" stroke-width="1.5" stroke-linecap="butt"/>
<line x1="1454.87" y1="1076.21" x2="1461.47" y2="1076.21" stroke="#3f8a1f" stroke-width="1.6" stroke-linecap="butt"/>
<line x1="1506.42" y1="1069.15" x2="1506.42" y2="1074.80" stroke="#3f8a1f" stroke-width="1.5" stroke-linecap="butt"/>
<line x1="1503.12" y1="1069.15" x2="1509.72" y2="1069.15" stroke="#3f8a1f" stroke-width="1.6" stroke-linecap="butt"/>
<line x1="1120.70" y1="1075.36" x2="1120.70" y2="1082.98" stroke="#000000" stroke-width="1.5" stroke-linecap="butt"/>
<line x1="1117.40" y1="1075.36" x2="1124.00" y2="1075.36" stroke="#000000" stroke-width="1.6" stroke-linecap="butt"/>
<line x1="1168.67" y1="1012.44" x2="1168.67" y2="1020.34" stroke="#000000" stroke-width="1.5" stroke-linecap="butt"/>
<line x1="1165.37" y1="1012.44" x2="1171.97" y2="1012.44" stroke="#000000" stroke-width="1.6" stroke-linecap="butt"/>
<line x1="1216.92" y1="978.01" x2="1216.92" y2="982.81" stroke="#000000" stroke-width="1.5" stroke-linecap="butt"/>
<line x1="1213.62" y1="978.01" x2="1220.22" y2="978.01" stroke="#000000" stroke-width="1.6" stroke-linecap="butt"/>
<line x1="1264.89" y1="974.63" x2="1264.89" y2="985.63" stroke="#000000" stroke-width="1.5" stroke-linecap="butt"/>
<line x1="1261.59" y1="974.63" x2="1268.19" y2="974.63" stroke="#000000" stroke-width="1.6" stroke-linecap="butt"/>
<line x1="1313.14" y1="975.47" x2="1313.14" y2="983.94" stroke="#000000" stroke-width="1.5" stroke-linecap="butt"/>
<line x1="1309.84" y1="975.47" x2="1316.44" y2="975.47" stroke="#000000" stroke-width="1.6" stroke-linecap="butt"/>
<line x1="1361.67" y1="959.67" x2="1361.67" y2="986.76" stroke="#000000" stroke-width="1.5" stroke-linecap="butt"/>
<line x1="1358.37" y1="959.67" x2="1364.97" y2="959.67" stroke="#000000" stroke-width="1.6" stroke-linecap="butt"/>
<line x1="1409.64" y1="987.04" x2="1409.64" y2="1009.05" stroke="#000000" stroke-width="1.5" stroke-linecap="butt"/>
<line x1="1406.34" y1="987.04" x2="1412.94" y2="987.04" stroke="#000000" stroke-width="1.6" stroke-linecap="butt"/>
<line x1="1458.17" y1="969.55" x2="1458.17" y2="991.28" stroke="#000000" stroke-width="1.5" stroke-linecap="butt"/>
<line x1="1454.87" y1="969.55" x2="1461.47" y2="969.55" stroke="#000000" stroke-width="1.6" stroke-linecap="butt"/>
<line x1="1506.42" y1="988.17" x2="1506.42" y2="999.74" stroke="#000000" stroke-width="1.5" stroke-linecap="butt"/>
<line x1="1503.12" y1="988.17" x2="1509.72" y2="988.17" stroke="#000000" stroke-width="1.6" stroke-linecap="butt"/>
<line x1="1120.70" y1="840.60" x2="1120.70" y2="915.09" stroke="#1414ff" stroke-width="1.5" stroke-linecap="butt"/>
<line x1="1117.40" y1="840.60" x2="1124.00" y2="840.60" stroke="#1414ff" stroke-width="1.6" stroke-linecap="butt"/>
<line x1="1168.67" y1="889.41" x2="1168.67" y2="918.76" stroke="#1414ff" stroke-width="1.5" stroke-linecap="butt"/>
<line x1="1165.37" y1="889.41" x2="1171.97" y2="889.41" stroke="#1414ff" stroke-width="1.6" stroke-linecap="butt"/>
<line x1="1216.92" y1="904.09" x2="1216.92" y2="935.69" stroke="#1414ff" stroke-width="1.5" stroke-linecap="butt"/>
<line x1="1213.62" y1="904.09" x2="1220.22" y2="904.09" stroke="#1414ff" stroke-width="1.6" stroke-linecap="butt"/>
<line x1="1264.89" y1="928.63" x2="1264.89" y2="958.26" stroke="#1414ff" stroke-width="1.5" stroke-linecap="butt"/>
<line x1="1261.59" y1="928.63" x2="1268.19" y2="928.63" stroke="#1414ff" stroke-width="1.6" stroke-linecap="butt"/>
<line x1="1313.14" y1="957.70" x2="1313.14" y2="980.27" stroke="#1414ff" stroke-width="1.5" stroke-linecap="butt"/>
<line x1="1309.84" y1="957.70" x2="1316.44" y2="957.70" stroke="#1414ff" stroke-width="1.6" stroke-linecap="butt"/>
<line x1="1361.67" y1="1008.21" x2="1361.67" y2="1019.49" stroke="#1414ff" stroke-width="1.5" stroke-linecap="butt"/>
<line x1="1358.37" y1="1008.21" x2="1364.97" y2="1008.21" stroke="#1414ff" stroke-width="1.6" stroke-linecap="butt"/>
<line x1="1409.64" y1="1021.75" x2="1409.64" y2="1033.88" stroke="#1414ff" stroke-width="1.5" stroke-linecap="butt"/>
<line x1="1406.34" y1="1021.75" x2="1412.94" y2="1021.75" stroke="#1414ff" stroke-width="1.6" stroke-linecap="butt"/>
<line x1="1458.17" y1="1046.58" x2="1458.17" y2="1051.38" stroke="#1414ff" stroke-width="1.5" stroke-linecap="butt"/>
<line x1="1454.87" y1="1046.58" x2="1461.47" y2="1046.58" stroke="#1414ff" stroke-width="1.6" stroke-linecap="butt"/>
<line x1="1506.42" y1="1038.96" x2="1506.42" y2="1042.91" stroke="#1414ff" stroke-width="1.5" stroke-linecap="butt"/>
<line x1="1503.12" y1="1038.96" x2="1509.72" y2="1038.96" stroke="#1414ff" stroke-width="1.6" stroke-linecap="butt"/>
<polyline points="1072.45,1117.12 1120.70,1102.17 1168.67,1074.80 1216.92,1060.69 1264.89,1064.36 1313.14,1060.69 1361.67,1065.49 1409.64,1075.36 1458.17,1071.69 1506.42,1074.80" fill="none" stroke="#e0101c" stroke-width="3.2" stroke-linejoin="miter"/>
<polyline points="1072.45,1117.12 1120.70,1103.01 1168.67,1068.31 1216.92,1042.91 1264.89,1037.83 1313.14,1028.24 1361.67,1061.82 1409.64,1071.13 1458.17,1082.42 1506.42,1074.80" fill="none" stroke="#3f8a1f" stroke-width="3.2" stroke-linejoin="miter"/>
<polyline points="1072.45,1117.12 1120.70,1082.98 1168.67,1020.34 1216.92,982.81 1264.89,985.63 1313.14,983.94 1361.67,986.76 1409.64,1009.05 1458.17,991.28 1506.42,999.74" fill="none" stroke="#000000" stroke-width="3.2" stroke-linejoin="miter"/>
<polyline points="1072.45,1117.12 1120.70,915.09 1168.67,918.76 1216.92,935.69 1264.89,958.26 1313.14,980.27 1361.67,1019.49 1409.64,1033.88 1458.17,1051.38 1506.42,1042.91" fill="none" stroke="#1414ff" stroke-width="3.2" stroke-linejoin="miter"/>
<line x1="1040.75" y1="769.55" x2="1040.75" y2="1118.65" stroke="#000" stroke-width="3.3" stroke-linecap="butt"/>
<line x1="1026.25" y1="1117.00" x2="1540.50" y2="1117.00" stroke="#000" stroke-width="3.3" stroke-linecap="butt"/>
<line x1="1026.25" y1="1117.00" x2="1040.75" y2="1117.00" stroke="#000" stroke-width="3.3" stroke-linecap="butt"/>
<line x1="1026.25" y1="1030.55" x2="1040.75" y2="1030.55" stroke="#000" stroke-width="3.3" stroke-linecap="butt"/>
<line x1="1026.25" y1="944.10" x2="1040.75" y2="944.10" stroke="#000" stroke-width="3.3" stroke-linecap="butt"/>
<line x1="1026.25" y1="857.65" x2="1040.75" y2="857.65" stroke="#000" stroke-width="3.3" stroke-linecap="butt"/>
<line x1="1026.25" y1="771.20" x2="1040.75" y2="771.20" stroke="#000" stroke-width="3.3" stroke-linecap="butt"/>
<line x1="1072.45" y1="1117.00" x2="1072.45" y2="1131.40" stroke="#000" stroke-width="3.3" stroke-linecap="butt"/>
<line x1="1120.70" y1="1117.00" x2="1120.70" y2="1131.40" stroke="#000" stroke-width="3.3" stroke-linecap="butt"/>
<line x1="1168.67" y1="1117.00" x2="1168.67" y2="1131.40" stroke="#000" stroke-width="3.3" stroke-linecap="butt"/>
<line x1="1216.92" y1="1117.00" x2="1216.92" y2="1131.40" stroke="#000" stroke-width="3.3" stroke-linecap="butt"/>
<line x1="1264.89" y1="1117.00" x2="1264.89" y2="1131.40" stroke="#000" stroke-width="3.3" stroke-linecap="butt"/>
<line x1="1313.14" y1="1117.00" x2="1313.14" y2="1131.40" stroke="#000" stroke-width="3.3" stroke-linecap="butt"/>
<line x1="1361.67" y1="1117.00" x2="1361.67" y2="1131.40" stroke="#000" stroke-width="3.3" stroke-linecap="butt"/>
<line x1="1409.64" y1="1117.00" x2="1409.64" y2="1131.40" stroke="#000" stroke-width="3.3" stroke-linecap="butt"/>
<line x1="1458.17" y1="1117.00" x2="1458.17" y2="1131.40" stroke="#000" stroke-width="3.3" stroke-linecap="butt"/>
<line x1="1506.42" y1="1117.00" x2="1506.42" y2="1131.40" stroke="#000" stroke-width="3.3" stroke-linecap="butt"/>
<text x="954.43" y="1040.35" font-size="23.5" font-weight="bold" letter-spacing="0.879" fill="#000" >2×10</text>
<text x="1011.66" y="1034.35" font-size="18" font-weight="bold" fill="#000">8</text>
<text x="954.90" y="953.90" font-size="23.5" font-weight="bold" letter-spacing="0.723" fill="#000" >4×10</text>
<text x="1011.66" y="947.90" font-size="18" font-weight="bold" fill="#000">8</text>
<text x="954.43" y="867.45" font-size="23.5" font-weight="bold" letter-spacing="0.879" fill="#000" >6×10</text>
<text x="1011.66" y="861.45" font-size="18" font-weight="bold" fill="#000">8</text>
<text x="954.54" y="781.00" font-size="23.5" font-weight="bold" letter-spacing="0.840" fill="#000" >8×10</text>
<text x="1011.66" y="775.00" font-size="18" font-weight="bold" fill="#000">8</text>
<text x="1007.90" y="1126.25" font-size="23.5" font-weight="bold" fill="#000">0</text>
<text x="1065.71" y="1158.40" font-size="24.3" font-weight="bold" fill="#000">0</text>
<text x="1110.56" y="1158.40" font-size="24.3" font-weight="bold" fill="#000">2</text>
<text x="1154.76" y="1158.40" font-size="24.3" font-weight="bold" fill="#000">15</text>
<text x="1203.68" y="1158.40" font-size="24.3" font-weight="bold" fill="#000">30</text>
<text x="1251.52" y="1158.40" font-size="24.3" font-weight="bold" fill="#000">45</text>
<text x="1299.71" y="1158.40" font-size="24.3" font-weight="bold" fill="#000">60</text>
<text x="1348.24" y="1158.40" font-size="24.3" font-weight="bold" fill="#000">90</text>
<text x="1389.17" y="1158.40" font-size="24.3" font-weight="bold" fill="#000">120</text>
<text x="1437.70" y="1158.40" font-size="24.3" font-weight="bold" fill="#000">150</text>
<text x="1485.95" y="1158.40" font-size="24.3" font-weight="bold" fill="#000">180</text>
<text transform="translate(1086.69 751.60) scale(1.0079 1)" font-size="32" font-weight="bold" fill="#000" >Anatomical dorsal regions</text>
<text transform="translate(1220.52 1203.30) scale(1.0091 1)" font-size="27.5" font-weight="bold" fill="#000" >Time (min)</text>
<text transform="translate(901.25 1104.12) rotate(-90) scale(1.1071 1)" font-size="28" font-weight="normal" fill="#000" stroke="#000" stroke-width="0.45">Total Radiant Efficiency</text>
<text transform="translate(935.00 1043.16) rotate(-90) scale(1.1031 1)" font-size="28" font-weight="normal" fill="#000" stroke="#000" stroke-width="0.45">[p/s] / [µW/cm²]</text>
<line x1="1544.70" y1="872.80" x2="1579.70" y2="872.80" stroke="#e0101c" stroke-width="3.2" stroke-linecap="butt"/>
<text x="1597.77" y="881.90" font-size="27.9" font-weight="normal" fill="#000">Head-Neck</text>
<line x1="1544.70" y1="905.60" x2="1579.70" y2="905.60" stroke="#3f8a1f" stroke-width="3.2" stroke-linecap="butt"/>
<text x="1598.61" y="914.20" font-size="27.9" font-weight="normal" fill="#000">Chest</text>
<line x1="1544.70" y1="943.30" x2="1579.70" y2="943.30" stroke="#1414ff" stroke-width="3.2" stroke-linecap="butt"/>
<text x="1600.00" y="951.90" font-size="27.9" font-weight="normal" fill="#000">Abdomen</text>
<line x1="1544.70" y1="978.50" x2="1579.70" y2="978.50" stroke="#000000" stroke-width="3.2" stroke-linecap="butt"/>
<text x="1598.61" y="986.80" font-size="27.9" font-weight="normal" fill="#000">Genitourinary</text>
</g>
<g id="chart-anatomical-ventral">
<line x1="1106.55" y1="1657.93" x2="1106.55" y2="1663.01" stroke="#3f8a1f" stroke-width="1.5" stroke-linecap="butt"/>
<line x1="1103.25" y1="1657.93" x2="1109.85" y2="1657.93" stroke="#3f8a1f" stroke-width="1.6" stroke-linecap="butt"/>
<line x1="1155.64" y1="1632.54" x2="1155.64" y2="1635.36" stroke="#3f8a1f" stroke-width="1.5" stroke-linecap="butt"/>
<line x1="1152.34" y1="1632.54" x2="1158.94" y2="1632.54" stroke="#3f8a1f" stroke-width="1.6" stroke-linecap="butt"/>
<line x1="1205.02" y1="1585.42" x2="1205.02" y2="1591.63" stroke="#3f8a1f" stroke-width="1.5" stroke-linecap="butt"/>
<line x1="1201.72" y1="1585.42" x2="1208.32" y2="1585.42" stroke="#3f8a1f" stroke-width="1.6" stroke-linecap="butt"/>
<line x1="1254.40" y1="1568.21" x2="1254.40" y2="1580.90" stroke="#3f8a1f" stroke-width="1.5" stroke-linecap="butt"/>
<line x1="1251.10" y1="1568.21" x2="1257.70" y2="1568.21" stroke="#3f8a1f" stroke-width="1.6" stroke-linecap="butt"/>
<line x1="1303.78" y1="1581.75" x2="1303.78" y2="1597.27" stroke="#3f8a1f" stroke-width="1.5" stroke-linecap="butt"/>
<line x1="1300.48" y1="1581.75" x2="1307.08" y2="1581.75" stroke="#3f8a1f" stroke-width="1.6" stroke-linecap="butt"/>
<line x1="1352.88" y1="1610.81" x2="1352.88" y2="1622.10" stroke="#3f8a1f" stroke-width="1.5" stroke-linecap="butt"/>
<line x1="1349.58" y1="1610.81" x2="1356.18" y2="1610.81" stroke="#3f8a1f" stroke-width="1.6" stroke-linecap="butt"/>
<line x1="1402.26" y1="1622.10" x2="1402.26" y2="1632.54" stroke="#3f8a1f" stroke-width="1.5" stroke-linecap="butt"/>
<line x1="1398.96" y1="1622.10" x2="1405.56" y2="1622.10" stroke="#3f8a1f" stroke-width="1.6" stroke-linecap="butt"/>
<line x1="1451.64" y1="1637.62" x2="1451.64" y2="1645.24" stroke="#3f8a1f" stroke-width="1.5" stroke-linecap="butt"/>
<line x1="1448.34" y1="1637.62" x2="1454.94" y2="1637.62" stroke="#3f8a1f" stroke-width="1.6" stroke-linecap="butt"/>
<line x1="1501.30" y1="1626.05" x2="1501.30" y2="1631.13" stroke="#3f8a1f" stroke-width="1.5" stroke-linecap="butt"/>
<line x1="1498.00" y1="1626.05" x2="1504.60" y2="1626.05" stroke="#3f8a1f" stroke-width="1.6" stroke-linecap="butt"/>
<line x1="1106.55" y1="1650.32" x2="1106.55" y2="1653.14" stroke="#e0101c" stroke-width="1.5" stroke-linecap="butt"/>
<line x1="1103.25" y1="1650.32" x2="1109.85" y2="1650.32" stroke="#e0101c" stroke-width="1.6" stroke-linecap="butt"/>
<line x1="1155.64" y1="1610.81" x2="1155.64" y2="1611.94" stroke="#e0101c" stroke-width="1.5" stroke-linecap="butt"/>
<line x1="1152.34" y1="1610.81" x2="1158.94" y2="1610.81" stroke="#e0101c" stroke-width="1.6" stroke-linecap="butt"/>
<line x1="1205.02" y1="1585.42" x2="1205.02" y2="1590.21" stroke="#e0101c" stroke-width="1.5" stroke-linecap="butt"/>
<line x1="1201.72" y1="1585.42" x2="1208.32" y2="1585.42" stroke="#e0101c" stroke-width="1.6" stroke-linecap="butt"/>
<line x1="1254.40" y1="1600.09" x2="1254.40" y2="1604.32" stroke="#e0101c" stroke-width="1.5" stroke-linecap="butt"/>
<line x1="1251.10" y1="1600.09" x2="1257.70" y2="1600.09" stroke="#e0101c" stroke-width="1.6" stroke-linecap="butt"/>
<line x1="1303.78" y1="1580.90" x2="1303.78" y2="1584.57" stroke="#e0101c" stroke-width="1.5" stroke-linecap="butt"/>
<line x1="1300.48" y1="1580.90" x2="1307.08" y2="1580.90" stroke="#e0101c" stroke-width="1.6" stroke-linecap="butt"/>
<line x1="1352.88" y1="1600.09" x2="1352.88" y2="1603.76" stroke="#e0101c" stroke-width="1.5" stroke-linecap="butt"/>
<line x1="1349.58" y1="1600.09" x2="1356.18" y2="1600.09" stroke="#e0101c" stroke-width="1.6" stroke-linecap="butt"/>
<line x1="1402.26" y1="1621.82" x2="1402.26" y2="1625.49" stroke="#e0101c" stroke-width="1.5" stroke-linecap="butt"/>
<line x1="1398.96" y1="1621.82" x2="1405.56" y2="1621.82" stroke="#e0101c" stroke-width="1.6" stroke-linecap="butt"/>
<line x1="1451.64" y1="1624.07" x2="1451.64" y2="1628.87" stroke="#e0101c" stroke-width="1.5" stroke-linecap="butt"/>
<line x1="1448.34" y1="1624.07" x2="1454.94" y2="1624.07" stroke="#e0101c" stroke-width="1.6" stroke-linecap="butt"/>
<line x1="1501.30" y1="1622.10" x2="1501.30" y2="1626.33" stroke="#e0101c" stroke-width="1.5" stroke-linecap="butt"/>
<line x1="1498.00" y1="1622.10" x2="1504.60" y2="1622.10" stroke="#e0101c" stroke-width="1.6" stroke-linecap="butt"/>
<line x1="1106.55" y1="1637.62" x2="1106.55" y2="1639.03" stroke="#1414ff" stroke-width="1.5" stroke-linecap="butt"/>
<line x1="1103.25" y1="1637.62" x2="1109.85" y2="1637.62" stroke="#1414ff" stroke-width="1.6" stroke-linecap="butt"/>
<line x1="1155.64" y1="1589.37" x2="1155.64" y2="1596.70" stroke="#1414ff" stroke-width="1.5" stroke-linecap="butt"/>
<line x1="1152.34" y1="1589.37" x2="1158.94" y2="1589.37" stroke="#1414ff" stroke-width="1.6" stroke-linecap="butt"/>
<line x1="1205.02" y1="1550.43" x2="1205.02" y2="1552.97" stroke="#1414ff" stroke-width="1.5" stroke-linecap="butt"/>
<line x1="1201.72" y1="1550.43" x2="1208.32" y2="1550.43" stroke="#1414ff" stroke-width="1.6" stroke-linecap="butt"/>
<line x1="1254.40" y1="1544.22" x2="1254.40" y2="1552.12" stroke="#1414ff" stroke-width="1.5" stroke-linecap="butt"/>
<line x1="1251.10" y1="1544.22" x2="1257.70" y2="1544.22" stroke="#1414ff" stroke-width="1.6" stroke-linecap="butt"/>
<line x1="1303.78" y1="1561.15" x2="1303.78" y2="1569.05" stroke="#1414ff" stroke-width="1.5" stroke-linecap="butt"/>
<line x1="1300.48" y1="1561.15" x2="1307.08" y2="1561.15" stroke="#1414ff" stroke-width="1.6" stroke-linecap="butt"/>
<line x1="1352.88" y1="1571.31" x2="1352.88" y2="1590.21" stroke="#1414ff" stroke-width="1.5" stroke-linecap="butt"/>
<line x1="1349.58" y1="1571.31" x2="1356.18" y2="1571.31" stroke="#1414ff" stroke-width="1.6" stroke-linecap="butt"/>
<line x1="1402.26" y1="1590.50" x2="1402.26" y2="1600.94" stroke="#1414ff" stroke-width="1.5" stroke-linecap="butt"/>
<line x1="1398.96" y1="1590.50" x2="1405.56" y2="1590.50" stroke="#1414ff" stroke-width="1.6" stroke-linecap="butt"/>
<line x1="1451.64" y1="1592.19" x2="1451.64" y2="1605.73" stroke="#1414ff" stroke-width="1.5" stroke-linecap="butt"/>
<line x1="1448.34" y1="1592.19" x2="1454.94" y2="1592.19" stroke="#1414ff" stroke-width="1.6" stroke-linecap="butt"/>
<line x1="1501.30" y1="1589.37" x2="1501.30" y2="1600.94" stroke="#1414ff" stroke-width="1.5" stroke-linecap="butt"/>
<line x1="1498.00" y1="1589.37" x2="1504.60" y2="1589.37" stroke="#1414ff" stroke-width="1.6" stroke-linecap="butt"/>
<line x1="1106.55" y1="1613.63" x2="1106.55" y2="1619.84" stroke="#000000" stroke-width="1.5" stroke-linecap="butt"/>
<line x1="1103.25" y1="1613.63" x2="1109.85" y2="1613.63" stroke="#000000" stroke-width="1.6" stroke-linecap="butt"/>
<line x1="1155.64" y1="1510.64" x2="1155.64" y2="1512.62" stroke="#000000" stroke-width="1.5" stroke-linecap="butt"/>
<line x1="1152.34" y1="1510.64" x2="1158.94" y2="1510.64" stroke="#000000" stroke-width="1.6" stroke-linecap="butt"/>
<line x1="1205.02" y1="1432.77" x2="1205.02" y2="1441.51" stroke="#000000" stroke-width="1.5" stroke-linecap="butt"/>
<line x1="1201.72" y1="1432.77" x2="1208.32" y2="1432.77" stroke="#000000" stroke-width="1.6" stroke-linecap="butt"/>
<line x1="1254.40" y1="1385.64" x2="1254.40" y2="1412.45" stroke="#000000" stroke-width="1.5" stroke-linecap="butt"/>
<line x1="1251.10" y1="1385.64" x2="1257.70" y2="1385.64" stroke="#000000" stroke-width="1.6" stroke-linecap="butt"/>
<line x1="1303.78" y1="1393.54" x2="1303.78" y2="1418.94" stroke="#000000" stroke-width="1.5" stroke-linecap="butt"/>
<line x1="1300.48" y1="1393.54" x2="1307.08" y2="1393.54" stroke="#000000" stroke-width="1.6" stroke-linecap="butt"/>
<line x1="1352.88" y1="1528.70" x2="1352.88" y2="1540.84" stroke="#000000" stroke-width="1.5" stroke-linecap="butt"/>
<line x1="1349.58" y1="1528.70" x2="1356.18" y2="1528.70" stroke="#000000" stroke-width="1.6" stroke-linecap="butt"/>
<line x1="1402.26" y1="1518.26" x2="1402.26" y2="1535.19" stroke="#000000" stroke-width="1.5" stroke-linecap="butt"/>
<line x1="1398.96" y1="1518.26" x2="1405.56" y2="1518.26" stroke="#000000" stroke-width="1.6" stroke-linecap="butt"/>
<line x1="1451.64" y1="1500.77" x2="1451.64" y2="1528.14" stroke="#000000" stroke-width="1.5" stroke-linecap="butt"/>
<line x1="1448.34" y1="1500.77" x2="1454.94" y2="1500.77" stroke="#000000" stroke-width="1.6" stroke-linecap="butt"/>
<line x1="1501.30" y1="1476.78" x2="1501.30" y2="1505.56" stroke="#000000" stroke-width="1.5" stroke-linecap="butt"/>
<line x1="1498.00" y1="1476.78" x2="1504.60" y2="1476.78" stroke="#000000" stroke-width="1.6" stroke-linecap="butt"/>
<polyline points="1057.45,1684.18 1106.55,1663.01 1155.64,1635.36 1205.02,1591.63 1254.40,1580.90 1303.78,1597.27 1352.88,1622.10 1402.26,1632.54 1451.64,1645.24 1501.30,1631.13" fill="none" stroke="#3f8a1f" stroke-width="3.2" stroke-linejoin="miter"/>
<polyline points="1057.45,1684.18 1106.55,1653.14 1155.64,1611.94 1205.02,1590.21 1254.40,1604.32 1303.78,1584.57 1352.88,1603.76 1402.26,1625.49 1451.64,1628.87 1501.30,1626.33" fill="none" stroke="#e0101c" stroke-width="3.2" stroke-linejoin="miter"/>
<polyline points="1057.45,1684.18 1106.55,1639.03 1155.64,1596.70 1205.02,1552.97 1254.40,1552.12 1303.78,1569.05 1352.88,1590.21 1402.26,1600.94 1451.64,1605.73 1501.30,1600.94" fill="none" stroke="#1414ff" stroke-width="3.2" stroke-linejoin="miter"/>
<polyline points="1057.45,1684.18 1106.55,1619.84 1155.64,1512.62 1205.02,1441.51 1254.40,1412.45 1303.78,1418.94 1352.88,1540.84 1402.26,1535.19 1451.64,1528.14 1501.30,1505.56" fill="none" stroke="#000000" stroke-width="3.2" stroke-linejoin="miter"/>
<line x1="1025.00" y1="1329.75" x2="1025.00" y2="1685.55" stroke="#000" stroke-width="3.3" stroke-linecap="butt"/>
<line x1="1011.25" y1="1683.90" x2="1535.80" y2="1683.90" stroke="#000" stroke-width="3.3" stroke-linecap="butt"/>
<line x1="1011.25" y1="1683.90" x2="1025.00" y2="1683.90" stroke="#000" stroke-width="3.3" stroke-linecap="butt"/>
<line x1="1011.25" y1="1566.40" x2="1025.00" y2="1566.40" stroke="#000" stroke-width="3.3" stroke-linecap="butt"/>
<line x1="1011.25" y1="1448.90" x2="1025.00" y2="1448.90" stroke="#000" stroke-width="3.3" stroke-linecap="butt"/>
<line x1="1011.25" y1="1331.40" x2="1025.00" y2="1331.40" stroke="#000" stroke-width="3.3" stroke-linecap="butt"/>
<line x1="1057.45" y1="1683.90" x2="1057.45" y2="1698.00" stroke="#000" stroke-width="3.3" stroke-linecap="butt"/>
<line x1="1106.55" y1="1683.90" x2="1106.55" y2="1698.00" stroke="#000" stroke-width="3.3" stroke-linecap="butt"/>
<line x1="1155.64" y1="1683.90" x2="1155.64" y2="1698.00" stroke="#000" stroke-width="3.3" stroke-linecap="butt"/>
<line x1="1205.02" y1="1683.90" x2="1205.02" y2="1698.00" stroke="#000" stroke-width="3.3" stroke-linecap="butt"/>
<line x1="1254.40" y1="1683.90" x2="1254.40" y2="1698.00" stroke="#000" stroke-width="3.3" stroke-linecap="butt"/>
<line x1="1303.78" y1="1683.90" x2="1303.78" y2="1698.00" stroke="#000" stroke-width="3.3" stroke-linecap="butt"/>
<line x1="1352.88" y1="1683.90" x2="1352.88" y2="1698.00" stroke="#000" stroke-width="3.3" stroke-linecap="butt"/>
<line x1="1402.26" y1="1683.90" x2="1402.26" y2="1698.00" stroke="#000" stroke-width="3.3" stroke-linecap="butt"/>
<line x1="1451.64" y1="1683.90" x2="1451.64" y2="1698.00" stroke="#000" stroke-width="3.3" stroke-linecap="butt"/>
<line x1="1501.30" y1="1683.90" x2="1501.30" y2="1698.00" stroke="#000" stroke-width="3.3" stroke-linecap="butt"/>
<text x="936.46" y="1576.40" font-size="24" font-weight="bold" letter-spacing="1.100" fill="#000" >2×10</text>
<text x="996.46" y="1570.20" font-size="18" font-weight="bold" fill="#000">8</text>
<text x="936.94" y="1458.90" font-size="24" font-weight="bold" letter-spacing="0.940" fill="#000" >4×10</text>
<text x="996.46" y="1452.70" font-size="18" font-weight="bold" fill="#000">8</text>
<text x="936.46" y="1341.40" font-size="24" font-weight="bold" letter-spacing="1.100" fill="#000" >6×10</text>
<text x="996.46" y="1335.20" font-size="18" font-weight="bold" fill="#000">8</text>
<text x="990.64" y="1693.30" font-size="24" font-weight="bold" fill="#000">0</text>
<text x="1050.57" y="1725.80" font-size="24.8" font-weight="bold" fill="#000">0</text>
<text x="1096.26" y="1725.80" font-size="24.8" font-weight="bold" fill="#000">2</text>
<text x="1141.45" y="1725.80" font-size="24.8" font-weight="bold" fill="#000">15</text>
<text x="1191.51" y="1725.80" font-size="24.8" font-weight="bold" fill="#000">30</text>
<text x="1240.76" y="1725.80" font-size="24.8" font-weight="bold" fill="#000">45</text>
<text x="1290.08" y="1725.80" font-size="24.8" font-weight="bold" fill="#000">60</text>
<text x="1339.18" y="1725.80" font-size="24.8" font-weight="bold" fill="#000">90</text>
<text x="1381.36" y="1725.80" font-size="24.8" font-weight="bold" fill="#000">120</text>
<text x="1430.74" y="1725.80" font-size="24.8" font-weight="bold" fill="#000">150</text>
<text x="1480.40" y="1725.80" font-size="24.8" font-weight="bold" fill="#000">180</text>
<text transform="translate(1068.18 1308.75) scale(1.0077 1)" font-size="32.6" font-weight="bold" fill="#000" >Anatomical ventral regions</text>
<text transform="translate(1209.22 1769.80) scale(1.0119 1)" font-size="28" font-weight="bold" fill="#000" >Time (min)</text>
<text transform="translate(881.25 1672.01) rotate(-90) scale(1.1270 1)" font-size="28" font-weight="normal" fill="#000" stroke="#000" stroke-width="0.45">Total Radiant Efficiency</text>
<text transform="translate(916.00 1609.71) rotate(-90) scale(1.1301 1)" font-size="28" font-weight="normal" fill="#000" stroke="#000" stroke-width="0.45">[p/s] / [µW/cm²]</text>
<line x1="1541.75" y1="1391.80" x2="1577.90" y2="1391.80" stroke="#e02830" stroke-width="3.2" stroke-linecap="butt"/>
<text x="1596.22" y="1400.80" font-size="28.5" font-weight="normal" fill="#000">Head-Neck</text>
<line x1="1541.75" y1="1427.20" x2="1577.90" y2="1427.20" stroke="#4a9a2a" stroke-width="3.2" stroke-linecap="butt"/>
<text x="1597.08" y="1436.20" font-size="28.5" font-weight="normal" fill="#000">Chest</text>
<line x1="1541.75" y1="1462.20" x2="1577.90" y2="1462.20" stroke="#1414ff" stroke-width="3.2" stroke-linecap="butt"/>
<text x="1598.50" y="1471.20" font-size="28.5" font-weight="normal" fill="#000">Abdomen</text>
<line x1="1541.75" y1="1496.70" x2="1577.90" y2="1496.70" stroke="#000000" stroke-width="3.2" stroke-linecap="butt"/>
<text x="1597.08" y="1505.80" font-size="28.5" font-weight="normal" fill="#000">Genitourinary</text>
</g>
<text transform="translate(3.02 738.75) scale(0.9358 1)" font-size="49" font-weight="bold" fill="#000" >B</text>
<text transform="translate(819.22 740.60) scale(0.8828 1)" font-size="50.5" font-weight="bold" fill="#000" >C</text>
</svg>
</body>
</html>
